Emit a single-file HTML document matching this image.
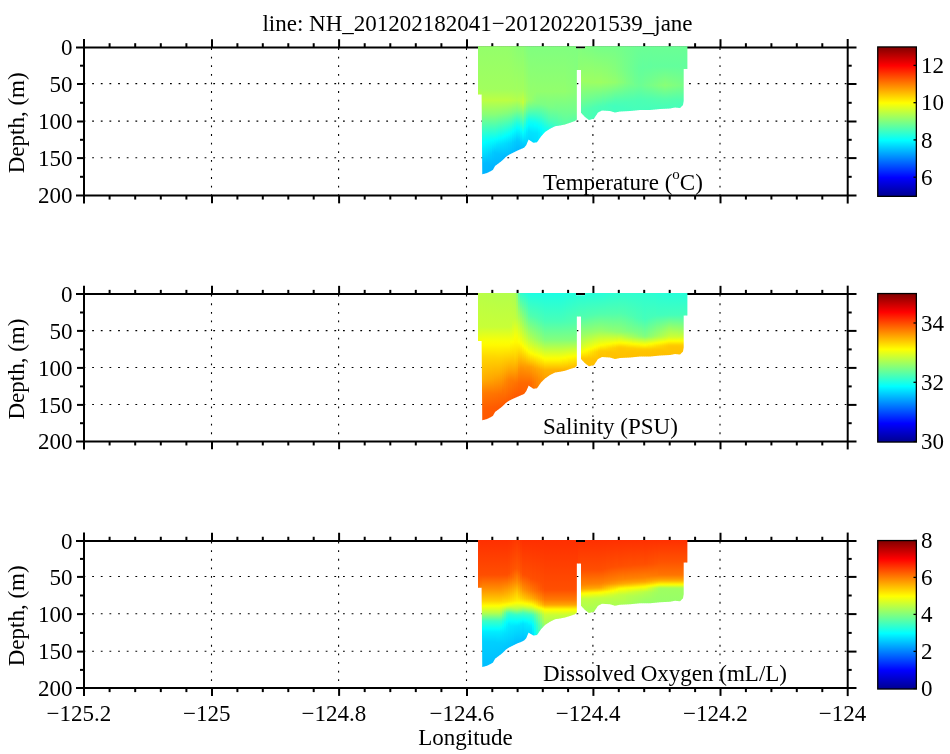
<!DOCTYPE html><html><head><meta charset="utf-8"><style>
html,body{margin:0;padding:0;background:#fff;width:950px;height:754px;overflow:hidden}
svg{display:block;will-change:transform}
text{font-family:"Liberation Serif", serif;fill:#000}
</style></head><body>
<svg width="950" height="754" viewBox="0 0 950 754">

<defs><linearGradient id="jet" x1="0" y1="1" x2="0" y2="0"><stop offset="0" stop-color="#000090"/><stop offset="0.125" stop-color="#0000ff"/><stop offset="0.375" stop-color="#00ffff"/><stop offset="0.625" stop-color="#ffff00"/><stop offset="0.875" stop-color="#ff0000"/><stop offset="1" stop-color="#800000"/></linearGradient></defs>
<text x="477.5" y="30.8" font-size="23" text-anchor="middle">line: NH_201202182041&#8722;201202201539_jane</text>
<g stroke="#000" stroke-width="1.1" fill="none"><line x1="211.5" y1="47.4" x2="211.5" y2="195.55" stroke-dasharray="1.8 6.8" stroke-dashoffset="7.9"/><line x1="338.6" y1="47.4" x2="338.6" y2="195.55" stroke-dasharray="1.8 6.8" stroke-dashoffset="7.9"/><line x1="466.5" y1="47.4" x2="466.5" y2="195.55" stroke-dasharray="1.8 6.8" stroke-dashoffset="7.9"/><line x1="592.9" y1="47.4" x2="592.9" y2="195.55" stroke-dasharray="1.8 6.8" stroke-dashoffset="7.9"/><line x1="720.0" y1="47.4" x2="720.0" y2="195.55" stroke-dasharray="1.8 6.8" stroke-dashoffset="7.9"/><line x1="84.0" y1="83.6" x2="847.7" y2="83.6" stroke-dasharray="1.8 6.85" stroke-dashoffset="0.5"/><line x1="84.0" y1="121.1" x2="847.7" y2="121.1" stroke-dasharray="1.8 6.85" stroke-dashoffset="0.5"/><line x1="84.0" y1="157.7" x2="847.7" y2="157.7" stroke-dasharray="1.8 6.85" stroke-dashoffset="0.5"/></g>
<g stroke="#000" stroke-width="2" fill="none"><line x1="76.0" y1="47.4" x2="856.5" y2="47.4"/><line x1="76.0" y1="195.55" x2="856.5" y2="195.55"/><line x1="84.0" y1="39.0" x2="84.0" y2="203.55"/><line x1="847.7" y1="39.0" x2="847.7" y2="203.55"/><line x1="212.0" y1="47.4" x2="212.0" y2="39.2"/><line x1="212.0" y1="195.55" x2="212.0" y2="203.35000000000002"/><line x1="339.1" y1="47.4" x2="339.1" y2="39.2"/><line x1="339.1" y1="195.55" x2="339.1" y2="203.35000000000002"/><line x1="467.0" y1="47.4" x2="467.0" y2="39.2"/><line x1="467.0" y1="195.55" x2="467.0" y2="203.35000000000002"/><line x1="593.4" y1="47.4" x2="593.4" y2="39.2"/><line x1="593.4" y1="195.55" x2="593.4" y2="203.35000000000002"/><line x1="720.5" y1="47.4" x2="720.5" y2="39.2"/><line x1="720.5" y1="195.55" x2="720.5" y2="203.35000000000002"/><line x1="109.6" y1="47.4" x2="109.6" y2="43.199999999999996"/><line x1="109.6" y1="195.55" x2="109.6" y2="199.55"/><line x1="135.2" y1="47.4" x2="135.2" y2="43.199999999999996"/><line x1="135.2" y1="195.55" x2="135.2" y2="199.55"/><line x1="160.8" y1="47.4" x2="160.8" y2="43.199999999999996"/><line x1="160.8" y1="195.55" x2="160.8" y2="199.55"/><line x1="186.4" y1="47.4" x2="186.4" y2="43.199999999999996"/><line x1="186.4" y1="195.55" x2="186.4" y2="199.55"/><line x1="237.4" y1="47.4" x2="237.4" y2="43.199999999999996"/><line x1="237.4" y1="195.55" x2="237.4" y2="199.55"/><line x1="262.8" y1="47.4" x2="262.8" y2="43.199999999999996"/><line x1="262.8" y1="195.55" x2="262.8" y2="199.55"/><line x1="288.3" y1="47.4" x2="288.3" y2="43.199999999999996"/><line x1="288.3" y1="195.55" x2="288.3" y2="199.55"/><line x1="313.7" y1="47.4" x2="313.7" y2="43.199999999999996"/><line x1="313.7" y1="195.55" x2="313.7" y2="199.55"/><line x1="364.7" y1="47.4" x2="364.7" y2="43.199999999999996"/><line x1="364.7" y1="195.55" x2="364.7" y2="199.55"/><line x1="390.3" y1="47.4" x2="390.3" y2="43.199999999999996"/><line x1="390.3" y1="195.55" x2="390.3" y2="199.55"/><line x1="415.8" y1="47.4" x2="415.8" y2="43.199999999999996"/><line x1="415.8" y1="195.55" x2="415.8" y2="199.55"/><line x1="441.4" y1="47.4" x2="441.4" y2="43.199999999999996"/><line x1="441.4" y1="195.55" x2="441.4" y2="199.55"/><line x1="492.3" y1="47.4" x2="492.3" y2="43.199999999999996"/><line x1="492.3" y1="195.55" x2="492.3" y2="199.55"/><line x1="517.6" y1="47.4" x2="517.6" y2="43.199999999999996"/><line x1="517.6" y1="195.55" x2="517.6" y2="199.55"/><line x1="542.8" y1="47.4" x2="542.8" y2="43.199999999999996"/><line x1="542.8" y1="195.55" x2="542.8" y2="199.55"/><line x1="568.1" y1="47.4" x2="568.1" y2="43.199999999999996"/><line x1="568.1" y1="195.55" x2="568.1" y2="199.55"/><line x1="618.8" y1="47.4" x2="618.8" y2="43.199999999999996"/><line x1="618.8" y1="195.55" x2="618.8" y2="199.55"/><line x1="644.2" y1="47.4" x2="644.2" y2="43.199999999999996"/><line x1="644.2" y1="195.55" x2="644.2" y2="199.55"/><line x1="669.7" y1="47.4" x2="669.7" y2="43.199999999999996"/><line x1="669.7" y1="195.55" x2="669.7" y2="199.55"/><line x1="695.1" y1="47.4" x2="695.1" y2="43.199999999999996"/><line x1="695.1" y1="195.55" x2="695.1" y2="199.55"/><line x1="745.9" y1="47.4" x2="745.9" y2="43.199999999999996"/><line x1="745.9" y1="195.55" x2="745.9" y2="199.55"/><line x1="771.4" y1="47.4" x2="771.4" y2="43.199999999999996"/><line x1="771.4" y1="195.55" x2="771.4" y2="199.55"/><line x1="796.8" y1="47.4" x2="796.8" y2="43.199999999999996"/><line x1="796.8" y1="195.55" x2="796.8" y2="199.55"/><line x1="822.3" y1="47.4" x2="822.3" y2="43.199999999999996"/><line x1="822.3" y1="195.55" x2="822.3" y2="199.55"/><line x1="84.0" y1="84.0" x2="77.0" y2="84.0"/><line x1="847.7" y1="84.0" x2="856.5" y2="84.0"/><line x1="84.0" y1="121.5" x2="77.0" y2="121.5"/><line x1="847.7" y1="121.5" x2="856.5" y2="121.5"/><line x1="84.0" y1="158.1" x2="77.0" y2="158.1"/><line x1="847.7" y1="158.1" x2="856.5" y2="158.1"/><line x1="84.0" y1="65.7" x2="80.0" y2="65.7"/><line x1="847.7" y1="65.7" x2="851.7" y2="65.7"/><line x1="84.0" y1="102.8" x2="80.0" y2="102.8"/><line x1="847.7" y1="102.8" x2="851.7" y2="102.8"/><line x1="84.0" y1="139.8" x2="80.0" y2="139.8"/><line x1="847.7" y1="139.8" x2="851.7" y2="139.8"/><line x1="84.0" y1="176.8" x2="80.0" y2="176.8"/><line x1="847.7" y1="176.8" x2="851.7" y2="176.8"/></g>
<defs><clipPath id="ac"><polygon points="478.0,46.3 576.0,46.3 576.0,48.6 585.0,48.6 585.0,46.3 687.4,46.3 687.4,69.0 683.7,69.0 683.7,101.1 683.0,105.1 680.0,108.1 675.0,107.6 670.0,108.6 660.0,109.1 650.0,110.1 640.0,110.1 630.0,111.1 620.0,111.6 615.0,112.6 610.0,111.1 602.0,110.6 598.0,112.6 595.0,117.1 594.0,118.6 589.0,119.9 585.0,116.9 581.0,112.7 581.0,70.0 576.8,70.0 576.8,119.5 575.0,121.1 570.0,122.8 565.0,124.5 560.0,125.4 555.0,126.2 550.0,128.7 545.0,132.1 541.0,136.4 537.0,142.2 533.4,142.7 530.0,140.5 528.5,139.5 528.0,141.1 526.0,145.5 524.0,147.8 521.0,149.1 517.0,150.8 513.0,152.7 509.0,154.7 506.0,156.7 503.0,159.7 501.0,161.4 498.0,163.7 495.0,166.0 493.0,169.7 491.0,171.0 487.0,173.0 482.3,174.3 481.6,94.6 478.0,94.6"/></clipPath><linearGradient id="a0" gradientUnits="userSpaceOnUse" x1="0" y1="45.3" x2="0" y2="175.3"><stop offset="0.000" stop-color="#94ff6b"/><stop offset="0.308" stop-color="#9fff60"/><stop offset="0.377" stop-color="#bdff42"/><stop offset="1.000" stop-color="#bdff42"/></linearGradient><linearGradient id="a1" gradientUnits="userSpaceOnUse" x1="0" y1="45.3" x2="0" y2="175.3"><stop offset="0.000" stop-color="#94ff6b"/><stop offset="0.315" stop-color="#a1ff5e"/><stop offset="0.385" stop-color="#baff45"/><stop offset="0.446" stop-color="#baff45"/><stop offset="0.831" stop-color="#86ff79"/><stop offset="0.946" stop-color="#7cff83"/><stop offset="1.000" stop-color="#7aff85"/></linearGradient><linearGradient id="a2" gradientUnits="userSpaceOnUse" x1="0" y1="45.3" x2="0" y2="175.3"><stop offset="0.000" stop-color="#94ff6b"/><stop offset="0.331" stop-color="#a1ff5e"/><stop offset="0.423" stop-color="#bcff43"/><stop offset="0.531" stop-color="#96ff69"/><stop offset="0.708" stop-color="#42ffbd"/><stop offset="0.900" stop-color="#00fcff"/><stop offset="1.000" stop-color="#00f5ff"/></linearGradient><linearGradient id="a3" gradientUnits="userSpaceOnUse" x1="0" y1="45.3" x2="0" y2="175.3"><stop offset="0.000" stop-color="#94ff6b"/><stop offset="0.338" stop-color="#a1ff5e"/><stop offset="0.423" stop-color="#bcff43"/><stop offset="0.531" stop-color="#89ff76"/><stop offset="0.700" stop-color="#1cffe3"/><stop offset="0.754" stop-color="#00ffff"/><stop offset="0.877" stop-color="#00c8ff"/><stop offset="0.908" stop-color="#00bbff"/><stop offset="1.000" stop-color="#00b3ff"/></linearGradient><linearGradient id="a4" gradientUnits="userSpaceOnUse" x1="0" y1="45.3" x2="0" y2="175.3"><stop offset="0.000" stop-color="#94ff6b"/><stop offset="0.338" stop-color="#a1ff5e"/><stop offset="0.423" stop-color="#bcff43"/><stop offset="0.531" stop-color="#89ff76"/><stop offset="0.723" stop-color="#0dfff2"/><stop offset="0.746" stop-color="#00ffff"/><stop offset="0.908" stop-color="#00bbff"/><stop offset="1.000" stop-color="#00b2ff"/></linearGradient><linearGradient id="a5" gradientUnits="userSpaceOnUse" x1="0" y1="45.3" x2="0" y2="175.3"><stop offset="0.000" stop-color="#94ff6b"/><stop offset="0.338" stop-color="#a1ff5e"/><stop offset="0.423" stop-color="#bcff43"/><stop offset="0.531" stop-color="#89ff76"/><stop offset="0.738" stop-color="#01fffe"/><stop offset="0.900" stop-color="#00bbff"/><stop offset="1.000" stop-color="#00b3ff"/></linearGradient><linearGradient id="a6" gradientUnits="userSpaceOnUse" x1="0" y1="45.3" x2="0" y2="175.3"><stop offset="0.000" stop-color="#94ff6b"/><stop offset="0.338" stop-color="#a1ff5e"/><stop offset="0.423" stop-color="#bcff43"/><stop offset="0.531" stop-color="#89ff76"/><stop offset="0.738" stop-color="#00feff"/><stop offset="0.846" stop-color="#00cdff"/><stop offset="0.915" stop-color="#00b8ff"/><stop offset="1.000" stop-color="#00b2ff"/></linearGradient><linearGradient id="a7" gradientUnits="userSpaceOnUse" x1="0" y1="45.3" x2="0" y2="175.3"><stop offset="0.000" stop-color="#94ff6b"/><stop offset="0.338" stop-color="#a1ff5e"/><stop offset="0.423" stop-color="#bcff43"/><stop offset="0.531" stop-color="#89ff76"/><stop offset="0.731" stop-color="#01fffe"/><stop offset="0.838" stop-color="#00ccff"/><stop offset="0.931" stop-color="#00b5ff"/><stop offset="1.000" stop-color="#00b2ff"/></linearGradient><linearGradient id="a8" gradientUnits="userSpaceOnUse" x1="0" y1="45.3" x2="0" y2="175.3"><stop offset="0.000" stop-color="#94ff6b"/><stop offset="0.338" stop-color="#a1ff5e"/><stop offset="0.423" stop-color="#bcff43"/><stop offset="0.531" stop-color="#89ff76"/><stop offset="0.708" stop-color="#10ffef"/><stop offset="0.731" stop-color="#00feff"/><stop offset="0.823" stop-color="#00cbff"/><stop offset="0.938" stop-color="#00b3ff"/><stop offset="1.000" stop-color="#00b2ff"/></linearGradient><linearGradient id="a9" gradientUnits="userSpaceOnUse" x1="0" y1="45.3" x2="0" y2="175.3"><stop offset="0.000" stop-color="#94ff6b"/><stop offset="0.338" stop-color="#a1ff5e"/><stop offset="0.423" stop-color="#bcff43"/><stop offset="0.531" stop-color="#89ff76"/><stop offset="0.692" stop-color="#1bffe4"/><stop offset="0.723" stop-color="#02fffd"/><stop offset="0.823" stop-color="#00c7ff"/><stop offset="0.946" stop-color="#00b2ff"/><stop offset="1.000" stop-color="#00b2ff"/></linearGradient><linearGradient id="a10" gradientUnits="userSpaceOnUse" x1="0" y1="45.3" x2="0" y2="175.3"><stop offset="0.000" stop-color="#94ff6b"/><stop offset="0.338" stop-color="#a1ff5e"/><stop offset="0.423" stop-color="#bcff43"/><stop offset="0.531" stop-color="#87ff78"/><stop offset="0.708" stop-color="#0bfff4"/><stop offset="0.723" stop-color="#00feff"/><stop offset="0.761" stop-color="#00e4ff"/><stop offset="0.831" stop-color="#00c4ff"/><stop offset="0.946" stop-color="#00b2ff"/><stop offset="1.000" stop-color="#00b2ff"/></linearGradient><linearGradient id="a11" gradientUnits="userSpaceOnUse" x1="0" y1="45.3" x2="0" y2="175.3"><stop offset="0.000" stop-color="#94ff6b"/><stop offset="0.338" stop-color="#a1ff5e"/><stop offset="0.423" stop-color="#bcff43"/><stop offset="0.523" stop-color="#8aff75"/><stop offset="0.715" stop-color="#01fffe"/><stop offset="0.761" stop-color="#00e2ff"/><stop offset="0.838" stop-color="#00c2ff"/><stop offset="0.946" stop-color="#00b2ff"/><stop offset="1.000" stop-color="#00b2ff"/></linearGradient><linearGradient id="a12" gradientUnits="userSpaceOnUse" x1="0" y1="45.3" x2="0" y2="175.3"><stop offset="0.000" stop-color="#94ff6b"/><stop offset="0.338" stop-color="#a1ff5e"/><stop offset="0.423" stop-color="#bcff43"/><stop offset="0.523" stop-color="#89ff76"/><stop offset="0.715" stop-color="#00fcff"/><stop offset="0.761" stop-color="#00dfff"/><stop offset="0.838" stop-color="#00c0ff"/><stop offset="0.923" stop-color="#00b3ff"/><stop offset="1.000" stop-color="#00b2ff"/></linearGradient><linearGradient id="a13" gradientUnits="userSpaceOnUse" x1="0" y1="45.3" x2="0" y2="175.3"><stop offset="0.000" stop-color="#94ff6b"/><stop offset="0.338" stop-color="#a1ff5e"/><stop offset="0.423" stop-color="#bcff43"/><stop offset="0.523" stop-color="#87ff78"/><stop offset="0.708" stop-color="#00feff"/><stop offset="0.754" stop-color="#00e0ff"/><stop offset="0.854" stop-color="#00bbff"/><stop offset="0.969" stop-color="#00b2ff"/><stop offset="1.000" stop-color="#00b2ff"/></linearGradient><linearGradient id="a14" gradientUnits="userSpaceOnUse" x1="0" y1="45.3" x2="0" y2="175.3"><stop offset="0.000" stop-color="#94ff6b"/><stop offset="0.338" stop-color="#a1ff5e"/><stop offset="0.423" stop-color="#bcff43"/><stop offset="0.523" stop-color="#85ff7a"/><stop offset="0.700" stop-color="#00ffff"/><stop offset="0.754" stop-color="#00ddff"/><stop offset="0.869" stop-color="#00b5ff"/><stop offset="1.000" stop-color="#00b2ff"/></linearGradient><linearGradient id="a15" gradientUnits="userSpaceOnUse" x1="0" y1="45.3" x2="0" y2="175.3"><stop offset="0.000" stop-color="#94ff6b"/><stop offset="0.338" stop-color="#a1ff5e"/><stop offset="0.423" stop-color="#bcff43"/><stop offset="0.523" stop-color="#83ff7c"/><stop offset="0.692" stop-color="#01fffe"/><stop offset="0.754" stop-color="#00daff"/><stop offset="0.877" stop-color="#00b3ff"/><stop offset="1.000" stop-color="#00b2ff"/></linearGradient><linearGradient id="a16" gradientUnits="userSpaceOnUse" x1="0" y1="45.3" x2="0" y2="175.3"><stop offset="0.000" stop-color="#93ff6c"/><stop offset="0.338" stop-color="#a1ff5e"/><stop offset="0.423" stop-color="#bbff44"/><stop offset="0.523" stop-color="#80ff7f"/><stop offset="0.685" stop-color="#01fffe"/><stop offset="0.754" stop-color="#00d6ff"/><stop offset="0.877" stop-color="#00b3ff"/><stop offset="1.000" stop-color="#00b3ff"/></linearGradient><linearGradient id="a17" gradientUnits="userSpaceOnUse" x1="0" y1="45.3" x2="0" y2="175.3"><stop offset="0.000" stop-color="#91ff6e"/><stop offset="0.338" stop-color="#a1ff5e"/><stop offset="0.423" stop-color="#b9ff46"/><stop offset="0.515" stop-color="#80ff7f"/><stop offset="0.654" stop-color="#0efff1"/><stop offset="0.677" stop-color="#00fdff"/><stop offset="0.754" stop-color="#00d2ff"/><stop offset="0.869" stop-color="#00b2ff"/><stop offset="1.000" stop-color="#00b2ff"/></linearGradient><linearGradient id="a18" gradientUnits="userSpaceOnUse" x1="0" y1="45.3" x2="0" y2="175.3"><stop offset="0.000" stop-color="#8fff70"/><stop offset="0.338" stop-color="#a1ff5e"/><stop offset="0.423" stop-color="#b7ff48"/><stop offset="0.515" stop-color="#7bff84"/><stop offset="0.608" stop-color="#2affd5"/><stop offset="0.661" stop-color="#00ffff"/><stop offset="0.746" stop-color="#00cfff"/><stop offset="0.861" stop-color="#00b4ff"/><stop offset="1.000" stop-color="#00b2ff"/></linearGradient><linearGradient id="a19" gradientUnits="userSpaceOnUse" x1="0" y1="45.3" x2="0" y2="175.3"><stop offset="0.000" stop-color="#8dff72"/><stop offset="0.338" stop-color="#a0ff5f"/><stop offset="0.423" stop-color="#b5ff4a"/><stop offset="0.508" stop-color="#7dff82"/><stop offset="0.592" stop-color="#2dffd2"/><stop offset="0.654" stop-color="#00fcff"/><stop offset="0.746" stop-color="#00caff"/><stop offset="0.846" stop-color="#00b5ff"/><stop offset="1.000" stop-color="#00b2ff"/></linearGradient><linearGradient id="a20" gradientUnits="userSpaceOnUse" x1="0" y1="45.3" x2="0" y2="175.3"><stop offset="0.000" stop-color="#8bff74"/><stop offset="0.346" stop-color="#a2ff5d"/><stop offset="0.423" stop-color="#b2ff4d"/><stop offset="0.508" stop-color="#78ff87"/><stop offset="0.592" stop-color="#25ffda"/><stop offset="0.638" stop-color="#00ffff"/><stop offset="0.731" stop-color="#00caff"/><stop offset="0.838" stop-color="#00b3ff"/><stop offset="1.000" stop-color="#00b2ff"/></linearGradient><linearGradient id="a21" gradientUnits="userSpaceOnUse" x1="0" y1="45.3" x2="0" y2="175.3"><stop offset="0.000" stop-color="#8aff75"/><stop offset="0.338" stop-color="#a0ff5f"/><stop offset="0.423" stop-color="#b5ff4a"/><stop offset="0.500" stop-color="#82ff7d"/><stop offset="0.592" stop-color="#28ffd7"/><stop offset="0.638" stop-color="#02fffd"/><stop offset="0.738" stop-color="#00c9ff"/><stop offset="0.823" stop-color="#00b5ff"/><stop offset="1.000" stop-color="#00b5ff"/></linearGradient><linearGradient id="a22" gradientUnits="userSpaceOnUse" x1="0" y1="45.3" x2="0" y2="175.3"><stop offset="0.000" stop-color="#8aff75"/><stop offset="0.338" stop-color="#a1ff5e"/><stop offset="0.431" stop-color="#bbff44"/><stop offset="0.454" stop-color="#aeff51"/><stop offset="0.538" stop-color="#68ff97"/><stop offset="0.654" stop-color="#02fffd"/><stop offset="0.746" stop-color="#00cdff"/><stop offset="0.800" stop-color="#00bbff"/><stop offset="1.000" stop-color="#00b9ff"/></linearGradient><linearGradient id="a23" gradientUnits="userSpaceOnUse" x1="0" y1="45.3" x2="0" y2="175.3"><stop offset="0.000" stop-color="#8aff75"/><stop offset="0.338" stop-color="#a2ff5d"/><stop offset="0.438" stop-color="#c6ff39"/><stop offset="0.608" stop-color="#39ffc6"/><stop offset="0.669" stop-color="#04fffb"/><stop offset="0.692" stop-color="#00f4ff"/><stop offset="0.761" stop-color="#00cbff"/><stop offset="0.800" stop-color="#00bdff"/><stop offset="1.000" stop-color="#00bdff"/></linearGradient><linearGradient id="a24" gradientUnits="userSpaceOnUse" x1="0" y1="45.3" x2="0" y2="175.3"><stop offset="0.000" stop-color="#86ff79"/><stop offset="0.338" stop-color="#9dff62"/><stop offset="0.431" stop-color="#b2ff4d"/><stop offset="0.454" stop-color="#a4ff5b"/><stop offset="0.615" stop-color="#1cffe3"/><stop offset="0.654" stop-color="#00fdff"/><stop offset="0.754" stop-color="#00d0ff"/><stop offset="0.800" stop-color="#00c5ff"/><stop offset="1.000" stop-color="#00c5ff"/></linearGradient><linearGradient id="a25" gradientUnits="userSpaceOnUse" x1="0" y1="45.3" x2="0" y2="175.3"><stop offset="0.000" stop-color="#82ff7d"/><stop offset="0.361" stop-color="#9bff64"/><stop offset="0.423" stop-color="#a4ff5b"/><stop offset="0.500" stop-color="#6aff95"/><stop offset="0.585" stop-color="#18ffe7"/><stop offset="0.623" stop-color="#01fffe"/><stop offset="0.669" stop-color="#00e9ff"/><stop offset="0.761" stop-color="#00d0ff"/><stop offset="1.000" stop-color="#00cdff"/></linearGradient><linearGradient id="a26" gradientUnits="userSpaceOnUse" x1="0" y1="45.3" x2="0" y2="175.3"><stop offset="0.000" stop-color="#80ff80"/><stop offset="0.423" stop-color="#9aff65"/><stop offset="0.508" stop-color="#57ffa8"/><stop offset="0.577" stop-color="#10ffef"/><stop offset="0.608" stop-color="#00feff"/><stop offset="0.661" stop-color="#00e4ff"/><stop offset="0.761" stop-color="#00d2ff"/><stop offset="1.000" stop-color="#00d2ff"/></linearGradient><linearGradient id="a27" gradientUnits="userSpaceOnUse" x1="0" y1="45.3" x2="0" y2="175.3"><stop offset="0.000" stop-color="#80ff80"/><stop offset="0.415" stop-color="#96ff69"/><stop offset="0.446" stop-color="#87ff78"/><stop offset="0.523" stop-color="#48ffb7"/><stop offset="0.585" stop-color="#0efff1"/><stop offset="0.615" stop-color="#00fcff"/><stop offset="0.669" stop-color="#00e3ff"/><stop offset="0.761" stop-color="#00d4ff"/><stop offset="1.000" stop-color="#00d4ff"/></linearGradient><linearGradient id="a28" gradientUnits="userSpaceOnUse" x1="0" y1="45.3" x2="0" y2="175.3"><stop offset="0.000" stop-color="#80ff80"/><stop offset="0.369" stop-color="#94ff6b"/><stop offset="0.423" stop-color="#90ff6f"/><stop offset="0.477" stop-color="#6eff91"/><stop offset="0.546" stop-color="#33ffcc"/><stop offset="0.592" stop-color="#0bfff4"/><stop offset="0.623" stop-color="#00f9ff"/><stop offset="0.677" stop-color="#00e2ff"/><stop offset="0.769" stop-color="#00d6ff"/><stop offset="1.000" stop-color="#00d6ff"/></linearGradient><linearGradient id="a29" gradientUnits="userSpaceOnUse" x1="0" y1="45.3" x2="0" y2="175.3"><stop offset="0.000" stop-color="#80ff80"/><stop offset="0.361" stop-color="#93ff6c"/><stop offset="0.431" stop-color="#88ff77"/><stop offset="0.477" stop-color="#6cff93"/><stop offset="0.546" stop-color="#34ffcb"/><stop offset="0.592" stop-color="#0cfff3"/><stop offset="0.615" stop-color="#00ffff"/><stop offset="0.677" stop-color="#00e3ff"/><stop offset="0.777" stop-color="#00d8ff"/><stop offset="1.000" stop-color="#00d8ff"/></linearGradient><linearGradient id="a30" gradientUnits="userSpaceOnUse" x1="0" y1="45.3" x2="0" y2="175.3"><stop offset="0.000" stop-color="#80ff80"/><stop offset="0.354" stop-color="#92ff6d"/><stop offset="0.446" stop-color="#80ff7f"/><stop offset="0.538" stop-color="#3dffc2"/><stop offset="0.600" stop-color="#0afff5"/><stop offset="0.623" stop-color="#00fcff"/><stop offset="0.677" stop-color="#00e4ff"/><stop offset="0.785" stop-color="#00daff"/><stop offset="1.000" stop-color="#00daff"/></linearGradient><linearGradient id="a31" gradientUnits="userSpaceOnUse" x1="0" y1="45.3" x2="0" y2="175.3"><stop offset="0.000" stop-color="#80ff80"/><stop offset="0.354" stop-color="#92ff6d"/><stop offset="0.446" stop-color="#7fff80"/><stop offset="0.538" stop-color="#40ffbf"/><stop offset="0.600" stop-color="#0ffff0"/><stop offset="0.631" stop-color="#00fdff"/><stop offset="0.677" stop-color="#00eaff"/><stop offset="0.792" stop-color="#00e1ff"/><stop offset="1.000" stop-color="#00e1ff"/></linearGradient><linearGradient id="a32" gradientUnits="userSpaceOnUse" x1="0" y1="45.3" x2="0" y2="175.3"><stop offset="0.000" stop-color="#80ff80"/><stop offset="0.354" stop-color="#92ff6d"/><stop offset="0.454" stop-color="#7bff84"/><stop offset="0.546" stop-color="#40ffbf"/><stop offset="0.608" stop-color="#13ffec"/><stop offset="0.646" stop-color="#00fdff"/><stop offset="0.685" stop-color="#00f3ff"/><stop offset="0.815" stop-color="#00edff"/><stop offset="1.000" stop-color="#00edff"/></linearGradient><linearGradient id="a33" gradientUnits="userSpaceOnUse" x1="0" y1="45.3" x2="0" y2="175.3"><stop offset="0.000" stop-color="#80ff80"/><stop offset="0.354" stop-color="#92ff6d"/><stop offset="0.454" stop-color="#7cff83"/><stop offset="0.554" stop-color="#41ffbe"/><stop offset="0.615" stop-color="#16ffe9"/><stop offset="0.654" stop-color="#04fffb"/><stop offset="0.700" stop-color="#00fdff"/><stop offset="0.977" stop-color="#00f9ff"/><stop offset="1.000" stop-color="#00f9ff"/></linearGradient><linearGradient id="a34" gradientUnits="userSpaceOnUse" x1="0" y1="45.3" x2="0" y2="175.3"><stop offset="0.000" stop-color="#80ff80"/><stop offset="0.354" stop-color="#92ff6d"/><stop offset="0.461" stop-color="#7aff85"/><stop offset="0.561" stop-color="#43ffbc"/><stop offset="0.638" stop-color="#11ffee"/><stop offset="0.708" stop-color="#08fff7"/><stop offset="1.000" stop-color="#06fff9"/></linearGradient><linearGradient id="a35" gradientUnits="userSpaceOnUse" x1="0" y1="45.3" x2="0" y2="175.3"><stop offset="0.000" stop-color="#80ff80"/><stop offset="0.354" stop-color="#92ff6d"/><stop offset="0.461" stop-color="#7cff83"/><stop offset="0.569" stop-color="#45ffba"/><stop offset="0.638" stop-color="#18ffe7"/><stop offset="0.846" stop-color="#12ffed"/><stop offset="1.000" stop-color="#12ffed"/></linearGradient><linearGradient id="a36" gradientUnits="userSpaceOnUse" x1="0" y1="45.3" x2="0" y2="175.3"><stop offset="0.000" stop-color="#80ff80"/><stop offset="0.354" stop-color="#92ff6d"/><stop offset="0.469" stop-color="#7bff84"/><stop offset="0.569" stop-color="#4dffb2"/><stop offset="0.638" stop-color="#20ffdf"/><stop offset="1.000" stop-color="#1effe1"/></linearGradient><linearGradient id="a37" gradientUnits="userSpaceOnUse" x1="0" y1="45.3" x2="0" y2="175.3"><stop offset="0.000" stop-color="#80ff80"/><stop offset="0.354" stop-color="#92ff6d"/><stop offset="0.477" stop-color="#79ff86"/><stop offset="0.569" stop-color="#52ffad"/><stop offset="0.638" stop-color="#27ffd8"/><stop offset="1.000" stop-color="#27ffd8"/></linearGradient><linearGradient id="a38" gradientUnits="userSpaceOnUse" x1="0" y1="45.3" x2="0" y2="175.3"><stop offset="0.000" stop-color="#80ff80"/><stop offset="0.354" stop-color="#92ff6d"/><stop offset="0.477" stop-color="#79ff86"/><stop offset="0.577" stop-color="#4fffb0"/><stop offset="0.638" stop-color="#2effd1"/><stop offset="1.000" stop-color="#2effd1"/></linearGradient><linearGradient id="a39" gradientUnits="userSpaceOnUse" x1="0" y1="45.3" x2="0" y2="175.3"><stop offset="0.000" stop-color="#80ff80"/><stop offset="0.354" stop-color="#92ff6d"/><stop offset="0.485" stop-color="#76ff89"/><stop offset="0.577" stop-color="#52ffad"/><stop offset="0.638" stop-color="#35ffca"/><stop offset="1.000" stop-color="#35ffca"/></linearGradient><linearGradient id="a40" gradientUnits="userSpaceOnUse" x1="0" y1="45.3" x2="0" y2="175.3"><stop offset="0.000" stop-color="#80ff80"/><stop offset="0.354" stop-color="#92ff6d"/><stop offset="0.492" stop-color="#74ff8b"/><stop offset="0.592" stop-color="#4dffb2"/><stop offset="0.646" stop-color="#3cffc3"/><stop offset="1.000" stop-color="#3cffc3"/></linearGradient><linearGradient id="a41" gradientUnits="userSpaceOnUse" x1="0" y1="45.3" x2="0" y2="175.3"><stop offset="0.000" stop-color="#80ff80"/><stop offset="0.354" stop-color="#92ff6d"/><stop offset="0.500" stop-color="#73ff8c"/><stop offset="0.638" stop-color="#42ffbd"/><stop offset="1.000" stop-color="#42ffbd"/></linearGradient><linearGradient id="a42" gradientUnits="userSpaceOnUse" x1="0" y1="45.3" x2="0" y2="175.3"><stop offset="0.000" stop-color="#80ff80"/><stop offset="0.354" stop-color="#92ff6d"/><stop offset="0.515" stop-color="#6eff91"/><stop offset="0.623" stop-color="#4cffb3"/><stop offset="1.000" stop-color="#49ffb6"/></linearGradient><linearGradient id="a43" gradientUnits="userSpaceOnUse" x1="0" y1="45.3" x2="0" y2="175.3"><stop offset="0.000" stop-color="#80ff80"/><stop offset="0.354" stop-color="#92ff6d"/><stop offset="0.531" stop-color="#6bff94"/><stop offset="0.623" stop-color="#51ffae"/><stop offset="1.000" stop-color="#50ffaf"/></linearGradient><linearGradient id="a44" gradientUnits="userSpaceOnUse" x1="0" y1="45.3" x2="0" y2="175.3"><stop offset="0.000" stop-color="#80ff80"/><stop offset="0.354" stop-color="#92ff6d"/><stop offset="0.546" stop-color="#68ff97"/><stop offset="0.615" stop-color="#57ffa8"/><stop offset="1.000" stop-color="#57ffa8"/></linearGradient><linearGradient id="a45" gradientUnits="userSpaceOnUse" x1="0" y1="45.3" x2="0" y2="175.3"><stop offset="0.000" stop-color="#80ff80"/><stop offset="0.354" stop-color="#90ff6f"/><stop offset="0.531" stop-color="#6cff93"/><stop offset="0.615" stop-color="#57ffa8"/><stop offset="1.000" stop-color="#57ffa8"/></linearGradient><linearGradient id="a46" gradientUnits="userSpaceOnUse" x1="0" y1="45.3" x2="0" y2="175.3"><stop offset="0.000" stop-color="#80ff80"/><stop offset="0.354" stop-color="#8fff70"/><stop offset="0.523" stop-color="#6dff92"/><stop offset="0.608" stop-color="#57ffa8"/><stop offset="1.000" stop-color="#57ffa8"/></linearGradient><linearGradient id="a47" gradientUnits="userSpaceOnUse" x1="0" y1="45.3" x2="0" y2="175.3"><stop offset="0.000" stop-color="#80ff80"/><stop offset="0.354" stop-color="#8dff72"/><stop offset="0.515" stop-color="#70ff8f"/><stop offset="0.592" stop-color="#59ffa6"/><stop offset="1.000" stop-color="#57ffa8"/></linearGradient><linearGradient id="a48" gradientUnits="userSpaceOnUse" x1="0" y1="45.3" x2="0" y2="175.3"><stop offset="0.000" stop-color="#80ff80"/><stop offset="0.354" stop-color="#8cff73"/><stop offset="0.515" stop-color="#6fff90"/><stop offset="0.585" stop-color="#59ffa6"/><stop offset="1.000" stop-color="#57ffa8"/></linearGradient><linearGradient id="a49" gradientUnits="userSpaceOnUse" x1="0" y1="45.3" x2="0" y2="175.3"><stop offset="0.000" stop-color="#80ff80"/><stop offset="0.361" stop-color="#89ff76"/><stop offset="0.508" stop-color="#72ff8d"/><stop offset="0.585" stop-color="#58ffa7"/><stop offset="1.000" stop-color="#57ffa8"/></linearGradient><linearGradient id="a50" gradientUnits="userSpaceOnUse" x1="0" y1="45.3" x2="0" y2="175.3"><stop offset="0.000" stop-color="#80ff80"/><stop offset="0.361" stop-color="#87ff78"/><stop offset="0.508" stop-color="#72ff8d"/><stop offset="0.585" stop-color="#57ffa8"/><stop offset="1.000" stop-color="#57ffa8"/></linearGradient><linearGradient id="a51" gradientUnits="userSpaceOnUse" x1="0" y1="45.3" x2="0" y2="175.3"><stop offset="0.000" stop-color="#80ff80"/><stop offset="0.238" stop-color="#90ff6f"/><stop offset="0.292" stop-color="#90ff6f"/><stop offset="0.400" stop-color="#7dff82"/><stop offset="0.585" stop-color="#52ffad"/><stop offset="1.000" stop-color="#52ffad"/></linearGradient><linearGradient id="a52" gradientUnits="userSpaceOnUse" x1="0" y1="45.3" x2="0" y2="175.3"><stop offset="0.000" stop-color="#80ff80"/><stop offset="0.185" stop-color="#8fff70"/><stop offset="0.269" stop-color="#9eff61"/><stop offset="0.408" stop-color="#75ff8a"/><stop offset="0.492" stop-color="#55ffaa"/><stop offset="0.592" stop-color="#4dffb2"/><stop offset="1.000" stop-color="#4dffb2"/></linearGradient><linearGradient id="a53" gradientUnits="userSpaceOnUse" x1="0" y1="45.3" x2="0" y2="175.3"><stop offset="0.000" stop-color="#7eff81"/><stop offset="0.185" stop-color="#8fff70"/><stop offset="0.269" stop-color="#9dff62"/><stop offset="0.408" stop-color="#74ff8b"/><stop offset="0.492" stop-color="#54ffab"/><stop offset="0.592" stop-color="#4bffb4"/><stop offset="1.000" stop-color="#4bffb4"/></linearGradient><linearGradient id="a54" gradientUnits="userSpaceOnUse" x1="0" y1="45.3" x2="0" y2="175.3"><stop offset="0.000" stop-color="#7dff82"/><stop offset="0.192" stop-color="#91ff6e"/><stop offset="0.277" stop-color="#9cff63"/><stop offset="0.408" stop-color="#73ff8c"/><stop offset="0.492" stop-color="#52ffad"/><stop offset="0.600" stop-color="#4affb5"/><stop offset="1.000" stop-color="#4affb5"/></linearGradient><linearGradient id="a55" gradientUnits="userSpaceOnUse" x1="0" y1="45.3" x2="0" y2="175.3"><stop offset="0.000" stop-color="#7cff83"/><stop offset="0.200" stop-color="#92ff6d"/><stop offset="0.277" stop-color="#9cff63"/><stop offset="0.408" stop-color="#71ff8e"/><stop offset="0.485" stop-color="#52ffad"/><stop offset="0.600" stop-color="#49ffb6"/><stop offset="1.000" stop-color="#49ffb6"/></linearGradient><linearGradient id="a56" gradientUnits="userSpaceOnUse" x1="0" y1="45.3" x2="0" y2="175.3"><stop offset="0.000" stop-color="#7bff84"/><stop offset="0.208" stop-color="#93ff6c"/><stop offset="0.277" stop-color="#9cff63"/><stop offset="0.408" stop-color="#70ff8f"/><stop offset="0.485" stop-color="#50ffaf"/><stop offset="0.600" stop-color="#48ffb7"/><stop offset="1.000" stop-color="#48ffb7"/></linearGradient><linearGradient id="a57" gradientUnits="userSpaceOnUse" x1="0" y1="45.3" x2="0" y2="175.3"><stop offset="0.000" stop-color="#7aff85"/><stop offset="0.223" stop-color="#96ff69"/><stop offset="0.285" stop-color="#9cff63"/><stop offset="0.408" stop-color="#6eff91"/><stop offset="0.485" stop-color="#4fffb0"/><stop offset="0.608" stop-color="#47ffb8"/><stop offset="1.000" stop-color="#47ffb8"/></linearGradient><linearGradient id="a58" gradientUnits="userSpaceOnUse" x1="0" y1="45.3" x2="0" y2="175.3"><stop offset="0.000" stop-color="#79ff86"/><stop offset="0.238" stop-color="#98ff67"/><stop offset="0.285" stop-color="#9cff63"/><stop offset="0.408" stop-color="#6dff92"/><stop offset="0.477" stop-color="#4fffb0"/><stop offset="0.561" stop-color="#46ffb9"/><stop offset="1.000" stop-color="#46ffb9"/></linearGradient><linearGradient id="a59" gradientUnits="userSpaceOnUse" x1="0" y1="45.3" x2="0" y2="175.3"><stop offset="0.000" stop-color="#78ff87"/><stop offset="0.285" stop-color="#9cff63"/><stop offset="0.415" stop-color="#68ff97"/><stop offset="0.477" stop-color="#4dffb2"/><stop offset="0.554" stop-color="#45ffba"/><stop offset="1.000" stop-color="#45ffba"/></linearGradient><linearGradient id="a60" gradientUnits="userSpaceOnUse" x1="0" y1="45.3" x2="0" y2="175.3"><stop offset="0.000" stop-color="#77ff88"/><stop offset="0.285" stop-color="#9dff62"/><stop offset="0.415" stop-color="#66ff99"/><stop offset="0.469" stop-color="#4effb1"/><stop offset="0.538" stop-color="#44ffbb"/><stop offset="1.000" stop-color="#44ffbb"/></linearGradient><linearGradient id="a61" gradientUnits="userSpaceOnUse" x1="0" y1="45.3" x2="0" y2="175.3"><stop offset="0.000" stop-color="#76ff89"/><stop offset="0.285" stop-color="#9dff62"/><stop offset="0.415" stop-color="#65ff9a"/><stop offset="0.469" stop-color="#4cffb3"/><stop offset="0.538" stop-color="#43ffbc"/><stop offset="1.000" stop-color="#43ffbc"/></linearGradient><linearGradient id="a62" gradientUnits="userSpaceOnUse" x1="0" y1="45.3" x2="0" y2="175.3"><stop offset="0.000" stop-color="#75ff8a"/><stop offset="0.285" stop-color="#9dff62"/><stop offset="0.423" stop-color="#5fffa0"/><stop offset="0.469" stop-color="#4affb5"/><stop offset="0.538" stop-color="#42ffbd"/><stop offset="1.000" stop-color="#42ffbd"/></linearGradient><linearGradient id="a63" gradientUnits="userSpaceOnUse" x1="0" y1="45.3" x2="0" y2="175.3"><stop offset="0.000" stop-color="#75ff8a"/><stop offset="0.285" stop-color="#9bff64"/><stop offset="0.446" stop-color="#51ffae"/><stop offset="0.485" stop-color="#47ffb8"/><stop offset="0.577" stop-color="#42ffbd"/><stop offset="1.000" stop-color="#42ffbd"/></linearGradient><linearGradient id="a64" gradientUnits="userSpaceOnUse" x1="0" y1="45.3" x2="0" y2="175.3"><stop offset="0.000" stop-color="#75ff8a"/><stop offset="0.285" stop-color="#9aff65"/><stop offset="0.469" stop-color="#48ffb7"/><stop offset="0.561" stop-color="#42ffbd"/><stop offset="1.000" stop-color="#42ffbd"/></linearGradient><linearGradient id="a65" gradientUnits="userSpaceOnUse" x1="0" y1="45.3" x2="0" y2="175.3"><stop offset="0.000" stop-color="#75ff8a"/><stop offset="0.246" stop-color="#94ff6b"/><stop offset="0.285" stop-color="#99ff66"/><stop offset="0.461" stop-color="#48ffb7"/><stop offset="0.585" stop-color="#42ffbd"/><stop offset="1.000" stop-color="#42ffbd"/></linearGradient><linearGradient id="a66" gradientUnits="userSpaceOnUse" x1="0" y1="45.3" x2="0" y2="175.3"><stop offset="0.000" stop-color="#75ff8a"/><stop offset="0.223" stop-color="#8fff70"/><stop offset="0.285" stop-color="#97ff68"/><stop offset="0.461" stop-color="#46ffb9"/><stop offset="0.677" stop-color="#42ffbd"/><stop offset="1.000" stop-color="#42ffbd"/></linearGradient><linearGradient id="a67" gradientUnits="userSpaceOnUse" x1="0" y1="45.3" x2="0" y2="175.3"><stop offset="0.000" stop-color="#75ff8a"/><stop offset="0.208" stop-color="#8bff74"/><stop offset="0.285" stop-color="#96ff69"/><stop offset="0.461" stop-color="#45ffba"/><stop offset="1.000" stop-color="#42ffbd"/></linearGradient><linearGradient id="a68" gradientUnits="userSpaceOnUse" x1="0" y1="45.3" x2="0" y2="175.3"><stop offset="0.000" stop-color="#75ff8a"/><stop offset="0.200" stop-color="#88ff77"/><stop offset="0.285" stop-color="#94ff6b"/><stop offset="0.438" stop-color="#4dffb2"/><stop offset="0.469" stop-color="#43ffbc"/><stop offset="1.000" stop-color="#42ffbd"/></linearGradient><linearGradient id="a69" gradientUnits="userSpaceOnUse" x1="0" y1="45.3" x2="0" y2="175.3"><stop offset="0.000" stop-color="#75ff8a"/><stop offset="0.192" stop-color="#86ff79"/><stop offset="0.285" stop-color="#93ff6c"/><stop offset="0.415" stop-color="#54ffab"/><stop offset="0.469" stop-color="#42ffbd"/><stop offset="1.000" stop-color="#42ffbd"/></linearGradient><linearGradient id="a70" gradientUnits="userSpaceOnUse" x1="0" y1="45.3" x2="0" y2="175.3"><stop offset="0.000" stop-color="#74ff8b"/><stop offset="0.192" stop-color="#83ff7c"/><stop offset="0.285" stop-color="#90ff6f"/><stop offset="0.423" stop-color="#50ffaf"/><stop offset="0.469" stop-color="#43ffbc"/><stop offset="1.000" stop-color="#42ffbd"/></linearGradient><linearGradient id="a71" gradientUnits="userSpaceOnUse" x1="0" y1="45.3" x2="0" y2="175.3"><stop offset="0.000" stop-color="#74ff8b"/><stop offset="0.192" stop-color="#80ff7f"/><stop offset="0.285" stop-color="#8cff73"/><stop offset="0.423" stop-color="#50ffaf"/><stop offset="0.469" stop-color="#43ffbc"/><stop offset="1.000" stop-color="#42ffbd"/></linearGradient><linearGradient id="a72" gradientUnits="userSpaceOnUse" x1="0" y1="45.3" x2="0" y2="175.3"><stop offset="0.000" stop-color="#73ff8c"/><stop offset="0.185" stop-color="#7dff82"/><stop offset="0.285" stop-color="#89ff76"/><stop offset="0.431" stop-color="#4dffb2"/><stop offset="0.477" stop-color="#43ffbc"/><stop offset="1.000" stop-color="#42ffbd"/></linearGradient><linearGradient id="a73" gradientUnits="userSpaceOnUse" x1="0" y1="45.3" x2="0" y2="175.3"><stop offset="0.000" stop-color="#72ff8d"/><stop offset="0.185" stop-color="#7aff85"/><stop offset="0.285" stop-color="#86ff79"/><stop offset="0.431" stop-color="#4dffb2"/><stop offset="0.477" stop-color="#43ffbc"/><stop offset="1.000" stop-color="#42ffbd"/></linearGradient><linearGradient id="a74" gradientUnits="userSpaceOnUse" x1="0" y1="45.3" x2="0" y2="175.3"><stop offset="0.000" stop-color="#71ff8e"/><stop offset="0.185" stop-color="#77ff88"/><stop offset="0.285" stop-color="#82ff7d"/><stop offset="0.438" stop-color="#4affb5"/><stop offset="0.492" stop-color="#43ffbc"/><stop offset="1.000" stop-color="#42ffbd"/></linearGradient><linearGradient id="a75" gradientUnits="userSpaceOnUse" x1="0" y1="45.3" x2="0" y2="175.3"><stop offset="0.000" stop-color="#70ff8f"/><stop offset="0.185" stop-color="#75ff8a"/><stop offset="0.292" stop-color="#7dff82"/><stop offset="0.438" stop-color="#4affb5"/><stop offset="0.500" stop-color="#42ffbd"/><stop offset="1.000" stop-color="#42ffbd"/></linearGradient><linearGradient id="a76" gradientUnits="userSpaceOnUse" x1="0" y1="45.3" x2="0" y2="175.3"><stop offset="0.000" stop-color="#70ff8f"/><stop offset="0.185" stop-color="#72ff8d"/><stop offset="0.292" stop-color="#7aff85"/><stop offset="0.431" stop-color="#4cffb3"/><stop offset="0.500" stop-color="#42ffbd"/><stop offset="1.000" stop-color="#42ffbd"/></linearGradient><linearGradient id="a77" gradientUnits="userSpaceOnUse" x1="0" y1="45.3" x2="0" y2="175.3"><stop offset="0.000" stop-color="#6fff90"/><stop offset="0.177" stop-color="#6eff91"/><stop offset="0.292" stop-color="#77ff88"/><stop offset="0.431" stop-color="#4bffb4"/><stop offset="0.508" stop-color="#42ffbd"/><stop offset="1.000" stop-color="#42ffbd"/></linearGradient><linearGradient id="a78" gradientUnits="userSpaceOnUse" x1="0" y1="45.3" x2="0" y2="175.3"><stop offset="0.000" stop-color="#6eff91"/><stop offset="0.177" stop-color="#6cff93"/><stop offset="0.300" stop-color="#74ff8b"/><stop offset="0.431" stop-color="#4bffb4"/><stop offset="0.523" stop-color="#42ffbd"/><stop offset="1.000" stop-color="#42ffbd"/></linearGradient><linearGradient id="a79" gradientUnits="userSpaceOnUse" x1="0" y1="45.3" x2="0" y2="175.3"><stop offset="0.000" stop-color="#6dff92"/><stop offset="0.177" stop-color="#69ff96"/><stop offset="0.308" stop-color="#70ff8f"/><stop offset="0.423" stop-color="#4cffb3"/><stop offset="0.531" stop-color="#42ffbd"/><stop offset="1.000" stop-color="#42ffbd"/></linearGradient><linearGradient id="a80" gradientUnits="userSpaceOnUse" x1="0" y1="45.3" x2="0" y2="175.3"><stop offset="0.000" stop-color="#6cff93"/><stop offset="0.177" stop-color="#67ff98"/><stop offset="0.308" stop-color="#6eff91"/><stop offset="0.423" stop-color="#4bffb4"/><stop offset="0.531" stop-color="#42ffbd"/><stop offset="1.000" stop-color="#42ffbd"/></linearGradient><linearGradient id="a81" gradientUnits="userSpaceOnUse" x1="0" y1="45.3" x2="0" y2="175.3"><stop offset="0.000" stop-color="#6cff93"/><stop offset="0.177" stop-color="#64ff9b"/><stop offset="0.308" stop-color="#6cff93"/><stop offset="0.423" stop-color="#4bffb4"/><stop offset="0.538" stop-color="#42ffbd"/><stop offset="1.000" stop-color="#42ffbd"/></linearGradient><linearGradient id="a82" gradientUnits="userSpaceOnUse" x1="0" y1="45.3" x2="0" y2="175.3"><stop offset="0.000" stop-color="#6bff94"/><stop offset="0.177" stop-color="#63ff9c"/><stop offset="0.308" stop-color="#6cff93"/><stop offset="0.423" stop-color="#4bffb4"/><stop offset="0.538" stop-color="#42ffbd"/><stop offset="1.000" stop-color="#42ffbd"/></linearGradient><linearGradient id="a83" gradientUnits="userSpaceOnUse" x1="0" y1="45.3" x2="0" y2="175.3"><stop offset="0.000" stop-color="#6bff94"/><stop offset="0.169" stop-color="#62ff9d"/><stop offset="0.308" stop-color="#6eff91"/><stop offset="0.423" stop-color="#4cffb3"/><stop offset="0.531" stop-color="#42ffbd"/><stop offset="1.000" stop-color="#42ffbd"/></linearGradient><linearGradient id="a84" gradientUnits="userSpaceOnUse" x1="0" y1="45.3" x2="0" y2="175.3"><stop offset="0.000" stop-color="#6bff94"/><stop offset="0.169" stop-color="#63ff9c"/><stop offset="0.308" stop-color="#71ff8e"/><stop offset="0.423" stop-color="#4cffb3"/><stop offset="0.531" stop-color="#42ffbd"/><stop offset="1.000" stop-color="#42ffbd"/></linearGradient><linearGradient id="a85" gradientUnits="userSpaceOnUse" x1="0" y1="45.3" x2="0" y2="175.3"><stop offset="0.000" stop-color="#6bff94"/><stop offset="0.169" stop-color="#63ff9c"/><stop offset="0.308" stop-color="#73ff8c"/><stop offset="0.423" stop-color="#4dffb2"/><stop offset="0.523" stop-color="#42ffbd"/><stop offset="1.000" stop-color="#42ffbd"/></linearGradient><linearGradient id="a86" gradientUnits="userSpaceOnUse" x1="0" y1="45.3" x2="0" y2="175.3"><stop offset="0.000" stop-color="#6bff94"/><stop offset="0.162" stop-color="#62ff9d"/><stop offset="0.308" stop-color="#75ff8a"/><stop offset="0.415" stop-color="#4fffb0"/><stop offset="0.515" stop-color="#42ffbd"/><stop offset="1.000" stop-color="#42ffbd"/></linearGradient><linearGradient id="a87" gradientUnits="userSpaceOnUse" x1="0" y1="45.3" x2="0" y2="175.3"><stop offset="0.000" stop-color="#6bff94"/><stop offset="0.162" stop-color="#62ff9d"/><stop offset="0.308" stop-color="#78ff87"/><stop offset="0.415" stop-color="#4fffb0"/><stop offset="0.515" stop-color="#42ffbd"/><stop offset="1.000" stop-color="#42ffbd"/></linearGradient><linearGradient id="a88" gradientUnits="userSpaceOnUse" x1="0" y1="45.3" x2="0" y2="175.3"><stop offset="0.000" stop-color="#6bff94"/><stop offset="0.162" stop-color="#63ff9c"/><stop offset="0.308" stop-color="#7aff85"/><stop offset="0.415" stop-color="#50ffaf"/><stop offset="0.515" stop-color="#42ffbd"/><stop offset="1.000" stop-color="#42ffbd"/></linearGradient><linearGradient id="a89" gradientUnits="userSpaceOnUse" x1="0" y1="45.3" x2="0" y2="175.3"><stop offset="0.000" stop-color="#6bff94"/><stop offset="0.162" stop-color="#63ff9c"/><stop offset="0.308" stop-color="#7dff82"/><stop offset="0.415" stop-color="#51ffae"/><stop offset="0.508" stop-color="#42ffbd"/><stop offset="1.000" stop-color="#42ffbd"/></linearGradient><linearGradient id="a90" gradientUnits="userSpaceOnUse" x1="0" y1="45.3" x2="0" y2="175.3"><stop offset="0.000" stop-color="#6bff94"/><stop offset="0.162" stop-color="#63ff9c"/><stop offset="0.308" stop-color="#7fff80"/><stop offset="0.415" stop-color="#52ffad"/><stop offset="0.508" stop-color="#42ffbd"/><stop offset="1.000" stop-color="#42ffbd"/></linearGradient><linearGradient id="a91" gradientUnits="userSpaceOnUse" x1="0" y1="45.3" x2="0" y2="175.3"><stop offset="0.000" stop-color="#6bff94"/><stop offset="0.162" stop-color="#63ff9c"/><stop offset="0.308" stop-color="#82ff7d"/><stop offset="0.415" stop-color="#52ffad"/><stop offset="0.508" stop-color="#42ffbd"/><stop offset="1.000" stop-color="#42ffbd"/></linearGradient><linearGradient id="a92" gradientUnits="userSpaceOnUse" x1="0" y1="45.3" x2="0" y2="175.3"><stop offset="0.000" stop-color="#6bff94"/><stop offset="0.162" stop-color="#63ff9c"/><stop offset="0.308" stop-color="#84ff7b"/><stop offset="0.415" stop-color="#53ffac"/><stop offset="0.508" stop-color="#42ffbd"/><stop offset="1.000" stop-color="#42ffbd"/></linearGradient><linearGradient id="a93" gradientUnits="userSpaceOnUse" x1="0" y1="45.3" x2="0" y2="175.3"><stop offset="0.000" stop-color="#6bff94"/><stop offset="0.162" stop-color="#63ff9c"/><stop offset="0.308" stop-color="#86ff79"/><stop offset="0.415" stop-color="#54ffab"/><stop offset="0.508" stop-color="#42ffbd"/><stop offset="1.000" stop-color="#42ffbd"/></linearGradient><linearGradient id="a94" gradientUnits="userSpaceOnUse" x1="0" y1="45.3" x2="0" y2="175.3"><stop offset="0.000" stop-color="#6bff94"/><stop offset="0.162" stop-color="#63ff9c"/><stop offset="0.308" stop-color="#89ff76"/><stop offset="0.415" stop-color="#54ffab"/><stop offset="0.500" stop-color="#42ffbd"/><stop offset="1.000" stop-color="#42ffbd"/></linearGradient><linearGradient id="a95" gradientUnits="userSpaceOnUse" x1="0" y1="45.3" x2="0" y2="175.3"><stop offset="0.000" stop-color="#6bff94"/><stop offset="0.162" stop-color="#63ff9c"/><stop offset="0.308" stop-color="#87ff78"/><stop offset="0.415" stop-color="#54ffab"/><stop offset="0.500" stop-color="#42ffbd"/><stop offset="1.000" stop-color="#42ffbd"/></linearGradient><linearGradient id="a96" gradientUnits="userSpaceOnUse" x1="0" y1="45.3" x2="0" y2="175.3"><stop offset="0.000" stop-color="#6bff94"/><stop offset="0.162" stop-color="#63ff9c"/><stop offset="0.308" stop-color="#85ff7a"/><stop offset="0.415" stop-color="#53ffac"/><stop offset="0.500" stop-color="#42ffbd"/><stop offset="1.000" stop-color="#42ffbd"/></linearGradient><linearGradient id="a97" gradientUnits="userSpaceOnUse" x1="0" y1="45.3" x2="0" y2="175.3"><stop offset="0.000" stop-color="#6bff94"/><stop offset="0.162" stop-color="#63ff9c"/><stop offset="0.308" stop-color="#83ff7c"/><stop offset="0.423" stop-color="#51ffae"/><stop offset="0.508" stop-color="#42ffbd"/><stop offset="1.000" stop-color="#42ffbd"/></linearGradient><linearGradient id="a98" gradientUnits="userSpaceOnUse" x1="0" y1="45.3" x2="0" y2="175.3"><stop offset="0.000" stop-color="#6bff94"/><stop offset="0.162" stop-color="#63ff9c"/><stop offset="0.308" stop-color="#81ff7e"/><stop offset="0.423" stop-color="#50ffaf"/><stop offset="0.508" stop-color="#42ffbd"/><stop offset="1.000" stop-color="#42ffbd"/></linearGradient><linearGradient id="a99" gradientUnits="userSpaceOnUse" x1="0" y1="45.3" x2="0" y2="175.3"><stop offset="0.000" stop-color="#6bff94"/><stop offset="0.162" stop-color="#63ff9c"/><stop offset="0.308" stop-color="#80ff7f"/><stop offset="0.423" stop-color="#50ffaf"/><stop offset="0.508" stop-color="#42ffbd"/><stop offset="1.000" stop-color="#42ffbd"/></linearGradient><linearGradient id="a100" gradientUnits="userSpaceOnUse" x1="0" y1="45.3" x2="0" y2="175.3"><stop offset="0.000" stop-color="#6bff94"/><stop offset="0.162" stop-color="#63ff9c"/><stop offset="0.308" stop-color="#7eff81"/><stop offset="0.423" stop-color="#4fffb0"/><stop offset="0.508" stop-color="#42ffbd"/><stop offset="1.000" stop-color="#42ffbd"/></linearGradient><linearGradient id="a101" gradientUnits="userSpaceOnUse" x1="0" y1="45.3" x2="0" y2="175.3"><stop offset="0.000" stop-color="#6bff94"/><stop offset="0.162" stop-color="#63ff9c"/><stop offset="0.308" stop-color="#7cff83"/><stop offset="0.431" stop-color="#4dffb2"/><stop offset="0.508" stop-color="#42ffbd"/><stop offset="1.000" stop-color="#42ffbd"/></linearGradient><linearGradient id="a102" gradientUnits="userSpaceOnUse" x1="0" y1="45.3" x2="0" y2="175.3"><stop offset="0.000" stop-color="#6bff94"/><stop offset="0.162" stop-color="#63ff9c"/><stop offset="0.308" stop-color="#7aff85"/><stop offset="0.431" stop-color="#4dffb2"/><stop offset="0.508" stop-color="#42ffbd"/><stop offset="1.000" stop-color="#42ffbd"/></linearGradient><linearGradient id="a103" gradientUnits="userSpaceOnUse" x1="0" y1="45.3" x2="0" y2="175.3"><stop offset="0.000" stop-color="#6bff94"/><stop offset="0.162" stop-color="#62ff9d"/><stop offset="0.308" stop-color="#78ff87"/><stop offset="0.431" stop-color="#4cffb3"/><stop offset="0.508" stop-color="#42ffbd"/><stop offset="1.000" stop-color="#42ffbd"/></linearGradient><linearGradient id="a104" gradientUnits="userSpaceOnUse" x1="0" y1="45.3" x2="0" y2="175.3"><stop offset="0.000" stop-color="#6bff94"/><stop offset="0.162" stop-color="#62ff9d"/><stop offset="0.308" stop-color="#76ff89"/><stop offset="0.438" stop-color="#4affb5"/><stop offset="0.508" stop-color="#42ffbd"/><stop offset="1.000" stop-color="#42ffbd"/></linearGradient><linearGradient id="a105" gradientUnits="userSpaceOnUse" x1="0" y1="45.3" x2="0" y2="175.3"><stop offset="0.000" stop-color="#6bff94"/><stop offset="0.169" stop-color="#63ff9c"/><stop offset="0.308" stop-color="#75ff8a"/><stop offset="0.438" stop-color="#4affb5"/><stop offset="0.515" stop-color="#42ffbd"/><stop offset="1.000" stop-color="#42ffbd"/></linearGradient><linearGradient id="a106" gradientUnits="userSpaceOnUse" x1="0" y1="45.3" x2="0" y2="175.3"><stop offset="0.000" stop-color="#6bff94"/><stop offset="0.169" stop-color="#63ff9c"/><stop offset="0.308" stop-color="#75ff8a"/><stop offset="0.438" stop-color="#4affb5"/><stop offset="0.515" stop-color="#42ffbd"/><stop offset="1.000" stop-color="#42ffbd"/></linearGradient></defs><g clip-path="url(#ac)"><rect x="476" y="45.3" width="2.3" height="130.0" fill="url(#a0)"/><rect x="478" y="45.3" width="2.3" height="130.0" fill="url(#a1)"/><rect x="480" y="45.3" width="2.3" height="130.0" fill="url(#a2)"/><rect x="482" y="45.3" width="2.3" height="130.0" fill="url(#a3)"/><rect x="484" y="45.3" width="2.3" height="130.0" fill="url(#a4)"/><rect x="486" y="45.3" width="2.3" height="130.0" fill="url(#a5)"/><rect x="488" y="45.3" width="2.3" height="130.0" fill="url(#a6)"/><rect x="490" y="45.3" width="2.3" height="130.0" fill="url(#a7)"/><rect x="492" y="45.3" width="2.3" height="130.0" fill="url(#a8)"/><rect x="494" y="45.3" width="2.3" height="130.0" fill="url(#a9)"/><rect x="496" y="45.3" width="2.3" height="130.0" fill="url(#a10)"/><rect x="498" y="45.3" width="2.3" height="130.0" fill="url(#a11)"/><rect x="500" y="45.3" width="2.3" height="130.0" fill="url(#a12)"/><rect x="502" y="45.3" width="2.3" height="130.0" fill="url(#a13)"/><rect x="504" y="45.3" width="2.3" height="130.0" fill="url(#a14)"/><rect x="506" y="45.3" width="2.3" height="130.0" fill="url(#a15)"/><rect x="508" y="45.3" width="2.3" height="130.0" fill="url(#a16)"/><rect x="510" y="45.3" width="2.3" height="130.0" fill="url(#a17)"/><rect x="512" y="45.3" width="2.3" height="130.0" fill="url(#a18)"/><rect x="514" y="45.3" width="2.3" height="130.0" fill="url(#a19)"/><rect x="516" y="45.3" width="2.3" height="130.0" fill="url(#a20)"/><rect x="518" y="45.3" width="2.3" height="130.0" fill="url(#a21)"/><rect x="520" y="45.3" width="2.3" height="130.0" fill="url(#a22)"/><rect x="522" y="45.3" width="2.3" height="130.0" fill="url(#a23)"/><rect x="524" y="45.3" width="2.3" height="130.0" fill="url(#a24)"/><rect x="526" y="45.3" width="2.3" height="130.0" fill="url(#a25)"/><rect x="528" y="45.3" width="2.3" height="130.0" fill="url(#a26)"/><rect x="530" y="45.3" width="2.3" height="130.0" fill="url(#a27)"/><rect x="532" y="45.3" width="2.3" height="130.0" fill="url(#a28)"/><rect x="534" y="45.3" width="2.3" height="130.0" fill="url(#a29)"/><rect x="536" y="45.3" width="2.3" height="130.0" fill="url(#a30)"/><rect x="538" y="45.3" width="2.3" height="130.0" fill="url(#a31)"/><rect x="540" y="45.3" width="2.3" height="130.0" fill="url(#a32)"/><rect x="542" y="45.3" width="2.3" height="130.0" fill="url(#a33)"/><rect x="544" y="45.3" width="2.3" height="130.0" fill="url(#a34)"/><rect x="546" y="45.3" width="2.3" height="130.0" fill="url(#a35)"/><rect x="548" y="45.3" width="2.3" height="130.0" fill="url(#a36)"/><rect x="550" y="45.3" width="2.3" height="130.0" fill="url(#a37)"/><rect x="552" y="45.3" width="2.3" height="130.0" fill="url(#a38)"/><rect x="554" y="45.3" width="2.3" height="130.0" fill="url(#a39)"/><rect x="556" y="45.3" width="2.3" height="130.0" fill="url(#a40)"/><rect x="558" y="45.3" width="2.3" height="130.0" fill="url(#a41)"/><rect x="560" y="45.3" width="2.3" height="130.0" fill="url(#a42)"/><rect x="562" y="45.3" width="2.3" height="130.0" fill="url(#a43)"/><rect x="564" y="45.3" width="2.3" height="130.0" fill="url(#a44)"/><rect x="566" y="45.3" width="2.3" height="130.0" fill="url(#a45)"/><rect x="568" y="45.3" width="2.3" height="130.0" fill="url(#a46)"/><rect x="570" y="45.3" width="2.3" height="130.0" fill="url(#a47)"/><rect x="572" y="45.3" width="2.3" height="130.0" fill="url(#a48)"/><rect x="574" y="45.3" width="2.3" height="130.0" fill="url(#a49)"/><rect x="576" y="45.3" width="2.3" height="130.0" fill="url(#a50)"/><rect x="578" y="45.3" width="2.3" height="130.0" fill="url(#a51)"/><rect x="580" y="45.3" width="2.3" height="130.0" fill="url(#a52)"/><rect x="582" y="45.3" width="2.3" height="130.0" fill="url(#a53)"/><rect x="584" y="45.3" width="2.3" height="130.0" fill="url(#a54)"/><rect x="586" y="45.3" width="2.3" height="130.0" fill="url(#a55)"/><rect x="588" y="45.3" width="2.3" height="130.0" fill="url(#a56)"/><rect x="590" y="45.3" width="2.3" height="130.0" fill="url(#a57)"/><rect x="592" y="45.3" width="2.3" height="130.0" fill="url(#a58)"/><rect x="594" y="45.3" width="2.3" height="130.0" fill="url(#a59)"/><rect x="596" y="45.3" width="2.3" height="130.0" fill="url(#a60)"/><rect x="598" y="45.3" width="2.3" height="130.0" fill="url(#a61)"/><rect x="600" y="45.3" width="2.3" height="130.0" fill="url(#a62)"/><rect x="602" y="45.3" width="2.3" height="130.0" fill="url(#a63)"/><rect x="604" y="45.3" width="2.3" height="130.0" fill="url(#a64)"/><rect x="606" y="45.3" width="2.3" height="130.0" fill="url(#a65)"/><rect x="608" y="45.3" width="2.3" height="130.0" fill="url(#a66)"/><rect x="610" y="45.3" width="2.3" height="130.0" fill="url(#a67)"/><rect x="612" y="45.3" width="2.3" height="130.0" fill="url(#a68)"/><rect x="614" y="45.3" width="2.3" height="130.0" fill="url(#a69)"/><rect x="616" y="45.3" width="2.3" height="130.0" fill="url(#a70)"/><rect x="618" y="45.3" width="2.3" height="130.0" fill="url(#a71)"/><rect x="620" y="45.3" width="2.3" height="130.0" fill="url(#a72)"/><rect x="622" y="45.3" width="2.3" height="130.0" fill="url(#a73)"/><rect x="624" y="45.3" width="2.3" height="130.0" fill="url(#a74)"/><rect x="626" y="45.3" width="2.3" height="130.0" fill="url(#a75)"/><rect x="628" y="45.3" width="2.3" height="130.0" fill="url(#a76)"/><rect x="630" y="45.3" width="2.3" height="130.0" fill="url(#a77)"/><rect x="632" y="45.3" width="2.3" height="130.0" fill="url(#a78)"/><rect x="634" y="45.3" width="2.3" height="130.0" fill="url(#a79)"/><rect x="636" y="45.3" width="2.3" height="130.0" fill="url(#a80)"/><rect x="638" y="45.3" width="2.3" height="130.0" fill="url(#a81)"/><rect x="640" y="45.3" width="2.3" height="130.0" fill="url(#a82)"/><rect x="642" y="45.3" width="2.3" height="130.0" fill="url(#a83)"/><rect x="644" y="45.3" width="2.3" height="130.0" fill="url(#a84)"/><rect x="646" y="45.3" width="2.3" height="130.0" fill="url(#a85)"/><rect x="648" y="45.3" width="2.3" height="130.0" fill="url(#a86)"/><rect x="650" y="45.3" width="2.3" height="130.0" fill="url(#a87)"/><rect x="652" y="45.3" width="2.3" height="130.0" fill="url(#a88)"/><rect x="654" y="45.3" width="2.3" height="130.0" fill="url(#a89)"/><rect x="656" y="45.3" width="2.3" height="130.0" fill="url(#a90)"/><rect x="658" y="45.3" width="2.3" height="130.0" fill="url(#a91)"/><rect x="660" y="45.3" width="2.3" height="130.0" fill="url(#a92)"/><rect x="662" y="45.3" width="2.3" height="130.0" fill="url(#a93)"/><rect x="664" y="45.3" width="2.3" height="130.0" fill="url(#a94)"/><rect x="666" y="45.3" width="2.3" height="130.0" fill="url(#a95)"/><rect x="668" y="45.3" width="2.3" height="130.0" fill="url(#a96)"/><rect x="670" y="45.3" width="2.3" height="130.0" fill="url(#a97)"/><rect x="672" y="45.3" width="2.3" height="130.0" fill="url(#a98)"/><rect x="674" y="45.3" width="2.3" height="130.0" fill="url(#a99)"/><rect x="676" y="45.3" width="2.3" height="130.0" fill="url(#a100)"/><rect x="678" y="45.3" width="2.3" height="130.0" fill="url(#a101)"/><rect x="680" y="45.3" width="2.3" height="130.0" fill="url(#a102)"/><rect x="682" y="45.3" width="2.3" height="130.0" fill="url(#a103)"/><rect x="684" y="45.3" width="2.3" height="130.0" fill="url(#a104)"/><rect x="686" y="45.3" width="2.3" height="130.0" fill="url(#a105)"/><rect x="688" y="45.3" width="2.3" height="130.0" fill="url(#a106)"/></g>
<text x="72.5" y="55.0" font-size="23" text-anchor="end">0</text>
<text x="72.5" y="91.6" font-size="23" text-anchor="end">50</text>
<text x="72.5" y="129.1" font-size="23" text-anchor="end">100</text>
<text x="72.5" y="165.7" font-size="23" text-anchor="end">150</text>
<text x="72.5" y="203.2" font-size="23" text-anchor="end">200</text>
<text transform="translate(24.0,122.8) rotate(-90)" font-size="23" text-anchor="middle">Depth, (m)</text>
<g stroke="#000" stroke-width="1.1" fill="none"><line x1="211.5" y1="294.05" x2="211.5" y2="441.45" stroke-dasharray="1.8 6.8" stroke-dashoffset="7.9"/><line x1="338.6" y1="294.05" x2="338.6" y2="441.45" stroke-dasharray="1.8 6.8" stroke-dashoffset="7.9"/><line x1="466.5" y1="294.05" x2="466.5" y2="441.45" stroke-dasharray="1.8 6.8" stroke-dashoffset="7.9"/><line x1="592.9" y1="294.05" x2="592.9" y2="441.45" stroke-dasharray="1.8 6.8" stroke-dashoffset="7.9"/><line x1="720.0" y1="294.05" x2="720.0" y2="441.45" stroke-dasharray="1.8 6.8" stroke-dashoffset="7.9"/><line x1="84.0" y1="330.6" x2="847.7" y2="330.6" stroke-dasharray="1.8 6.85" stroke-dashoffset="0.5"/><line x1="84.0" y1="367.5" x2="847.7" y2="367.5" stroke-dasharray="1.8 6.85" stroke-dashoffset="0.5"/><line x1="84.0" y1="404.5" x2="847.7" y2="404.5" stroke-dasharray="1.8 6.85" stroke-dashoffset="0.5"/></g>
<g stroke="#000" stroke-width="2" fill="none"><line x1="76.0" y1="294.05" x2="856.5" y2="294.05"/><line x1="76.0" y1="441.45" x2="856.5" y2="441.45"/><line x1="84.0" y1="285.65000000000003" x2="84.0" y2="449.45"/><line x1="847.7" y1="285.65000000000003" x2="847.7" y2="449.45"/><line x1="212.0" y1="294.05" x2="212.0" y2="285.85"/><line x1="212.0" y1="441.45" x2="212.0" y2="449.25"/><line x1="339.1" y1="294.05" x2="339.1" y2="285.85"/><line x1="339.1" y1="441.45" x2="339.1" y2="449.25"/><line x1="467.0" y1="294.05" x2="467.0" y2="285.85"/><line x1="467.0" y1="441.45" x2="467.0" y2="449.25"/><line x1="593.4" y1="294.05" x2="593.4" y2="285.85"/><line x1="593.4" y1="441.45" x2="593.4" y2="449.25"/><line x1="720.5" y1="294.05" x2="720.5" y2="285.85"/><line x1="720.5" y1="441.45" x2="720.5" y2="449.25"/><line x1="109.6" y1="294.05" x2="109.6" y2="289.85"/><line x1="109.6" y1="441.45" x2="109.6" y2="445.45"/><line x1="135.2" y1="294.05" x2="135.2" y2="289.85"/><line x1="135.2" y1="441.45" x2="135.2" y2="445.45"/><line x1="160.8" y1="294.05" x2="160.8" y2="289.85"/><line x1="160.8" y1="441.45" x2="160.8" y2="445.45"/><line x1="186.4" y1="294.05" x2="186.4" y2="289.85"/><line x1="186.4" y1="441.45" x2="186.4" y2="445.45"/><line x1="237.4" y1="294.05" x2="237.4" y2="289.85"/><line x1="237.4" y1="441.45" x2="237.4" y2="445.45"/><line x1="262.8" y1="294.05" x2="262.8" y2="289.85"/><line x1="262.8" y1="441.45" x2="262.8" y2="445.45"/><line x1="288.3" y1="294.05" x2="288.3" y2="289.85"/><line x1="288.3" y1="441.45" x2="288.3" y2="445.45"/><line x1="313.7" y1="294.05" x2="313.7" y2="289.85"/><line x1="313.7" y1="441.45" x2="313.7" y2="445.45"/><line x1="364.7" y1="294.05" x2="364.7" y2="289.85"/><line x1="364.7" y1="441.45" x2="364.7" y2="445.45"/><line x1="390.3" y1="294.05" x2="390.3" y2="289.85"/><line x1="390.3" y1="441.45" x2="390.3" y2="445.45"/><line x1="415.8" y1="294.05" x2="415.8" y2="289.85"/><line x1="415.8" y1="441.45" x2="415.8" y2="445.45"/><line x1="441.4" y1="294.05" x2="441.4" y2="289.85"/><line x1="441.4" y1="441.45" x2="441.4" y2="445.45"/><line x1="492.3" y1="294.05" x2="492.3" y2="289.85"/><line x1="492.3" y1="441.45" x2="492.3" y2="445.45"/><line x1="517.6" y1="294.05" x2="517.6" y2="289.85"/><line x1="517.6" y1="441.45" x2="517.6" y2="445.45"/><line x1="542.8" y1="294.05" x2="542.8" y2="289.85"/><line x1="542.8" y1="441.45" x2="542.8" y2="445.45"/><line x1="568.1" y1="294.05" x2="568.1" y2="289.85"/><line x1="568.1" y1="441.45" x2="568.1" y2="445.45"/><line x1="618.8" y1="294.05" x2="618.8" y2="289.85"/><line x1="618.8" y1="441.45" x2="618.8" y2="445.45"/><line x1="644.2" y1="294.05" x2="644.2" y2="289.85"/><line x1="644.2" y1="441.45" x2="644.2" y2="445.45"/><line x1="669.7" y1="294.05" x2="669.7" y2="289.85"/><line x1="669.7" y1="441.45" x2="669.7" y2="445.45"/><line x1="695.1" y1="294.05" x2="695.1" y2="289.85"/><line x1="695.1" y1="441.45" x2="695.1" y2="445.45"/><line x1="745.9" y1="294.05" x2="745.9" y2="289.85"/><line x1="745.9" y1="441.45" x2="745.9" y2="445.45"/><line x1="771.4" y1="294.05" x2="771.4" y2="289.85"/><line x1="771.4" y1="441.45" x2="771.4" y2="445.45"/><line x1="796.8" y1="294.05" x2="796.8" y2="289.85"/><line x1="796.8" y1="441.45" x2="796.8" y2="445.45"/><line x1="822.3" y1="294.05" x2="822.3" y2="289.85"/><line x1="822.3" y1="441.45" x2="822.3" y2="445.45"/><line x1="84.0" y1="330.9" x2="77.0" y2="330.9"/><line x1="847.7" y1="330.9" x2="856.5" y2="330.9"/><line x1="84.0" y1="367.9" x2="77.0" y2="367.9"/><line x1="847.7" y1="367.9" x2="856.5" y2="367.9"/><line x1="84.0" y1="404.9" x2="77.0" y2="404.9"/><line x1="847.7" y1="404.9" x2="856.5" y2="404.9"/><line x1="84.0" y1="312.5" x2="80.0" y2="312.5"/><line x1="847.7" y1="312.5" x2="851.7" y2="312.5"/><line x1="84.0" y1="349.4" x2="80.0" y2="349.4"/><line x1="847.7" y1="349.4" x2="851.7" y2="349.4"/><line x1="84.0" y1="386.4" x2="80.0" y2="386.4"/><line x1="847.7" y1="386.4" x2="851.7" y2="386.4"/><line x1="84.0" y1="423.2" x2="80.0" y2="423.2"/><line x1="847.7" y1="423.2" x2="851.7" y2="423.2"/></g>
<defs><clipPath id="bc"><polygon points="478.0,293.0 576.0,293.0 576.0,295.2 585.0,295.2 585.0,293.0 687.4,293.0 687.4,315.6 683.7,315.6 683.7,347.5 683.0,351.5 680.0,354.4 675.0,353.9 670.0,354.9 660.0,355.4 650.0,356.4 640.0,356.4 630.0,357.4 620.0,357.9 615.0,358.9 610.0,357.4 602.0,356.9 598.0,358.9 595.0,363.4 594.0,364.9 589.0,366.2 585.0,363.2 581.0,359.0 581.0,316.6 576.8,316.6 576.8,365.8 575.0,367.4 570.0,369.1 565.0,370.8 560.0,371.7 555.0,372.5 550.0,375.0 545.0,378.4 541.0,382.5 537.0,388.3 533.4,388.8 530.0,386.6 528.5,385.6 528.0,387.2 526.0,391.6 524.0,393.9 521.0,395.2 517.0,396.9 513.0,398.8 509.0,400.8 506.0,402.8 503.0,405.8 501.0,407.5 498.0,409.8 495.0,412.0 493.0,415.7 491.0,417.0 487.0,419.0 482.3,420.3 481.6,341.0 478.0,341.0"/></clipPath><linearGradient id="b0" gradientUnits="userSpaceOnUse" x1="0" y1="292.0" x2="0" y2="421.3"><stop offset="0.000" stop-color="#b8ff47"/><stop offset="0.271" stop-color="#c8ff37"/><stop offset="0.379" stop-color="#f0ff0f"/><stop offset="0.997" stop-color="#f0ff0f"/></linearGradient><linearGradient id="b1" gradientUnits="userSpaceOnUse" x1="0" y1="292.0" x2="0" y2="421.3"><stop offset="0.000" stop-color="#b8ff47"/><stop offset="0.271" stop-color="#c8ff37"/><stop offset="0.379" stop-color="#f2ff0d"/><stop offset="0.557" stop-color="#fffd00"/><stop offset="0.734" stop-color="#ffef00"/><stop offset="0.959" stop-color="#ffe100"/><stop offset="0.997" stop-color="#ffe000"/></linearGradient><linearGradient id="b2" gradientUnits="userSpaceOnUse" x1="0" y1="292.0" x2="0" y2="421.3"><stop offset="0.000" stop-color="#b8ff47"/><stop offset="0.271" stop-color="#c8ff37"/><stop offset="0.379" stop-color="#f6ff09"/><stop offset="0.417" stop-color="#fffd00"/><stop offset="0.510" stop-color="#ffe400"/><stop offset="0.680" stop-color="#ffc500"/><stop offset="0.788" stop-color="#ff9f00"/><stop offset="0.912" stop-color="#ff8a00"/><stop offset="0.997" stop-color="#ff8500"/></linearGradient><linearGradient id="b3" gradientUnits="userSpaceOnUse" x1="0" y1="292.0" x2="0" y2="421.3"><stop offset="0.000" stop-color="#b7ff48"/><stop offset="0.271" stop-color="#c8ff37"/><stop offset="0.379" stop-color="#f9ff06"/><stop offset="0.410" stop-color="#fffa00"/><stop offset="0.502" stop-color="#ffd700"/><stop offset="0.673" stop-color="#ffaf00"/><stop offset="0.781" stop-color="#ff7c00"/><stop offset="0.897" stop-color="#ff5f00"/><stop offset="0.997" stop-color="#ff5700"/></linearGradient><linearGradient id="b4" gradientUnits="userSpaceOnUse" x1="0" y1="292.0" x2="0" y2="421.3"><stop offset="0.000" stop-color="#b7ff48"/><stop offset="0.271" stop-color="#c8ff37"/><stop offset="0.379" stop-color="#f9ff06"/><stop offset="0.410" stop-color="#fffa00"/><stop offset="0.502" stop-color="#ffd700"/><stop offset="0.680" stop-color="#ffa900"/><stop offset="0.781" stop-color="#ff7a00"/><stop offset="0.897" stop-color="#ff5e00"/><stop offset="0.997" stop-color="#ff5700"/></linearGradient><linearGradient id="b5" gradientUnits="userSpaceOnUse" x1="0" y1="292.0" x2="0" y2="421.3"><stop offset="0.000" stop-color="#b6ff49"/><stop offset="0.271" stop-color="#c8ff37"/><stop offset="0.379" stop-color="#f9ff06"/><stop offset="0.410" stop-color="#fffa00"/><stop offset="0.502" stop-color="#ffd700"/><stop offset="0.680" stop-color="#ffa700"/><stop offset="0.781" stop-color="#ff7900"/><stop offset="0.897" stop-color="#ff5d00"/><stop offset="0.997" stop-color="#ff5700"/></linearGradient><linearGradient id="b6" gradientUnits="userSpaceOnUse" x1="0" y1="292.0" x2="0" y2="421.3"><stop offset="0.000" stop-color="#b6ff49"/><stop offset="0.271" stop-color="#c8ff37"/><stop offset="0.379" stop-color="#f9ff06"/><stop offset="0.410" stop-color="#fffa00"/><stop offset="0.502" stop-color="#ffd700"/><stop offset="0.680" stop-color="#ffa500"/><stop offset="0.781" stop-color="#ff7800"/><stop offset="0.897" stop-color="#ff5c00"/><stop offset="0.997" stop-color="#ff5700"/></linearGradient><linearGradient id="b7" gradientUnits="userSpaceOnUse" x1="0" y1="292.0" x2="0" y2="421.3"><stop offset="0.000" stop-color="#b5ff4a"/><stop offset="0.271" stop-color="#c8ff37"/><stop offset="0.379" stop-color="#f9ff06"/><stop offset="0.410" stop-color="#fffa00"/><stop offset="0.502" stop-color="#ffd600"/><stop offset="0.673" stop-color="#ffa600"/><stop offset="0.781" stop-color="#ff7700"/><stop offset="0.897" stop-color="#ff5b00"/><stop offset="0.997" stop-color="#ff5700"/></linearGradient><linearGradient id="b8" gradientUnits="userSpaceOnUse" x1="0" y1="292.0" x2="0" y2="421.3"><stop offset="0.000" stop-color="#b4ff4b"/><stop offset="0.271" stop-color="#c8ff37"/><stop offset="0.379" stop-color="#f9ff06"/><stop offset="0.410" stop-color="#fffa00"/><stop offset="0.502" stop-color="#ffd600"/><stop offset="0.673" stop-color="#ffa400"/><stop offset="0.788" stop-color="#ff7400"/><stop offset="0.897" stop-color="#ff5a00"/><stop offset="0.997" stop-color="#ff5700"/></linearGradient><linearGradient id="b9" gradientUnits="userSpaceOnUse" x1="0" y1="292.0" x2="0" y2="421.3"><stop offset="0.000" stop-color="#b4ff4b"/><stop offset="0.271" stop-color="#c8ff37"/><stop offset="0.379" stop-color="#f9ff06"/><stop offset="0.410" stop-color="#fffa00"/><stop offset="0.502" stop-color="#ffd600"/><stop offset="0.657" stop-color="#ffa700"/><stop offset="0.788" stop-color="#ff7300"/><stop offset="0.897" stop-color="#ff5900"/><stop offset="0.997" stop-color="#ff5700"/></linearGradient><linearGradient id="b10" gradientUnits="userSpaceOnUse" x1="0" y1="292.0" x2="0" y2="421.3"><stop offset="0.000" stop-color="#b3ff4c"/><stop offset="0.271" stop-color="#c8ff37"/><stop offset="0.379" stop-color="#f9ff06"/><stop offset="0.410" stop-color="#fffa00"/><stop offset="0.510" stop-color="#ffd400"/><stop offset="0.642" stop-color="#ffab00"/><stop offset="0.788" stop-color="#ff7200"/><stop offset="0.897" stop-color="#ff5800"/><stop offset="0.997" stop-color="#ff5700"/></linearGradient><linearGradient id="b11" gradientUnits="userSpaceOnUse" x1="0" y1="292.0" x2="0" y2="421.3"><stop offset="0.000" stop-color="#b3ff4c"/><stop offset="0.271" stop-color="#c8ff37"/><stop offset="0.379" stop-color="#f9ff06"/><stop offset="0.410" stop-color="#fffa00"/><stop offset="0.510" stop-color="#ffd400"/><stop offset="0.626" stop-color="#ffaf00"/><stop offset="0.788" stop-color="#ff7000"/><stop offset="0.897" stop-color="#ff5700"/><stop offset="0.997" stop-color="#ff5700"/></linearGradient><linearGradient id="b12" gradientUnits="userSpaceOnUse" x1="0" y1="292.0" x2="0" y2="421.3"><stop offset="0.000" stop-color="#b3ff4c"/><stop offset="0.271" stop-color="#c8ff37"/><stop offset="0.379" stop-color="#f9ff06"/><stop offset="0.410" stop-color="#fffa00"/><stop offset="0.510" stop-color="#ffd300"/><stop offset="0.618" stop-color="#ffaf00"/><stop offset="0.796" stop-color="#ff6d00"/><stop offset="0.897" stop-color="#ff5700"/><stop offset="0.997" stop-color="#ff5700"/></linearGradient><linearGradient id="b13" gradientUnits="userSpaceOnUse" x1="0" y1="292.0" x2="0" y2="421.3"><stop offset="0.000" stop-color="#b3ff4c"/><stop offset="0.271" stop-color="#c8ff37"/><stop offset="0.379" stop-color="#f9ff06"/><stop offset="0.410" stop-color="#fffa00"/><stop offset="0.518" stop-color="#ffcf00"/><stop offset="0.618" stop-color="#ffab00"/><stop offset="0.765" stop-color="#ff7300"/><stop offset="0.889" stop-color="#ff5700"/><stop offset="0.997" stop-color="#ff5700"/></linearGradient><linearGradient id="b14" gradientUnits="userSpaceOnUse" x1="0" y1="292.0" x2="0" y2="421.3"><stop offset="0.000" stop-color="#b3ff4c"/><stop offset="0.271" stop-color="#c8ff37"/><stop offset="0.379" stop-color="#f9ff06"/><stop offset="0.410" stop-color="#fffa00"/><stop offset="0.518" stop-color="#ffcd00"/><stop offset="0.611" stop-color="#ffaa00"/><stop offset="0.696" stop-color="#ff8600"/><stop offset="0.866" stop-color="#ff5900"/><stop offset="0.997" stop-color="#ff5700"/></linearGradient><linearGradient id="b15" gradientUnits="userSpaceOnUse" x1="0" y1="292.0" x2="0" y2="421.3"><stop offset="0.000" stop-color="#b3ff4c"/><stop offset="0.271" stop-color="#c8ff37"/><stop offset="0.379" stop-color="#f9ff06"/><stop offset="0.410" stop-color="#fffa00"/><stop offset="0.526" stop-color="#ffc900"/><stop offset="0.611" stop-color="#ffa500"/><stop offset="0.680" stop-color="#ff8500"/><stop offset="0.858" stop-color="#ff5900"/><stop offset="0.997" stop-color="#ff5700"/></linearGradient><linearGradient id="b16" gradientUnits="userSpaceOnUse" x1="0" y1="292.0" x2="0" y2="421.3"><stop offset="0.000" stop-color="#b3ff4c"/><stop offset="0.271" stop-color="#c8ff37"/><stop offset="0.379" stop-color="#f9ff06"/><stop offset="0.410" stop-color="#fffa00"/><stop offset="0.533" stop-color="#ffc400"/><stop offset="0.611" stop-color="#ffa100"/><stop offset="0.680" stop-color="#ff8000"/><stop offset="0.858" stop-color="#ff5700"/><stop offset="0.997" stop-color="#ff5700"/></linearGradient><linearGradient id="b17" gradientUnits="userSpaceOnUse" x1="0" y1="292.0" x2="0" y2="421.3"><stop offset="0.000" stop-color="#b1ff4e"/><stop offset="0.263" stop-color="#caff35"/><stop offset="0.386" stop-color="#fdff02"/><stop offset="0.464" stop-color="#ffe000"/><stop offset="0.603" stop-color="#ffa300"/><stop offset="0.680" stop-color="#ff7d00"/><stop offset="0.858" stop-color="#ff5700"/><stop offset="0.997" stop-color="#ff5700"/></linearGradient><linearGradient id="b18" gradientUnits="userSpaceOnUse" x1="0" y1="292.0" x2="0" y2="421.3"><stop offset="0.000" stop-color="#adff52"/><stop offset="0.209" stop-color="#c4ff3b"/><stop offset="0.286" stop-color="#dbff24"/><stop offset="0.386" stop-color="#fffe00"/><stop offset="0.587" stop-color="#ffab00"/><stop offset="0.688" stop-color="#ff7900"/><stop offset="0.835" stop-color="#ff5800"/><stop offset="0.997" stop-color="#ff5700"/></linearGradient><linearGradient id="b19" gradientUnits="userSpaceOnUse" x1="0" y1="292.0" x2="0" y2="421.3"><stop offset="0.000" stop-color="#aaff55"/><stop offset="0.201" stop-color="#c1ff3e"/><stop offset="0.348" stop-color="#f9ff06"/><stop offset="0.386" stop-color="#fffa00"/><stop offset="0.510" stop-color="#ffce00"/><stop offset="0.703" stop-color="#ff7300"/><stop offset="0.819" stop-color="#ff5800"/><stop offset="0.997" stop-color="#ff5700"/></linearGradient><linearGradient id="b20" gradientUnits="userSpaceOnUse" x1="0" y1="292.0" x2="0" y2="421.3"><stop offset="0.000" stop-color="#8aff75"/><stop offset="0.201" stop-color="#b9ff46"/><stop offset="0.332" stop-color="#f1ff0e"/><stop offset="0.386" stop-color="#fffb00"/><stop offset="0.518" stop-color="#ffc500"/><stop offset="0.703" stop-color="#ff7000"/><stop offset="0.819" stop-color="#ff5700"/><stop offset="0.997" stop-color="#ff5700"/></linearGradient><linearGradient id="b21" gradientUnits="userSpaceOnUse" x1="0" y1="292.0" x2="0" y2="421.3"><stop offset="0.000" stop-color="#4dffb2"/><stop offset="0.155" stop-color="#97ff68"/><stop offset="0.386" stop-color="#feff01"/><stop offset="0.595" stop-color="#ff9300"/><stop offset="0.703" stop-color="#ff6b00"/><stop offset="0.819" stop-color="#ff5700"/><stop offset="0.997" stop-color="#ff5700"/></linearGradient><linearGradient id="b22" gradientUnits="userSpaceOnUse" x1="0" y1="292.0" x2="0" y2="421.3"><stop offset="0.000" stop-color="#2cffd3"/><stop offset="0.062" stop-color="#4fffb0"/><stop offset="0.147" stop-color="#81ff7e"/><stop offset="0.379" stop-color="#f2ff0d"/><stop offset="0.402" stop-color="#fffe00"/><stop offset="0.587" stop-color="#ff9100"/><stop offset="0.703" stop-color="#ff6900"/><stop offset="0.827" stop-color="#ff5800"/><stop offset="0.997" stop-color="#ff5800"/></linearGradient><linearGradient id="b23" gradientUnits="userSpaceOnUse" x1="0" y1="292.0" x2="0" y2="421.3"><stop offset="0.000" stop-color="#28ffd7"/><stop offset="0.162" stop-color="#7aff85"/><stop offset="0.371" stop-color="#e2ff1d"/><stop offset="0.417" stop-color="#ffff00"/><stop offset="0.587" stop-color="#ff9200"/><stop offset="0.703" stop-color="#ff6900"/><stop offset="0.827" stop-color="#ff5a00"/><stop offset="0.997" stop-color="#ff5a00"/></linearGradient><linearGradient id="b24" gradientUnits="userSpaceOnUse" x1="0" y1="292.0" x2="0" y2="421.3"><stop offset="0.000" stop-color="#24ffdb"/><stop offset="0.255" stop-color="#99ff66"/><stop offset="0.394" stop-color="#e5ff1a"/><stop offset="0.433" stop-color="#feff01"/><stop offset="0.564" stop-color="#ffa200"/><stop offset="0.611" stop-color="#ff8b00"/><stop offset="0.703" stop-color="#ff6900"/><stop offset="0.819" stop-color="#ff5c00"/><stop offset="0.997" stop-color="#ff5c00"/></linearGradient><linearGradient id="b25" gradientUnits="userSpaceOnUse" x1="0" y1="292.0" x2="0" y2="421.3"><stop offset="0.000" stop-color="#20ffdf"/><stop offset="0.201" stop-color="#70ff8f"/><stop offset="0.363" stop-color="#c7ff38"/><stop offset="0.448" stop-color="#ffff00"/><stop offset="0.541" stop-color="#ffb900"/><stop offset="0.580" stop-color="#ff9900"/><stop offset="0.703" stop-color="#ff6900"/><stop offset="0.796" stop-color="#ff5e00"/><stop offset="0.997" stop-color="#ff5e00"/></linearGradient><linearGradient id="b26" gradientUnits="userSpaceOnUse" x1="0" y1="292.0" x2="0" y2="421.3"><stop offset="0.000" stop-color="#1cffe3"/><stop offset="0.186" stop-color="#59ffa6"/><stop offset="0.356" stop-color="#b6ff49"/><stop offset="0.464" stop-color="#fffd00"/><stop offset="0.533" stop-color="#ffc500"/><stop offset="0.580" stop-color="#ff9b00"/><stop offset="0.703" stop-color="#ff6900"/><stop offset="0.773" stop-color="#ff6000"/><stop offset="0.997" stop-color="#ff6000"/></linearGradient><linearGradient id="b27" gradientUnits="userSpaceOnUse" x1="0" y1="292.0" x2="0" y2="421.3"><stop offset="0.000" stop-color="#1affe5"/><stop offset="0.186" stop-color="#51ffae"/><stop offset="0.356" stop-color="#acff53"/><stop offset="0.472" stop-color="#ffff00"/><stop offset="0.533" stop-color="#ffcb00"/><stop offset="0.580" stop-color="#ff9f00"/><stop offset="0.703" stop-color="#ff6c00"/><stop offset="0.773" stop-color="#ff6500"/><stop offset="0.997" stop-color="#ff6500"/></linearGradient><linearGradient id="b28" gradientUnits="userSpaceOnUse" x1="0" y1="292.0" x2="0" y2="421.3"><stop offset="0.000" stop-color="#1affe5"/><stop offset="0.186" stop-color="#4effb1"/><stop offset="0.356" stop-color="#a5ff5a"/><stop offset="0.479" stop-color="#fffe00"/><stop offset="0.549" stop-color="#ffc100"/><stop offset="0.580" stop-color="#ffa400"/><stop offset="0.696" stop-color="#ff7500"/><stop offset="0.781" stop-color="#ff6d00"/><stop offset="0.997" stop-color="#ff6d00"/></linearGradient><linearGradient id="b29" gradientUnits="userSpaceOnUse" x1="0" y1="292.0" x2="0" y2="421.3"><stop offset="0.000" stop-color="#1affe5"/><stop offset="0.193" stop-color="#4effb1"/><stop offset="0.363" stop-color="#a2ff5d"/><stop offset="0.487" stop-color="#fffd00"/><stop offset="0.557" stop-color="#ffbf00"/><stop offset="0.595" stop-color="#ffa000"/><stop offset="0.696" stop-color="#ff7c00"/><stop offset="0.796" stop-color="#ff7500"/><stop offset="0.997" stop-color="#ff7500"/></linearGradient><linearGradient id="b30" gradientUnits="userSpaceOnUse" x1="0" y1="292.0" x2="0" y2="421.3"><stop offset="0.000" stop-color="#1affe5"/><stop offset="0.201" stop-color="#4effb1"/><stop offset="0.363" stop-color="#9bff64"/><stop offset="0.487" stop-color="#fcff03"/><stop offset="0.533" stop-color="#ffdc00"/><stop offset="0.587" stop-color="#ffaa00"/><stop offset="0.665" stop-color="#ff8a00"/><stop offset="0.750" stop-color="#ff7d00"/><stop offset="0.997" stop-color="#ff7d00"/></linearGradient><linearGradient id="b31" gradientUnits="userSpaceOnUse" x1="0" y1="292.0" x2="0" y2="421.3"><stop offset="0.000" stop-color="#1affe5"/><stop offset="0.209" stop-color="#4dffb2"/><stop offset="0.371" stop-color="#99ff66"/><stop offset="0.495" stop-color="#fdff02"/><stop offset="0.549" stop-color="#ffd300"/><stop offset="0.595" stop-color="#ffa900"/><stop offset="0.680" stop-color="#ff8c00"/><stop offset="0.812" stop-color="#ff8600"/><stop offset="0.997" stop-color="#ff8600"/></linearGradient><linearGradient id="b32" gradientUnits="userSpaceOnUse" x1="0" y1="292.0" x2="0" y2="421.3"><stop offset="0.000" stop-color="#1affe5"/><stop offset="0.216" stop-color="#4cffb3"/><stop offset="0.371" stop-color="#91ff6e"/><stop offset="0.502" stop-color="#feff01"/><stop offset="0.557" stop-color="#ffd100"/><stop offset="0.603" stop-color="#ffa900"/><stop offset="0.680" stop-color="#ff9200"/><stop offset="0.959" stop-color="#ff8e00"/><stop offset="0.997" stop-color="#ff8e00"/></linearGradient><linearGradient id="b33" gradientUnits="userSpaceOnUse" x1="0" y1="292.0" x2="0" y2="421.3"><stop offset="0.000" stop-color="#1affe5"/><stop offset="0.224" stop-color="#4bffb4"/><stop offset="0.371" stop-color="#8aff75"/><stop offset="0.510" stop-color="#ffff00"/><stop offset="0.580" stop-color="#ffc000"/><stop offset="0.603" stop-color="#ffad00"/><stop offset="0.680" stop-color="#ff9800"/><stop offset="0.997" stop-color="#ff9600"/></linearGradient><linearGradient id="b34" gradientUnits="userSpaceOnUse" x1="0" y1="292.0" x2="0" y2="421.3"><stop offset="0.000" stop-color="#1affe5"/><stop offset="0.224" stop-color="#47ffb8"/><stop offset="0.371" stop-color="#83ff7c"/><stop offset="0.510" stop-color="#faff05"/><stop offset="0.526" stop-color="#fff800"/><stop offset="0.603" stop-color="#ffb100"/><stop offset="0.680" stop-color="#ff9e00"/><stop offset="0.997" stop-color="#ff9e00"/></linearGradient><linearGradient id="b35" gradientUnits="userSpaceOnUse" x1="0" y1="292.0" x2="0" y2="421.3"><stop offset="0.000" stop-color="#1affe5"/><stop offset="0.224" stop-color="#47ffb8"/><stop offset="0.371" stop-color="#83ff7c"/><stop offset="0.510" stop-color="#faff05"/><stop offset="0.526" stop-color="#fff800"/><stop offset="0.603" stop-color="#ffb100"/><stop offset="0.680" stop-color="#ff9f00"/><stop offset="0.997" stop-color="#ff9f00"/></linearGradient><linearGradient id="b36" gradientUnits="userSpaceOnUse" x1="0" y1="292.0" x2="0" y2="421.3"><stop offset="0.000" stop-color="#1affe5"/><stop offset="0.224" stop-color="#47ffb8"/><stop offset="0.371" stop-color="#83ff7c"/><stop offset="0.510" stop-color="#faff05"/><stop offset="0.526" stop-color="#fff800"/><stop offset="0.603" stop-color="#ffb100"/><stop offset="0.680" stop-color="#ffa100"/><stop offset="0.997" stop-color="#ffa100"/></linearGradient><linearGradient id="b37" gradientUnits="userSpaceOnUse" x1="0" y1="292.0" x2="0" y2="421.3"><stop offset="0.000" stop-color="#1affe5"/><stop offset="0.224" stop-color="#47ffb8"/><stop offset="0.371" stop-color="#83ff7c"/><stop offset="0.510" stop-color="#faff05"/><stop offset="0.526" stop-color="#fff800"/><stop offset="0.603" stop-color="#ffb100"/><stop offset="0.680" stop-color="#ffa200"/><stop offset="0.997" stop-color="#ffa200"/></linearGradient><linearGradient id="b38" gradientUnits="userSpaceOnUse" x1="0" y1="292.0" x2="0" y2="421.3"><stop offset="0.000" stop-color="#1affe5"/><stop offset="0.224" stop-color="#47ffb8"/><stop offset="0.371" stop-color="#83ff7c"/><stop offset="0.510" stop-color="#faff05"/><stop offset="0.526" stop-color="#fff800"/><stop offset="0.603" stop-color="#ffb100"/><stop offset="0.665" stop-color="#ffa400"/><stop offset="0.997" stop-color="#ffa400"/></linearGradient><linearGradient id="b39" gradientUnits="userSpaceOnUse" x1="0" y1="292.0" x2="0" y2="421.3"><stop offset="0.000" stop-color="#1affe5"/><stop offset="0.224" stop-color="#47ffb8"/><stop offset="0.371" stop-color="#83ff7c"/><stop offset="0.510" stop-color="#faff05"/><stop offset="0.526" stop-color="#fff800"/><stop offset="0.603" stop-color="#ffb100"/><stop offset="0.649" stop-color="#ffa700"/><stop offset="0.997" stop-color="#ffa500"/></linearGradient><linearGradient id="b40" gradientUnits="userSpaceOnUse" x1="0" y1="292.0" x2="0" y2="421.3"><stop offset="0.000" stop-color="#1affe5"/><stop offset="0.224" stop-color="#47ffb8"/><stop offset="0.371" stop-color="#83ff7c"/><stop offset="0.510" stop-color="#faff05"/><stop offset="0.526" stop-color="#fff800"/><stop offset="0.603" stop-color="#ffb100"/><stop offset="0.642" stop-color="#ffa800"/><stop offset="0.997" stop-color="#ffa600"/></linearGradient><linearGradient id="b41" gradientUnits="userSpaceOnUse" x1="0" y1="292.0" x2="0" y2="421.3"><stop offset="0.000" stop-color="#1affe5"/><stop offset="0.224" stop-color="#47ffb8"/><stop offset="0.371" stop-color="#83ff7c"/><stop offset="0.510" stop-color="#faff05"/><stop offset="0.526" stop-color="#fff800"/><stop offset="0.603" stop-color="#ffb100"/><stop offset="0.634" stop-color="#ffa800"/><stop offset="0.997" stop-color="#ffa800"/></linearGradient><linearGradient id="b42" gradientUnits="userSpaceOnUse" x1="0" y1="292.0" x2="0" y2="421.3"><stop offset="0.000" stop-color="#1affe5"/><stop offset="0.224" stop-color="#47ffb8"/><stop offset="0.371" stop-color="#83ff7c"/><stop offset="0.510" stop-color="#fbff04"/><stop offset="0.533" stop-color="#fff100"/><stop offset="0.603" stop-color="#ffb100"/><stop offset="0.634" stop-color="#ffaa00"/><stop offset="0.997" stop-color="#ffaa00"/></linearGradient><linearGradient id="b43" gradientUnits="userSpaceOnUse" x1="0" y1="292.0" x2="0" y2="421.3"><stop offset="0.000" stop-color="#1bffe4"/><stop offset="0.224" stop-color="#48ffb7"/><stop offset="0.371" stop-color="#83ff7c"/><stop offset="0.510" stop-color="#fdff02"/><stop offset="0.557" stop-color="#ffd900"/><stop offset="0.603" stop-color="#ffb300"/><stop offset="0.642" stop-color="#ffac00"/><stop offset="0.997" stop-color="#ffac00"/></linearGradient><linearGradient id="b44" gradientUnits="userSpaceOnUse" x1="0" y1="292.0" x2="0" y2="421.3"><stop offset="0.000" stop-color="#1dffe2"/><stop offset="0.224" stop-color="#49ffb6"/><stop offset="0.371" stop-color="#83ff7c"/><stop offset="0.510" stop-color="#ffff00"/><stop offset="0.595" stop-color="#ffb800"/><stop offset="0.634" stop-color="#ffae00"/><stop offset="0.997" stop-color="#ffae00"/></linearGradient><linearGradient id="b45" gradientUnits="userSpaceOnUse" x1="0" y1="292.0" x2="0" y2="421.3"><stop offset="0.000" stop-color="#1effe1"/><stop offset="0.232" stop-color="#4dffb2"/><stop offset="0.371" stop-color="#83ff7c"/><stop offset="0.502" stop-color="#fbff04"/><stop offset="0.526" stop-color="#fff100"/><stop offset="0.587" stop-color="#ffbd00"/><stop offset="0.626" stop-color="#ffb100"/><stop offset="0.997" stop-color="#ffb100"/></linearGradient><linearGradient id="b46" gradientUnits="userSpaceOnUse" x1="0" y1="292.0" x2="0" y2="421.3"><stop offset="0.000" stop-color="#1fffe0"/><stop offset="0.232" stop-color="#4effb1"/><stop offset="0.371" stop-color="#83ff7c"/><stop offset="0.502" stop-color="#fdff02"/><stop offset="0.580" stop-color="#ffc100"/><stop offset="0.626" stop-color="#ffb300"/><stop offset="0.997" stop-color="#ffb300"/></linearGradient><linearGradient id="b47" gradientUnits="userSpaceOnUse" x1="0" y1="292.0" x2="0" y2="421.3"><stop offset="0.000" stop-color="#20ffdf"/><stop offset="0.232" stop-color="#4fffb0"/><stop offset="0.371" stop-color="#83ff7c"/><stop offset="0.502" stop-color="#ffff00"/><stop offset="0.580" stop-color="#ffc000"/><stop offset="0.634" stop-color="#ffb600"/><stop offset="0.997" stop-color="#ffb600"/></linearGradient><linearGradient id="b48" gradientUnits="userSpaceOnUse" x1="0" y1="292.0" x2="0" y2="421.3"><stop offset="0.000" stop-color="#21ffde"/><stop offset="0.232" stop-color="#51ffae"/><stop offset="0.371" stop-color="#83ff7c"/><stop offset="0.495" stop-color="#faff05"/><stop offset="0.510" stop-color="#fff700"/><stop offset="0.580" stop-color="#ffbf00"/><stop offset="0.649" stop-color="#ffb800"/><stop offset="0.997" stop-color="#ffb800"/></linearGradient><linearGradient id="b49" gradientUnits="userSpaceOnUse" x1="0" y1="292.0" x2="0" y2="421.3"><stop offset="0.000" stop-color="#22ffdc"/><stop offset="0.232" stop-color="#52ffad"/><stop offset="0.371" stop-color="#83ff7c"/><stop offset="0.495" stop-color="#fcff03"/><stop offset="0.557" stop-color="#ffce00"/><stop offset="0.580" stop-color="#ffbe00"/><stop offset="0.966" stop-color="#ffba00"/><stop offset="0.997" stop-color="#ffba00"/></linearGradient><linearGradient id="b50" gradientUnits="userSpaceOnUse" x1="0" y1="292.0" x2="0" y2="421.3"><stop offset="0.000" stop-color="#24ffdb"/><stop offset="0.232" stop-color="#53ffac"/><stop offset="0.371" stop-color="#83ff7c"/><stop offset="0.495" stop-color="#fdff02"/><stop offset="0.572" stop-color="#ffc000"/><stop offset="0.997" stop-color="#ffbd00"/></linearGradient><linearGradient id="b51" gradientUnits="userSpaceOnUse" x1="0" y1="292.0" x2="0" y2="421.3"><stop offset="0.000" stop-color="#24ffdb"/><stop offset="0.209" stop-color="#51ffae"/><stop offset="0.363" stop-color="#94ff6b"/><stop offset="0.441" stop-color="#d7ff28"/><stop offset="0.479" stop-color="#feff01"/><stop offset="0.518" stop-color="#ffd900"/><stop offset="0.580" stop-color="#ffbd00"/><stop offset="0.997" stop-color="#ffbd00"/></linearGradient><linearGradient id="b52" gradientUnits="userSpaceOnUse" x1="0" y1="292.0" x2="0" y2="421.3"><stop offset="0.000" stop-color="#24ffdb"/><stop offset="0.201" stop-color="#52ffad"/><stop offset="0.348" stop-color="#a0ff5f"/><stop offset="0.425" stop-color="#d5ff2a"/><stop offset="0.464" stop-color="#fbff04"/><stop offset="0.479" stop-color="#fff100"/><stop offset="0.510" stop-color="#ffcb00"/><stop offset="0.541" stop-color="#ffc200"/><stop offset="0.618" stop-color="#ffbd00"/><stop offset="0.997" stop-color="#ffbd00"/></linearGradient><linearGradient id="b53" gradientUnits="userSpaceOnUse" x1="0" y1="292.0" x2="0" y2="421.3"><stop offset="0.000" stop-color="#24ffdb"/><stop offset="0.193" stop-color="#50ffaf"/><stop offset="0.348" stop-color="#a4ff5b"/><stop offset="0.425" stop-color="#dbff24"/><stop offset="0.464" stop-color="#fffc00"/><stop offset="0.510" stop-color="#ffca00"/><stop offset="0.557" stop-color="#ffc000"/><stop offset="0.997" stop-color="#ffbd00"/></linearGradient><linearGradient id="b54" gradientUnits="userSpaceOnUse" x1="0" y1="292.0" x2="0" y2="421.3"><stop offset="0.000" stop-color="#24ffdb"/><stop offset="0.193" stop-color="#51ffae"/><stop offset="0.332" stop-color="#9cff63"/><stop offset="0.425" stop-color="#e1ff1e"/><stop offset="0.456" stop-color="#fffd00"/><stop offset="0.518" stop-color="#ffc500"/><stop offset="0.611" stop-color="#ffbd00"/><stop offset="0.997" stop-color="#ffbd00"/></linearGradient><linearGradient id="b55" gradientUnits="userSpaceOnUse" x1="0" y1="292.0" x2="0" y2="421.3"><stop offset="0.000" stop-color="#24ffdb"/><stop offset="0.193" stop-color="#53ffac"/><stop offset="0.325" stop-color="#9aff65"/><stop offset="0.425" stop-color="#e7ff18"/><stop offset="0.448" stop-color="#ffff00"/><stop offset="0.518" stop-color="#ffc400"/><stop offset="0.618" stop-color="#ffbd00"/><stop offset="0.997" stop-color="#ffbd00"/></linearGradient><linearGradient id="b56" gradientUnits="userSpaceOnUse" x1="0" y1="292.0" x2="0" y2="421.3"><stop offset="0.000" stop-color="#24ffdb"/><stop offset="0.186" stop-color="#52ffad"/><stop offset="0.317" stop-color="#97ff68"/><stop offset="0.425" stop-color="#ecff13"/><stop offset="0.441" stop-color="#fdff02"/><stop offset="0.510" stop-color="#ffc700"/><stop offset="0.587" stop-color="#ffbd00"/><stop offset="0.997" stop-color="#ffbd00"/></linearGradient><linearGradient id="b57" gradientUnits="userSpaceOnUse" x1="0" y1="292.0" x2="0" y2="421.3"><stop offset="0.000" stop-color="#24ffdb"/><stop offset="0.178" stop-color="#50ffaf"/><stop offset="0.309" stop-color="#94ff6b"/><stop offset="0.417" stop-color="#eaff15"/><stop offset="0.441" stop-color="#fffb00"/><stop offset="0.464" stop-color="#ffe300"/><stop offset="0.518" stop-color="#ffc300"/><stop offset="0.634" stop-color="#ffbd00"/><stop offset="0.997" stop-color="#ffbd00"/></linearGradient><linearGradient id="b58" gradientUnits="userSpaceOnUse" x1="0" y1="292.0" x2="0" y2="421.3"><stop offset="0.000" stop-color="#24ffdb"/><stop offset="0.178" stop-color="#51ffae"/><stop offset="0.309" stop-color="#96ff69"/><stop offset="0.417" stop-color="#f0ff0f"/><stop offset="0.433" stop-color="#fffd00"/><stop offset="0.464" stop-color="#ffdd00"/><stop offset="0.518" stop-color="#ffc200"/><stop offset="0.657" stop-color="#ffbd00"/><stop offset="0.997" stop-color="#ffbd00"/></linearGradient><linearGradient id="b59" gradientUnits="userSpaceOnUse" x1="0" y1="292.0" x2="0" y2="421.3"><stop offset="0.000" stop-color="#24ffdb"/><stop offset="0.170" stop-color="#4fffb0"/><stop offset="0.309" stop-color="#98ff67"/><stop offset="0.417" stop-color="#f6ff09"/><stop offset="0.425" stop-color="#feff01"/><stop offset="0.464" stop-color="#ffd600"/><stop offset="0.526" stop-color="#ffc000"/><stop offset="0.997" stop-color="#ffbd00"/></linearGradient><linearGradient id="b60" gradientUnits="userSpaceOnUse" x1="0" y1="292.0" x2="0" y2="421.3"><stop offset="0.000" stop-color="#24ffdb"/><stop offset="0.170" stop-color="#50ffaf"/><stop offset="0.301" stop-color="#94ff6b"/><stop offset="0.410" stop-color="#f3ff0c"/><stop offset="0.425" stop-color="#fffa00"/><stop offset="0.464" stop-color="#ffd000"/><stop offset="0.541" stop-color="#ffbe00"/><stop offset="0.997" stop-color="#ffbd00"/></linearGradient><linearGradient id="b61" gradientUnits="userSpaceOnUse" x1="0" y1="292.0" x2="0" y2="421.3"><stop offset="0.000" stop-color="#24ffdb"/><stop offset="0.170" stop-color="#51ffae"/><stop offset="0.301" stop-color="#96ff69"/><stop offset="0.417" stop-color="#fffd00"/><stop offset="0.456" stop-color="#ffcf00"/><stop offset="0.487" stop-color="#ffc500"/><stop offset="0.564" stop-color="#ffbd00"/><stop offset="0.997" stop-color="#ffbd00"/></linearGradient><linearGradient id="b62" gradientUnits="userSpaceOnUse" x1="0" y1="292.0" x2="0" y2="421.3"><stop offset="0.000" stop-color="#24ffdb"/><stop offset="0.170" stop-color="#52ffad"/><stop offset="0.301" stop-color="#96ff69"/><stop offset="0.410" stop-color="#fdff02"/><stop offset="0.456" stop-color="#ffcb00"/><stop offset="0.487" stop-color="#ffc300"/><stop offset="0.580" stop-color="#ffbd00"/><stop offset="0.997" stop-color="#ffbd00"/></linearGradient><linearGradient id="b63" gradientUnits="userSpaceOnUse" x1="0" y1="292.0" x2="0" y2="421.3"><stop offset="0.000" stop-color="#25ffda"/><stop offset="0.170" stop-color="#52ffad"/><stop offset="0.301" stop-color="#95ff6a"/><stop offset="0.410" stop-color="#fffe00"/><stop offset="0.456" stop-color="#ffca00"/><stop offset="0.502" stop-color="#ffc100"/><stop offset="0.642" stop-color="#ffbd00"/><stop offset="0.997" stop-color="#ffbd00"/></linearGradient><linearGradient id="b64" gradientUnits="userSpaceOnUse" x1="0" y1="292.0" x2="0" y2="421.3"><stop offset="0.000" stop-color="#26ffd9"/><stop offset="0.170" stop-color="#52ffad"/><stop offset="0.301" stop-color="#93ff6c"/><stop offset="0.394" stop-color="#f2ff0d"/><stop offset="0.410" stop-color="#fffb00"/><stop offset="0.456" stop-color="#ffca00"/><stop offset="0.541" stop-color="#ffbd00"/><stop offset="0.997" stop-color="#ffbd00"/></linearGradient><linearGradient id="b65" gradientUnits="userSpaceOnUse" x1="0" y1="292.0" x2="0" y2="421.3"><stop offset="0.000" stop-color="#27ffd8"/><stop offset="0.170" stop-color="#53ffac"/><stop offset="0.301" stop-color="#92ff6d"/><stop offset="0.394" stop-color="#f4ff0b"/><stop offset="0.402" stop-color="#fdff02"/><stop offset="0.441" stop-color="#ffd600"/><stop offset="0.464" stop-color="#ffc500"/><stop offset="0.572" stop-color="#ffbd00"/><stop offset="0.997" stop-color="#ffbd00"/></linearGradient><linearGradient id="b66" gradientUnits="userSpaceOnUse" x1="0" y1="292.0" x2="0" y2="421.3"><stop offset="0.000" stop-color="#28ffd7"/><stop offset="0.170" stop-color="#53ffac"/><stop offset="0.301" stop-color="#90ff6f"/><stop offset="0.386" stop-color="#edff12"/><stop offset="0.402" stop-color="#fffe00"/><stop offset="0.433" stop-color="#ffd900"/><stop offset="0.464" stop-color="#ffc500"/><stop offset="0.580" stop-color="#ffbd00"/><stop offset="0.997" stop-color="#ffbd00"/></linearGradient><linearGradient id="b67" gradientUnits="userSpaceOnUse" x1="0" y1="292.0" x2="0" y2="421.3"><stop offset="0.000" stop-color="#29ffd6"/><stop offset="0.170" stop-color="#53ffac"/><stop offset="0.301" stop-color="#8fff70"/><stop offset="0.386" stop-color="#efff10"/><stop offset="0.402" stop-color="#fffb00"/><stop offset="0.433" stop-color="#ffd500"/><stop offset="0.464" stop-color="#ffc400"/><stop offset="0.580" stop-color="#ffbd00"/><stop offset="0.997" stop-color="#ffbd00"/></linearGradient><linearGradient id="b68" gradientUnits="userSpaceOnUse" x1="0" y1="292.0" x2="0" y2="421.3"><stop offset="0.000" stop-color="#2affd5"/><stop offset="0.170" stop-color="#53ffac"/><stop offset="0.301" stop-color="#8dff72"/><stop offset="0.379" stop-color="#e7ff18"/><stop offset="0.394" stop-color="#fcff03"/><stop offset="0.433" stop-color="#ffd200"/><stop offset="0.472" stop-color="#ffc300"/><stop offset="0.587" stop-color="#ffbd00"/><stop offset="0.997" stop-color="#ffbd00"/></linearGradient><linearGradient id="b69" gradientUnits="userSpaceOnUse" x1="0" y1="292.0" x2="0" y2="421.3"><stop offset="0.000" stop-color="#2bffd4"/><stop offset="0.170" stop-color="#53ffac"/><stop offset="0.309" stop-color="#92ff6d"/><stop offset="0.394" stop-color="#feff01"/><stop offset="0.433" stop-color="#ffcf00"/><stop offset="0.479" stop-color="#ffc200"/><stop offset="0.611" stop-color="#ffbd00"/><stop offset="0.997" stop-color="#ffbd00"/></linearGradient><linearGradient id="b70" gradientUnits="userSpaceOnUse" x1="0" y1="292.0" x2="0" y2="421.3"><stop offset="0.000" stop-color="#2cffd3"/><stop offset="0.162" stop-color="#50ffaf"/><stop offset="0.309" stop-color="#90ff6f"/><stop offset="0.394" stop-color="#fffd00"/><stop offset="0.425" stop-color="#ffd200"/><stop offset="0.441" stop-color="#ffc900"/><stop offset="0.533" stop-color="#ffbd00"/><stop offset="0.997" stop-color="#ffbd00"/></linearGradient><linearGradient id="b71" gradientUnits="userSpaceOnUse" x1="0" y1="292.0" x2="0" y2="421.3"><stop offset="0.000" stop-color="#2dffd2"/><stop offset="0.162" stop-color="#51ffae"/><stop offset="0.309" stop-color="#8fff70"/><stop offset="0.386" stop-color="#f8ff07"/><stop offset="0.394" stop-color="#fffb00"/><stop offset="0.425" stop-color="#ffcf00"/><stop offset="0.441" stop-color="#ffc700"/><stop offset="0.549" stop-color="#ffbd00"/><stop offset="0.997" stop-color="#ffbd00"/></linearGradient><linearGradient id="b72" gradientUnits="userSpaceOnUse" x1="0" y1="292.0" x2="0" y2="421.3"><stop offset="0.000" stop-color="#2effd1"/><stop offset="0.162" stop-color="#50ffaf"/><stop offset="0.309" stop-color="#8dff72"/><stop offset="0.379" stop-color="#ecff13"/><stop offset="0.394" stop-color="#fffb00"/><stop offset="0.425" stop-color="#ffce00"/><stop offset="0.441" stop-color="#ffc600"/><stop offset="0.549" stop-color="#ffbd00"/><stop offset="0.997" stop-color="#ffbd00"/></linearGradient><linearGradient id="b73" gradientUnits="userSpaceOnUse" x1="0" y1="292.0" x2="0" y2="421.3"><stop offset="0.000" stop-color="#2effd1"/><stop offset="0.170" stop-color="#51ffae"/><stop offset="0.309" stop-color="#8aff75"/><stop offset="0.363" stop-color="#d1ff2e"/><stop offset="0.394" stop-color="#fffd00"/><stop offset="0.425" stop-color="#ffd000"/><stop offset="0.441" stop-color="#ffc600"/><stop offset="0.541" stop-color="#ffbd00"/><stop offset="0.997" stop-color="#ffbd00"/></linearGradient><linearGradient id="b74" gradientUnits="userSpaceOnUse" x1="0" y1="292.0" x2="0" y2="421.3"><stop offset="0.000" stop-color="#2effd1"/><stop offset="0.170" stop-color="#50ffaf"/><stop offset="0.309" stop-color="#88ff77"/><stop offset="0.356" stop-color="#c1ff3e"/><stop offset="0.394" stop-color="#feff01"/><stop offset="0.425" stop-color="#ffd200"/><stop offset="0.441" stop-color="#ffc700"/><stop offset="0.541" stop-color="#ffbd00"/><stop offset="0.997" stop-color="#ffbd00"/></linearGradient><linearGradient id="b75" gradientUnits="userSpaceOnUse" x1="0" y1="292.0" x2="0" y2="421.3"><stop offset="0.000" stop-color="#2effd1"/><stop offset="0.170" stop-color="#4effb1"/><stop offset="0.301" stop-color="#80ff7f"/><stop offset="0.348" stop-color="#b1ff4e"/><stop offset="0.394" stop-color="#fcff03"/><stop offset="0.433" stop-color="#ffcc00"/><stop offset="0.472" stop-color="#ffc200"/><stop offset="0.580" stop-color="#ffbd00"/><stop offset="0.997" stop-color="#ffbd00"/></linearGradient><linearGradient id="b76" gradientUnits="userSpaceOnUse" x1="0" y1="292.0" x2="0" y2="421.3"><stop offset="0.000" stop-color="#2effd1"/><stop offset="0.178" stop-color="#4effb1"/><stop offset="0.301" stop-color="#7eff81"/><stop offset="0.348" stop-color="#acff53"/><stop offset="0.394" stop-color="#f9ff06"/><stop offset="0.410" stop-color="#ffed00"/><stop offset="0.433" stop-color="#ffcd00"/><stop offset="0.464" stop-color="#ffc300"/><stop offset="0.557" stop-color="#ffbd00"/><stop offset="0.997" stop-color="#ffbd00"/></linearGradient><linearGradient id="b77" gradientUnits="userSpaceOnUse" x1="0" y1="292.0" x2="0" y2="421.3"><stop offset="0.000" stop-color="#2effd1"/><stop offset="0.186" stop-color="#4fffb0"/><stop offset="0.309" stop-color="#81ff7e"/><stop offset="0.348" stop-color="#a8ff57"/><stop offset="0.394" stop-color="#f7ff08"/><stop offset="0.402" stop-color="#fffb00"/><stop offset="0.433" stop-color="#ffcf00"/><stop offset="0.456" stop-color="#ffc400"/><stop offset="0.549" stop-color="#ffbd00"/><stop offset="0.997" stop-color="#ffbd00"/></linearGradient><linearGradient id="b78" gradientUnits="userSpaceOnUse" x1="0" y1="292.0" x2="0" y2="421.3"><stop offset="0.000" stop-color="#2effd1"/><stop offset="0.186" stop-color="#4dffb2"/><stop offset="0.301" stop-color="#7aff85"/><stop offset="0.348" stop-color="#a3ff5c"/><stop offset="0.402" stop-color="#fffd00"/><stop offset="0.433" stop-color="#ffd000"/><stop offset="0.456" stop-color="#ffc400"/><stop offset="0.541" stop-color="#ffbd00"/><stop offset="0.997" stop-color="#ffbd00"/></linearGradient><linearGradient id="b79" gradientUnits="userSpaceOnUse" x1="0" y1="292.0" x2="0" y2="421.3"><stop offset="0.000" stop-color="#2effd1"/><stop offset="0.201" stop-color="#4effb1"/><stop offset="0.309" stop-color="#7cff83"/><stop offset="0.348" stop-color="#9eff61"/><stop offset="0.402" stop-color="#feff01"/><stop offset="0.433" stop-color="#ffd200"/><stop offset="0.448" stop-color="#ffc600"/><stop offset="0.533" stop-color="#ffbd00"/><stop offset="0.997" stop-color="#ffbd00"/></linearGradient><linearGradient id="b80" gradientUnits="userSpaceOnUse" x1="0" y1="292.0" x2="0" y2="421.3"><stop offset="0.000" stop-color="#2effd1"/><stop offset="0.201" stop-color="#4bffb4"/><stop offset="0.317" stop-color="#7fff80"/><stop offset="0.348" stop-color="#9aff65"/><stop offset="0.402" stop-color="#fcff03"/><stop offset="0.441" stop-color="#ffcb00"/><stop offset="0.479" stop-color="#ffc100"/><stop offset="0.657" stop-color="#ffbd00"/><stop offset="0.997" stop-color="#ffbd00"/></linearGradient><linearGradient id="b81" gradientUnits="userSpaceOnUse" x1="0" y1="292.0" x2="0" y2="421.3"><stop offset="0.000" stop-color="#2effd1"/><stop offset="0.209" stop-color="#4bffb4"/><stop offset="0.317" stop-color="#7cff83"/><stop offset="0.340" stop-color="#8bff74"/><stop offset="0.356" stop-color="#a4ff5b"/><stop offset="0.402" stop-color="#faff05"/><stop offset="0.417" stop-color="#ffec00"/><stop offset="0.441" stop-color="#ffcb00"/><stop offset="0.464" stop-color="#ffc300"/><stop offset="0.541" stop-color="#ffbd00"/><stop offset="0.997" stop-color="#ffbd00"/></linearGradient><linearGradient id="b82" gradientUnits="userSpaceOnUse" x1="0" y1="292.0" x2="0" y2="421.3"><stop offset="0.000" stop-color="#2effd1"/><stop offset="0.209" stop-color="#49ffb6"/><stop offset="0.332" stop-color="#82ff7d"/><stop offset="0.348" stop-color="#90ff6f"/><stop offset="0.394" stop-color="#eaff15"/><stop offset="0.410" stop-color="#fffa00"/><stop offset="0.441" stop-color="#ffcc00"/><stop offset="0.456" stop-color="#ffc500"/><stop offset="0.533" stop-color="#ffbd00"/><stop offset="0.997" stop-color="#ffbd00"/></linearGradient><linearGradient id="b83" gradientUnits="userSpaceOnUse" x1="0" y1="292.0" x2="0" y2="421.3"><stop offset="0.000" stop-color="#2effd1"/><stop offset="0.209" stop-color="#46ffb9"/><stop offset="0.340" stop-color="#82ff7d"/><stop offset="0.348" stop-color="#8cff73"/><stop offset="0.394" stop-color="#e8ff17"/><stop offset="0.410" stop-color="#fffc00"/><stop offset="0.441" stop-color="#ffcd00"/><stop offset="0.456" stop-color="#ffc500"/><stop offset="0.526" stop-color="#ffbd00"/><stop offset="0.997" stop-color="#ffbd00"/></linearGradient><linearGradient id="b84" gradientUnits="userSpaceOnUse" x1="0" y1="292.0" x2="0" y2="421.3"><stop offset="0.000" stop-color="#2effd1"/><stop offset="0.209" stop-color="#44ffbb"/><stop offset="0.340" stop-color="#7eff81"/><stop offset="0.348" stop-color="#87ff78"/><stop offset="0.394" stop-color="#e5ff1a"/><stop offset="0.410" stop-color="#fffe00"/><stop offset="0.441" stop-color="#ffcd00"/><stop offset="0.456" stop-color="#ffc500"/><stop offset="0.526" stop-color="#ffbd00"/><stop offset="0.997" stop-color="#ffbd00"/></linearGradient><linearGradient id="b85" gradientUnits="userSpaceOnUse" x1="0" y1="292.0" x2="0" y2="421.3"><stop offset="0.000" stop-color="#2dffd2"/><stop offset="0.209" stop-color="#46ffb9"/><stop offset="0.340" stop-color="#83ff7c"/><stop offset="0.348" stop-color="#8cff73"/><stop offset="0.394" stop-color="#e9ff16"/><stop offset="0.410" stop-color="#fffa00"/><stop offset="0.441" stop-color="#ffcc00"/><stop offset="0.456" stop-color="#ffc400"/><stop offset="0.526" stop-color="#ffbd00"/><stop offset="0.997" stop-color="#ffbd00"/></linearGradient><linearGradient id="b86" gradientUnits="userSpaceOnUse" x1="0" y1="292.0" x2="0" y2="421.3"><stop offset="0.000" stop-color="#2cffd3"/><stop offset="0.201" stop-color="#46ffb9"/><stop offset="0.340" stop-color="#89ff76"/><stop offset="0.348" stop-color="#92ff6d"/><stop offset="0.394" stop-color="#edff12"/><stop offset="0.402" stop-color="#fbff04"/><stop offset="0.425" stop-color="#ffe100"/><stop offset="0.448" stop-color="#ffc600"/><stop offset="0.526" stop-color="#ffbd00"/><stop offset="0.997" stop-color="#ffbd00"/></linearGradient><linearGradient id="b87" gradientUnits="userSpaceOnUse" x1="0" y1="292.0" x2="0" y2="421.3"><stop offset="0.000" stop-color="#2bffd4"/><stop offset="0.193" stop-color="#45ffba"/><stop offset="0.340" stop-color="#8fff70"/><stop offset="0.348" stop-color="#98ff67"/><stop offset="0.394" stop-color="#f1ff0e"/><stop offset="0.402" stop-color="#ffff00"/><stop offset="0.441" stop-color="#ffcb00"/><stop offset="0.464" stop-color="#ffc300"/><stop offset="0.541" stop-color="#ffbd00"/><stop offset="0.997" stop-color="#ffbd00"/></linearGradient><linearGradient id="b88" gradientUnits="userSpaceOnUse" x1="0" y1="292.0" x2="0" y2="421.3"><stop offset="0.000" stop-color="#2bffd4"/><stop offset="0.186" stop-color="#44ffbb"/><stop offset="0.247" stop-color="#63ff9c"/><stop offset="0.340" stop-color="#94ff6b"/><stop offset="0.348" stop-color="#9dff62"/><stop offset="0.394" stop-color="#f5ff0a"/><stop offset="0.402" stop-color="#fffb00"/><stop offset="0.433" stop-color="#ffd300"/><stop offset="0.448" stop-color="#ffc500"/><stop offset="0.526" stop-color="#ffbd00"/><stop offset="0.997" stop-color="#ffbd00"/></linearGradient><linearGradient id="b89" gradientUnits="userSpaceOnUse" x1="0" y1="292.0" x2="0" y2="421.3"><stop offset="0.000" stop-color="#2affd5"/><stop offset="0.186" stop-color="#45ffba"/><stop offset="0.340" stop-color="#9aff65"/><stop offset="0.356" stop-color="#b2ff4d"/><stop offset="0.394" stop-color="#faff05"/><stop offset="0.410" stop-color="#ffeb00"/><stop offset="0.441" stop-color="#ffc900"/><stop offset="0.495" stop-color="#ffbd00"/><stop offset="0.997" stop-color="#ffbd00"/></linearGradient><linearGradient id="b90" gradientUnits="userSpaceOnUse" x1="0" y1="292.0" x2="0" y2="421.3"><stop offset="0.000" stop-color="#29ffd6"/><stop offset="0.178" stop-color="#42ffbd"/><stop offset="0.255" stop-color="#70ff8f"/><stop offset="0.340" stop-color="#9fff60"/><stop offset="0.356" stop-color="#b7ff48"/><stop offset="0.394" stop-color="#feff01"/><stop offset="0.417" stop-color="#ffdd00"/><stop offset="0.448" stop-color="#ffc400"/><stop offset="0.526" stop-color="#ffbd00"/><stop offset="0.997" stop-color="#ffbd00"/></linearGradient><linearGradient id="b91" gradientUnits="userSpaceOnUse" x1="0" y1="292.0" x2="0" y2="421.3"><stop offset="0.000" stop-color="#28ffd7"/><stop offset="0.178" stop-color="#42ffbd"/><stop offset="0.340" stop-color="#a5ff5a"/><stop offset="0.356" stop-color="#bcff43"/><stop offset="0.386" stop-color="#f5ff0a"/><stop offset="0.394" stop-color="#fffc00"/><stop offset="0.417" stop-color="#ffda00"/><stop offset="0.448" stop-color="#ffc400"/><stop offset="0.526" stop-color="#ffbd00"/><stop offset="0.997" stop-color="#ffbd00"/></linearGradient><linearGradient id="b92" gradientUnits="userSpaceOnUse" x1="0" y1="292.0" x2="0" y2="421.3"><stop offset="0.000" stop-color="#27ffd8"/><stop offset="0.178" stop-color="#43ffbc"/><stop offset="0.309" stop-color="#99ff66"/><stop offset="0.340" stop-color="#abff54"/><stop offset="0.356" stop-color="#c2ff3d"/><stop offset="0.386" stop-color="#f9ff06"/><stop offset="0.394" stop-color="#fff800"/><stop offset="0.417" stop-color="#ffd600"/><stop offset="0.448" stop-color="#ffc400"/><stop offset="0.533" stop-color="#ffbd00"/><stop offset="0.997" stop-color="#ffbd00"/></linearGradient><linearGradient id="b93" gradientUnits="userSpaceOnUse" x1="0" y1="292.0" x2="0" y2="421.3"><stop offset="0.000" stop-color="#27ffd8"/><stop offset="0.178" stop-color="#43ffbc"/><stop offset="0.301" stop-color="#99ff66"/><stop offset="0.340" stop-color="#b0ff4f"/><stop offset="0.356" stop-color="#c7ff38"/><stop offset="0.386" stop-color="#fdff02"/><stop offset="0.417" stop-color="#ffd300"/><stop offset="0.456" stop-color="#ffc200"/><stop offset="0.541" stop-color="#ffbd00"/><stop offset="0.997" stop-color="#ffbd00"/></linearGradient><linearGradient id="b94" gradientUnits="userSpaceOnUse" x1="0" y1="292.0" x2="0" y2="421.3"><stop offset="0.000" stop-color="#26ffd9"/><stop offset="0.178" stop-color="#44ffbb"/><stop offset="0.294" stop-color="#99ff66"/><stop offset="0.340" stop-color="#b6ff49"/><stop offset="0.356" stop-color="#ccff33"/><stop offset="0.386" stop-color="#fffd00"/><stop offset="0.410" stop-color="#ffd700"/><stop offset="0.425" stop-color="#ffcc00"/><stop offset="0.472" stop-color="#ffc000"/><stop offset="0.997" stop-color="#ffbd00"/></linearGradient><linearGradient id="b95" gradientUnits="userSpaceOnUse" x1="0" y1="292.0" x2="0" y2="421.3"><stop offset="0.000" stop-color="#25ffda"/><stop offset="0.178" stop-color="#44ffbb"/><stop offset="0.286" stop-color="#99ff66"/><stop offset="0.340" stop-color="#bcff43"/><stop offset="0.356" stop-color="#d1ff2e"/><stop offset="0.379" stop-color="#f9ff06"/><stop offset="0.386" stop-color="#fff800"/><stop offset="0.410" stop-color="#ffd300"/><stop offset="0.425" stop-color="#ffc900"/><stop offset="0.502" stop-color="#ffbd00"/><stop offset="0.997" stop-color="#ffbd00"/></linearGradient><linearGradient id="b96" gradientUnits="userSpaceOnUse" x1="0" y1="292.0" x2="0" y2="421.3"><stop offset="0.000" stop-color="#24ffdb"/><stop offset="0.178" stop-color="#45ffba"/><stop offset="0.278" stop-color="#99ff66"/><stop offset="0.340" stop-color="#c1ff3e"/><stop offset="0.363" stop-color="#e4ff1b"/><stop offset="0.379" stop-color="#fdff02"/><stop offset="0.410" stop-color="#ffcf00"/><stop offset="0.425" stop-color="#ffc700"/><stop offset="0.518" stop-color="#ffbd00"/><stop offset="0.997" stop-color="#ffbd00"/></linearGradient><linearGradient id="b97" gradientUnits="userSpaceOnUse" x1="0" y1="292.0" x2="0" y2="421.3"><stop offset="0.000" stop-color="#24ffdb"/><stop offset="0.178" stop-color="#45ffba"/><stop offset="0.286" stop-color="#9fff60"/><stop offset="0.348" stop-color="#cdff32"/><stop offset="0.379" stop-color="#fffe00"/><stop offset="0.410" stop-color="#ffcd00"/><stop offset="0.425" stop-color="#ffc500"/><stop offset="0.526" stop-color="#ffbd00"/><stop offset="0.997" stop-color="#ffbd00"/></linearGradient><linearGradient id="b98" gradientUnits="userSpaceOnUse" x1="0" y1="292.0" x2="0" y2="421.3"><stop offset="0.000" stop-color="#24ffdb"/><stop offset="0.178" stop-color="#45ffba"/><stop offset="0.294" stop-color="#a3ff5c"/><stop offset="0.348" stop-color="#cdff32"/><stop offset="0.379" stop-color="#fffe00"/><stop offset="0.410" stop-color="#ffcd00"/><stop offset="0.425" stop-color="#ffc500"/><stop offset="0.526" stop-color="#ffbd00"/><stop offset="0.997" stop-color="#ffbd00"/></linearGradient><linearGradient id="b99" gradientUnits="userSpaceOnUse" x1="0" y1="292.0" x2="0" y2="421.3"><stop offset="0.000" stop-color="#24ffdb"/><stop offset="0.178" stop-color="#45ffba"/><stop offset="0.348" stop-color="#cdff32"/><stop offset="0.379" stop-color="#fffe00"/><stop offset="0.410" stop-color="#ffcd00"/><stop offset="0.425" stop-color="#ffc500"/><stop offset="0.526" stop-color="#ffbd00"/><stop offset="0.997" stop-color="#ffbd00"/></linearGradient><linearGradient id="b100" gradientUnits="userSpaceOnUse" x1="0" y1="292.0" x2="0" y2="421.3"><stop offset="0.000" stop-color="#24ffdb"/><stop offset="0.178" stop-color="#45ffba"/><stop offset="0.348" stop-color="#cdff32"/><stop offset="0.379" stop-color="#fffe00"/><stop offset="0.410" stop-color="#ffcd00"/><stop offset="0.425" stop-color="#ffc500"/><stop offset="0.518" stop-color="#ffbd00"/><stop offset="0.997" stop-color="#ffbd00"/></linearGradient><linearGradient id="b101" gradientUnits="userSpaceOnUse" x1="0" y1="292.0" x2="0" y2="421.3"><stop offset="0.000" stop-color="#24ffdb"/><stop offset="0.178" stop-color="#45ffba"/><stop offset="0.340" stop-color="#c3ff3c"/><stop offset="0.379" stop-color="#fffe00"/><stop offset="0.410" stop-color="#ffcd00"/><stop offset="0.425" stop-color="#ffc500"/><stop offset="0.518" stop-color="#ffbd00"/><stop offset="0.997" stop-color="#ffbd00"/></linearGradient><linearGradient id="b102" gradientUnits="userSpaceOnUse" x1="0" y1="292.0" x2="0" y2="421.3"><stop offset="0.000" stop-color="#24ffdb"/><stop offset="0.178" stop-color="#44ffbb"/><stop offset="0.317" stop-color="#b0ff4f"/><stop offset="0.348" stop-color="#cdff32"/><stop offset="0.379" stop-color="#fffe00"/><stop offset="0.410" stop-color="#ffcd00"/><stop offset="0.425" stop-color="#ffc500"/><stop offset="0.518" stop-color="#ffbd00"/><stop offset="0.997" stop-color="#ffbd00"/></linearGradient><linearGradient id="b103" gradientUnits="userSpaceOnUse" x1="0" y1="292.0" x2="0" y2="421.3"><stop offset="0.000" stop-color="#24ffdb"/><stop offset="0.178" stop-color="#44ffbb"/><stop offset="0.294" stop-color="#9bff64"/><stop offset="0.348" stop-color="#cdff32"/><stop offset="0.379" stop-color="#fffe00"/><stop offset="0.410" stop-color="#ffcd00"/><stop offset="0.425" stop-color="#ffc500"/><stop offset="0.510" stop-color="#ffbd00"/><stop offset="0.997" stop-color="#ffbd00"/></linearGradient><linearGradient id="b104" gradientUnits="userSpaceOnUse" x1="0" y1="292.0" x2="0" y2="421.3"><stop offset="0.000" stop-color="#24ffdb"/><stop offset="0.178" stop-color="#44ffbb"/><stop offset="0.278" stop-color="#8cff73"/><stop offset="0.348" stop-color="#cdff32"/><stop offset="0.379" stop-color="#fffe00"/><stop offset="0.410" stop-color="#ffcd00"/><stop offset="0.425" stop-color="#ffc500"/><stop offset="0.510" stop-color="#ffbd00"/><stop offset="0.997" stop-color="#ffbd00"/></linearGradient><linearGradient id="b105" gradientUnits="userSpaceOnUse" x1="0" y1="292.0" x2="0" y2="421.3"><stop offset="0.000" stop-color="#24ffdb"/><stop offset="0.178" stop-color="#44ffbb"/><stop offset="0.278" stop-color="#8aff75"/><stop offset="0.348" stop-color="#cdff32"/><stop offset="0.379" stop-color="#fffe00"/><stop offset="0.410" stop-color="#ffcd00"/><stop offset="0.425" stop-color="#ffc500"/><stop offset="0.502" stop-color="#ffbd00"/><stop offset="0.997" stop-color="#ffbd00"/></linearGradient><linearGradient id="b106" gradientUnits="userSpaceOnUse" x1="0" y1="292.0" x2="0" y2="421.3"><stop offset="0.000" stop-color="#24ffdb"/><stop offset="0.178" stop-color="#44ffbb"/><stop offset="0.278" stop-color="#8aff75"/><stop offset="0.348" stop-color="#cdff32"/><stop offset="0.379" stop-color="#fffe00"/><stop offset="0.410" stop-color="#ffcd00"/><stop offset="0.425" stop-color="#ffc500"/><stop offset="0.502" stop-color="#ffbd00"/><stop offset="0.997" stop-color="#ffbd00"/></linearGradient></defs><g clip-path="url(#bc)"><rect x="476" y="292.0" width="2.3" height="129.4" fill="url(#b0)"/><rect x="478" y="292.0" width="2.3" height="129.4" fill="url(#b1)"/><rect x="480" y="292.0" width="2.3" height="129.4" fill="url(#b2)"/><rect x="482" y="292.0" width="2.3" height="129.4" fill="url(#b3)"/><rect x="484" y="292.0" width="2.3" height="129.4" fill="url(#b4)"/><rect x="486" y="292.0" width="2.3" height="129.4" fill="url(#b5)"/><rect x="488" y="292.0" width="2.3" height="129.4" fill="url(#b6)"/><rect x="490" y="292.0" width="2.3" height="129.4" fill="url(#b7)"/><rect x="492" y="292.0" width="2.3" height="129.4" fill="url(#b8)"/><rect x="494" y="292.0" width="2.3" height="129.4" fill="url(#b9)"/><rect x="496" y="292.0" width="2.3" height="129.4" fill="url(#b10)"/><rect x="498" y="292.0" width="2.3" height="129.4" fill="url(#b11)"/><rect x="500" y="292.0" width="2.3" height="129.4" fill="url(#b12)"/><rect x="502" y="292.0" width="2.3" height="129.4" fill="url(#b13)"/><rect x="504" y="292.0" width="2.3" height="129.4" fill="url(#b14)"/><rect x="506" y="292.0" width="2.3" height="129.4" fill="url(#b15)"/><rect x="508" y="292.0" width="2.3" height="129.4" fill="url(#b16)"/><rect x="510" y="292.0" width="2.3" height="129.4" fill="url(#b17)"/><rect x="512" y="292.0" width="2.3" height="129.4" fill="url(#b18)"/><rect x="514" y="292.0" width="2.3" height="129.4" fill="url(#b19)"/><rect x="516" y="292.0" width="2.3" height="129.4" fill="url(#b20)"/><rect x="518" y="292.0" width="2.3" height="129.4" fill="url(#b21)"/><rect x="520" y="292.0" width="2.3" height="129.4" fill="url(#b22)"/><rect x="522" y="292.0" width="2.3" height="129.4" fill="url(#b23)"/><rect x="524" y="292.0" width="2.3" height="129.4" fill="url(#b24)"/><rect x="526" y="292.0" width="2.3" height="129.4" fill="url(#b25)"/><rect x="528" y="292.0" width="2.3" height="129.4" fill="url(#b26)"/><rect x="530" y="292.0" width="2.3" height="129.4" fill="url(#b27)"/><rect x="532" y="292.0" width="2.3" height="129.4" fill="url(#b28)"/><rect x="534" y="292.0" width="2.3" height="129.4" fill="url(#b29)"/><rect x="536" y="292.0" width="2.3" height="129.4" fill="url(#b30)"/><rect x="538" y="292.0" width="2.3" height="129.4" fill="url(#b31)"/><rect x="540" y="292.0" width="2.3" height="129.4" fill="url(#b32)"/><rect x="542" y="292.0" width="2.3" height="129.4" fill="url(#b33)"/><rect x="544" y="292.0" width="2.3" height="129.4" fill="url(#b34)"/><rect x="546" y="292.0" width="2.3" height="129.4" fill="url(#b35)"/><rect x="548" y="292.0" width="2.3" height="129.4" fill="url(#b36)"/><rect x="550" y="292.0" width="2.3" height="129.4" fill="url(#b37)"/><rect x="552" y="292.0" width="2.3" height="129.4" fill="url(#b38)"/><rect x="554" y="292.0" width="2.3" height="129.4" fill="url(#b39)"/><rect x="556" y="292.0" width="2.3" height="129.4" fill="url(#b40)"/><rect x="558" y="292.0" width="2.3" height="129.4" fill="url(#b41)"/><rect x="560" y="292.0" width="2.3" height="129.4" fill="url(#b42)"/><rect x="562" y="292.0" width="2.3" height="129.4" fill="url(#b43)"/><rect x="564" y="292.0" width="2.3" height="129.4" fill="url(#b44)"/><rect x="566" y="292.0" width="2.3" height="129.4" fill="url(#b45)"/><rect x="568" y="292.0" width="2.3" height="129.4" fill="url(#b46)"/><rect x="570" y="292.0" width="2.3" height="129.4" fill="url(#b47)"/><rect x="572" y="292.0" width="2.3" height="129.4" fill="url(#b48)"/><rect x="574" y="292.0" width="2.3" height="129.4" fill="url(#b49)"/><rect x="576" y="292.0" width="2.3" height="129.4" fill="url(#b50)"/><rect x="578" y="292.0" width="2.3" height="129.4" fill="url(#b51)"/><rect x="580" y="292.0" width="2.3" height="129.4" fill="url(#b52)"/><rect x="582" y="292.0" width="2.3" height="129.4" fill="url(#b53)"/><rect x="584" y="292.0" width="2.3" height="129.4" fill="url(#b54)"/><rect x="586" y="292.0" width="2.3" height="129.4" fill="url(#b55)"/><rect x="588" y="292.0" width="2.3" height="129.4" fill="url(#b56)"/><rect x="590" y="292.0" width="2.3" height="129.4" fill="url(#b57)"/><rect x="592" y="292.0" width="2.3" height="129.4" fill="url(#b58)"/><rect x="594" y="292.0" width="2.3" height="129.4" fill="url(#b59)"/><rect x="596" y="292.0" width="2.3" height="129.4" fill="url(#b60)"/><rect x="598" y="292.0" width="2.3" height="129.4" fill="url(#b61)"/><rect x="600" y="292.0" width="2.3" height="129.4" fill="url(#b62)"/><rect x="602" y="292.0" width="2.3" height="129.4" fill="url(#b63)"/><rect x="604" y="292.0" width="2.3" height="129.4" fill="url(#b64)"/><rect x="606" y="292.0" width="2.3" height="129.4" fill="url(#b65)"/><rect x="608" y="292.0" width="2.3" height="129.4" fill="url(#b66)"/><rect x="610" y="292.0" width="2.3" height="129.4" fill="url(#b67)"/><rect x="612" y="292.0" width="2.3" height="129.4" fill="url(#b68)"/><rect x="614" y="292.0" width="2.3" height="129.4" fill="url(#b69)"/><rect x="616" y="292.0" width="2.3" height="129.4" fill="url(#b70)"/><rect x="618" y="292.0" width="2.3" height="129.4" fill="url(#b71)"/><rect x="620" y="292.0" width="2.3" height="129.4" fill="url(#b72)"/><rect x="622" y="292.0" width="2.3" height="129.4" fill="url(#b73)"/><rect x="624" y="292.0" width="2.3" height="129.4" fill="url(#b74)"/><rect x="626" y="292.0" width="2.3" height="129.4" fill="url(#b75)"/><rect x="628" y="292.0" width="2.3" height="129.4" fill="url(#b76)"/><rect x="630" y="292.0" width="2.3" height="129.4" fill="url(#b77)"/><rect x="632" y="292.0" width="2.3" height="129.4" fill="url(#b78)"/><rect x="634" y="292.0" width="2.3" height="129.4" fill="url(#b79)"/><rect x="636" y="292.0" width="2.3" height="129.4" fill="url(#b80)"/><rect x="638" y="292.0" width="2.3" height="129.4" fill="url(#b81)"/><rect x="640" y="292.0" width="2.3" height="129.4" fill="url(#b82)"/><rect x="642" y="292.0" width="2.3" height="129.4" fill="url(#b83)"/><rect x="644" y="292.0" width="2.3" height="129.4" fill="url(#b84)"/><rect x="646" y="292.0" width="2.3" height="129.4" fill="url(#b85)"/><rect x="648" y="292.0" width="2.3" height="129.4" fill="url(#b86)"/><rect x="650" y="292.0" width="2.3" height="129.4" fill="url(#b87)"/><rect x="652" y="292.0" width="2.3" height="129.4" fill="url(#b88)"/><rect x="654" y="292.0" width="2.3" height="129.4" fill="url(#b89)"/><rect x="656" y="292.0" width="2.3" height="129.4" fill="url(#b90)"/><rect x="658" y="292.0" width="2.3" height="129.4" fill="url(#b91)"/><rect x="660" y="292.0" width="2.3" height="129.4" fill="url(#b92)"/><rect x="662" y="292.0" width="2.3" height="129.4" fill="url(#b93)"/><rect x="664" y="292.0" width="2.3" height="129.4" fill="url(#b94)"/><rect x="666" y="292.0" width="2.3" height="129.4" fill="url(#b95)"/><rect x="668" y="292.0" width="2.3" height="129.4" fill="url(#b96)"/><rect x="670" y="292.0" width="2.3" height="129.4" fill="url(#b97)"/><rect x="672" y="292.0" width="2.3" height="129.4" fill="url(#b98)"/><rect x="674" y="292.0" width="2.3" height="129.4" fill="url(#b99)"/><rect x="676" y="292.0" width="2.3" height="129.4" fill="url(#b100)"/><rect x="678" y="292.0" width="2.3" height="129.4" fill="url(#b101)"/><rect x="680" y="292.0" width="2.3" height="129.4" fill="url(#b102)"/><rect x="682" y="292.0" width="2.3" height="129.4" fill="url(#b103)"/><rect x="684" y="292.0" width="2.3" height="129.4" fill="url(#b104)"/><rect x="686" y="292.0" width="2.3" height="129.4" fill="url(#b105)"/><rect x="688" y="292.0" width="2.3" height="129.4" fill="url(#b106)"/></g>
<text x="72.5" y="301.7" font-size="23" text-anchor="end">0</text>
<text x="72.5" y="338.6" font-size="23" text-anchor="end">50</text>
<text x="72.5" y="375.5" font-size="23" text-anchor="end">100</text>
<text x="72.5" y="412.5" font-size="23" text-anchor="end">150</text>
<text x="72.5" y="449.1" font-size="23" text-anchor="end">200</text>
<text transform="translate(24.0,369.1) rotate(-90)" font-size="23" text-anchor="middle">Depth, (m)</text>
<g stroke="#000" stroke-width="1.1" fill="none"><line x1="211.5" y1="540.95" x2="211.5" y2="688.1" stroke-dasharray="1.8 6.8" stroke-dashoffset="7.9"/><line x1="338.6" y1="540.95" x2="338.6" y2="688.1" stroke-dasharray="1.8 6.8" stroke-dashoffset="7.9"/><line x1="466.5" y1="540.95" x2="466.5" y2="688.1" stroke-dasharray="1.8 6.8" stroke-dashoffset="7.9"/><line x1="592.9" y1="540.95" x2="592.9" y2="688.1" stroke-dasharray="1.8 6.8" stroke-dashoffset="7.9"/><line x1="720.0" y1="540.95" x2="720.0" y2="688.1" stroke-dasharray="1.8 6.8" stroke-dashoffset="7.9"/><line x1="84.0" y1="576.5" x2="847.7" y2="576.5" stroke-dasharray="1.8 6.85" stroke-dashoffset="0.5"/><line x1="84.0" y1="613.8" x2="847.7" y2="613.8" stroke-dasharray="1.8 6.85" stroke-dashoffset="0.5"/><line x1="84.0" y1="651.2" x2="847.7" y2="651.2" stroke-dasharray="1.8 6.85" stroke-dashoffset="0.5"/></g>
<g stroke="#000" stroke-width="2" fill="none"><line x1="76.0" y1="540.95" x2="856.5" y2="540.95"/><line x1="76.0" y1="688.1" x2="856.5" y2="688.1"/><line x1="84.0" y1="532.5500000000001" x2="84.0" y2="696.1"/><line x1="847.7" y1="532.5500000000001" x2="847.7" y2="696.1"/><line x1="212.0" y1="540.95" x2="212.0" y2="532.75"/><line x1="212.0" y1="688.1" x2="212.0" y2="695.9"/><line x1="339.1" y1="540.95" x2="339.1" y2="532.75"/><line x1="339.1" y1="688.1" x2="339.1" y2="695.9"/><line x1="467.0" y1="540.95" x2="467.0" y2="532.75"/><line x1="467.0" y1="688.1" x2="467.0" y2="695.9"/><line x1="593.4" y1="540.95" x2="593.4" y2="532.75"/><line x1="593.4" y1="688.1" x2="593.4" y2="695.9"/><line x1="720.5" y1="540.95" x2="720.5" y2="532.75"/><line x1="720.5" y1="688.1" x2="720.5" y2="695.9"/><line x1="109.6" y1="540.95" x2="109.6" y2="536.75"/><line x1="109.6" y1="688.1" x2="109.6" y2="692.1"/><line x1="135.2" y1="540.95" x2="135.2" y2="536.75"/><line x1="135.2" y1="688.1" x2="135.2" y2="692.1"/><line x1="160.8" y1="540.95" x2="160.8" y2="536.75"/><line x1="160.8" y1="688.1" x2="160.8" y2="692.1"/><line x1="186.4" y1="540.95" x2="186.4" y2="536.75"/><line x1="186.4" y1="688.1" x2="186.4" y2="692.1"/><line x1="237.4" y1="540.95" x2="237.4" y2="536.75"/><line x1="237.4" y1="688.1" x2="237.4" y2="692.1"/><line x1="262.8" y1="540.95" x2="262.8" y2="536.75"/><line x1="262.8" y1="688.1" x2="262.8" y2="692.1"/><line x1="288.3" y1="540.95" x2="288.3" y2="536.75"/><line x1="288.3" y1="688.1" x2="288.3" y2="692.1"/><line x1="313.7" y1="540.95" x2="313.7" y2="536.75"/><line x1="313.7" y1="688.1" x2="313.7" y2="692.1"/><line x1="364.7" y1="540.95" x2="364.7" y2="536.75"/><line x1="364.7" y1="688.1" x2="364.7" y2="692.1"/><line x1="390.3" y1="540.95" x2="390.3" y2="536.75"/><line x1="390.3" y1="688.1" x2="390.3" y2="692.1"/><line x1="415.8" y1="540.95" x2="415.8" y2="536.75"/><line x1="415.8" y1="688.1" x2="415.8" y2="692.1"/><line x1="441.4" y1="540.95" x2="441.4" y2="536.75"/><line x1="441.4" y1="688.1" x2="441.4" y2="692.1"/><line x1="492.3" y1="540.95" x2="492.3" y2="536.75"/><line x1="492.3" y1="688.1" x2="492.3" y2="692.1"/><line x1="517.6" y1="540.95" x2="517.6" y2="536.75"/><line x1="517.6" y1="688.1" x2="517.6" y2="692.1"/><line x1="542.8" y1="540.95" x2="542.8" y2="536.75"/><line x1="542.8" y1="688.1" x2="542.8" y2="692.1"/><line x1="568.1" y1="540.95" x2="568.1" y2="536.75"/><line x1="568.1" y1="688.1" x2="568.1" y2="692.1"/><line x1="618.8" y1="540.95" x2="618.8" y2="536.75"/><line x1="618.8" y1="688.1" x2="618.8" y2="692.1"/><line x1="644.2" y1="540.95" x2="644.2" y2="536.75"/><line x1="644.2" y1="688.1" x2="644.2" y2="692.1"/><line x1="669.7" y1="540.95" x2="669.7" y2="536.75"/><line x1="669.7" y1="688.1" x2="669.7" y2="692.1"/><line x1="695.1" y1="540.95" x2="695.1" y2="536.75"/><line x1="695.1" y1="688.1" x2="695.1" y2="692.1"/><line x1="745.9" y1="540.95" x2="745.9" y2="536.75"/><line x1="745.9" y1="688.1" x2="745.9" y2="692.1"/><line x1="771.4" y1="540.95" x2="771.4" y2="536.75"/><line x1="771.4" y1="688.1" x2="771.4" y2="692.1"/><line x1="796.8" y1="540.95" x2="796.8" y2="536.75"/><line x1="796.8" y1="688.1" x2="796.8" y2="692.1"/><line x1="822.3" y1="540.95" x2="822.3" y2="536.75"/><line x1="822.3" y1="688.1" x2="822.3" y2="692.1"/><line x1="84.0" y1="576.9" x2="77.0" y2="576.9"/><line x1="847.7" y1="576.9" x2="856.5" y2="576.9"/><line x1="84.0" y1="614.1" x2="77.0" y2="614.1"/><line x1="847.7" y1="614.1" x2="856.5" y2="614.1"/><line x1="84.0" y1="651.6" x2="77.0" y2="651.6"/><line x1="847.7" y1="651.6" x2="856.5" y2="651.6"/><line x1="84.0" y1="558.9" x2="80.0" y2="558.9"/><line x1="847.7" y1="558.9" x2="851.7" y2="558.9"/><line x1="84.0" y1="595.5" x2="80.0" y2="595.5"/><line x1="847.7" y1="595.5" x2="851.7" y2="595.5"/><line x1="84.0" y1="632.9" x2="80.0" y2="632.9"/><line x1="847.7" y1="632.9" x2="851.7" y2="632.9"/><line x1="84.0" y1="669.9" x2="80.0" y2="669.9"/><line x1="847.7" y1="669.9" x2="851.7" y2="669.9"/></g>
<defs><clipPath id="cc"><polygon points="478.0,539.9 576.0,539.9 576.0,542.1 585.0,542.1 585.0,539.9 687.4,539.9 687.4,562.4 683.7,562.4 683.7,594.3 683.0,598.3 680.0,601.2 675.0,600.7 670.0,601.7 660.0,602.2 650.0,603.2 640.0,603.2 630.0,604.2 620.0,604.7 615.0,605.7 610.0,604.2 602.0,603.7 598.0,605.7 595.0,610.2 594.0,611.7 589.0,613.0 585.0,610.0 581.0,605.8 581.0,563.4 576.8,563.4 576.8,612.6 575.0,614.2 570.0,615.9 565.0,617.6 560.0,618.5 555.0,619.3 550.0,621.7 545.0,625.1 541.0,629.3 537.0,635.1 533.4,635.6 530.0,633.4 528.5,632.4 528.0,634.0 526.0,638.4 524.0,640.6 521.0,641.9 517.0,643.6 513.0,645.5 509.0,647.5 506.0,649.5 503.0,652.5 501.0,654.2 498.0,656.5 495.0,658.7 493.0,662.4 491.0,663.7 487.0,665.7 482.3,667.0 481.6,587.8 478.0,587.8"/></clipPath><linearGradient id="c0" gradientUnits="userSpaceOnUse" x1="0" y1="538.9" x2="0" y2="668.0"><stop offset="0.000" stop-color="#ff2e00"/><stop offset="0.286" stop-color="#ff5000"/><stop offset="0.379" stop-color="#ff6b00"/><stop offset="0.999" stop-color="#ff6b00"/></linearGradient><linearGradient id="c1" gradientUnits="userSpaceOnUse" x1="0" y1="538.9" x2="0" y2="668.0"><stop offset="0.000" stop-color="#ff2e00"/><stop offset="0.286" stop-color="#ff5100"/><stop offset="0.387" stop-color="#ff7300"/><stop offset="0.503" stop-color="#ff8b00"/><stop offset="0.596" stop-color="#ffad00"/><stop offset="0.650" stop-color="#ffc500"/><stop offset="0.743" stop-color="#ffd700"/><stop offset="0.999" stop-color="#ffe000"/></linearGradient><linearGradient id="c2" gradientUnits="userSpaceOnUse" x1="0" y1="538.9" x2="0" y2="668.0"><stop offset="0.000" stop-color="#ff2e00"/><stop offset="0.279" stop-color="#ff4e00"/><stop offset="0.480" stop-color="#ffb600"/><stop offset="0.557" stop-color="#fcff03"/><stop offset="0.581" stop-color="#e3ff1c"/><stop offset="0.635" stop-color="#92ff6d"/><stop offset="0.720" stop-color="#57ffa8"/><stop offset="0.805" stop-color="#41ffbe"/><stop offset="0.999" stop-color="#33ffcc"/></linearGradient><linearGradient id="c3" gradientUnits="userSpaceOnUse" x1="0" y1="538.9" x2="0" y2="668.0"><stop offset="0.000" stop-color="#ff2e00"/><stop offset="0.279" stop-color="#ff4e00"/><stop offset="0.387" stop-color="#ff8d00"/><stop offset="0.480" stop-color="#ffcf00"/><stop offset="0.519" stop-color="#feff01"/><stop offset="0.573" stop-color="#b6ff49"/><stop offset="0.635" stop-color="#3cffc3"/><stop offset="0.697" stop-color="#01fffe"/><stop offset="0.720" stop-color="#00edff"/><stop offset="0.798" stop-color="#00d0ff"/><stop offset="0.999" stop-color="#00bdff"/></linearGradient><linearGradient id="c4" gradientUnits="userSpaceOnUse" x1="0" y1="538.9" x2="0" y2="668.0"><stop offset="0.000" stop-color="#ff2e00"/><stop offset="0.279" stop-color="#ff4e00"/><stop offset="0.387" stop-color="#ff8d00"/><stop offset="0.480" stop-color="#ffcf00"/><stop offset="0.519" stop-color="#feff01"/><stop offset="0.573" stop-color="#b6ff49"/><stop offset="0.635" stop-color="#3cffc3"/><stop offset="0.697" stop-color="#01fffe"/><stop offset="0.720" stop-color="#00edff"/><stop offset="0.798" stop-color="#00d0ff"/><stop offset="0.999" stop-color="#00bdff"/></linearGradient><linearGradient id="c5" gradientUnits="userSpaceOnUse" x1="0" y1="538.9" x2="0" y2="668.0"><stop offset="0.000" stop-color="#ff2e00"/><stop offset="0.279" stop-color="#ff4e00"/><stop offset="0.387" stop-color="#ff8d00"/><stop offset="0.480" stop-color="#ffcf00"/><stop offset="0.519" stop-color="#feff01"/><stop offset="0.573" stop-color="#b6ff49"/><stop offset="0.635" stop-color="#3cffc3"/><stop offset="0.697" stop-color="#01fffe"/><stop offset="0.720" stop-color="#00edff"/><stop offset="0.798" stop-color="#00d0ff"/><stop offset="0.999" stop-color="#00bdff"/></linearGradient><linearGradient id="c6" gradientUnits="userSpaceOnUse" x1="0" y1="538.9" x2="0" y2="668.0"><stop offset="0.000" stop-color="#ff2e00"/><stop offset="0.279" stop-color="#ff4e00"/><stop offset="0.387" stop-color="#ff8d00"/><stop offset="0.480" stop-color="#ffcf00"/><stop offset="0.519" stop-color="#feff01"/><stop offset="0.573" stop-color="#b6ff49"/><stop offset="0.635" stop-color="#3cffc3"/><stop offset="0.697" stop-color="#01fffe"/><stop offset="0.720" stop-color="#00edff"/><stop offset="0.798" stop-color="#00d0ff"/><stop offset="0.999" stop-color="#00bdff"/></linearGradient><linearGradient id="c7" gradientUnits="userSpaceOnUse" x1="0" y1="538.9" x2="0" y2="668.0"><stop offset="0.000" stop-color="#ff2e00"/><stop offset="0.279" stop-color="#ff4e00"/><stop offset="0.387" stop-color="#ff8d00"/><stop offset="0.480" stop-color="#ffcf00"/><stop offset="0.519" stop-color="#feff01"/><stop offset="0.573" stop-color="#b6ff49"/><stop offset="0.635" stop-color="#3cffc3"/><stop offset="0.697" stop-color="#01fffe"/><stop offset="0.720" stop-color="#00edff"/><stop offset="0.798" stop-color="#00d0ff"/><stop offset="0.983" stop-color="#00bdff"/><stop offset="0.999" stop-color="#00bdff"/></linearGradient><linearGradient id="c8" gradientUnits="userSpaceOnUse" x1="0" y1="538.9" x2="0" y2="668.0"><stop offset="0.000" stop-color="#ff2e00"/><stop offset="0.279" stop-color="#ff4e00"/><stop offset="0.387" stop-color="#ff8d00"/><stop offset="0.480" stop-color="#ffcf00"/><stop offset="0.519" stop-color="#feff01"/><stop offset="0.573" stop-color="#b6ff49"/><stop offset="0.635" stop-color="#3cffc3"/><stop offset="0.697" stop-color="#01fffe"/><stop offset="0.720" stop-color="#00edff"/><stop offset="0.798" stop-color="#00d0ff"/><stop offset="0.968" stop-color="#00beff"/><stop offset="0.999" stop-color="#00bdff"/></linearGradient><linearGradient id="c9" gradientUnits="userSpaceOnUse" x1="0" y1="538.9" x2="0" y2="668.0"><stop offset="0.000" stop-color="#ff2e00"/><stop offset="0.279" stop-color="#ff4e00"/><stop offset="0.387" stop-color="#ff8d00"/><stop offset="0.480" stop-color="#ffcf00"/><stop offset="0.519" stop-color="#feff01"/><stop offset="0.573" stop-color="#b6ff49"/><stop offset="0.635" stop-color="#3cffc3"/><stop offset="0.697" stop-color="#01fffe"/><stop offset="0.720" stop-color="#00edff"/><stop offset="0.798" stop-color="#00d0ff"/><stop offset="0.960" stop-color="#00beff"/><stop offset="0.999" stop-color="#00bdff"/></linearGradient><linearGradient id="c10" gradientUnits="userSpaceOnUse" x1="0" y1="538.9" x2="0" y2="668.0"><stop offset="0.000" stop-color="#ff2e00"/><stop offset="0.279" stop-color="#ff4e00"/><stop offset="0.387" stop-color="#ff8d00"/><stop offset="0.480" stop-color="#ffcf00"/><stop offset="0.519" stop-color="#feff01"/><stop offset="0.573" stop-color="#b6ff49"/><stop offset="0.635" stop-color="#3cffc3"/><stop offset="0.697" stop-color="#01fffe"/><stop offset="0.720" stop-color="#00edff"/><stop offset="0.805" stop-color="#00cfff"/><stop offset="0.960" stop-color="#00bdff"/><stop offset="0.999" stop-color="#00bdff"/></linearGradient><linearGradient id="c11" gradientUnits="userSpaceOnUse" x1="0" y1="538.9" x2="0" y2="668.0"><stop offset="0.000" stop-color="#ff2e00"/><stop offset="0.279" stop-color="#ff4e00"/><stop offset="0.387" stop-color="#ff8d00"/><stop offset="0.480" stop-color="#ffcf00"/><stop offset="0.519" stop-color="#feff01"/><stop offset="0.573" stop-color="#b6ff49"/><stop offset="0.635" stop-color="#3cffc3"/><stop offset="0.697" stop-color="#01fffe"/><stop offset="0.720" stop-color="#00edff"/><stop offset="0.805" stop-color="#00cfff"/><stop offset="0.952" stop-color="#00bdff"/><stop offset="0.999" stop-color="#00bdff"/></linearGradient><linearGradient id="c12" gradientUnits="userSpaceOnUse" x1="0" y1="538.9" x2="0" y2="668.0"><stop offset="0.000" stop-color="#ff2e00"/><stop offset="0.279" stop-color="#ff4f00"/><stop offset="0.395" stop-color="#ff9300"/><stop offset="0.480" stop-color="#ffd000"/><stop offset="0.511" stop-color="#fff800"/><stop offset="0.519" stop-color="#fbff04"/><stop offset="0.581" stop-color="#9aff65"/><stop offset="0.635" stop-color="#35ffca"/><stop offset="0.689" stop-color="#04fffb"/><stop offset="0.720" stop-color="#00ebff"/><stop offset="0.805" stop-color="#00ceff"/><stop offset="0.952" stop-color="#00bdff"/><stop offset="0.999" stop-color="#00bdff"/></linearGradient><linearGradient id="c13" gradientUnits="userSpaceOnUse" x1="0" y1="538.9" x2="0" y2="668.0"><stop offset="0.000" stop-color="#ff2e00"/><stop offset="0.279" stop-color="#ff4f00"/><stop offset="0.426" stop-color="#ffaa00"/><stop offset="0.488" stop-color="#ffdc00"/><stop offset="0.511" stop-color="#fffd00"/><stop offset="0.527" stop-color="#e8ff17"/><stop offset="0.581" stop-color="#7cff83"/><stop offset="0.635" stop-color="#26ffd9"/><stop offset="0.674" stop-color="#06fff9"/><stop offset="0.689" stop-color="#00fbff"/><stop offset="0.728" stop-color="#00e5ff"/><stop offset="0.813" stop-color="#00ccff"/><stop offset="0.945" stop-color="#00bdff"/><stop offset="0.999" stop-color="#00bdff"/></linearGradient><linearGradient id="c14" gradientUnits="userSpaceOnUse" x1="0" y1="538.9" x2="0" y2="668.0"><stop offset="0.000" stop-color="#ff2e00"/><stop offset="0.279" stop-color="#ff4f00"/><stop offset="0.449" stop-color="#ffbe00"/><stop offset="0.488" stop-color="#ffdf00"/><stop offset="0.511" stop-color="#fdff02"/><stop offset="0.527" stop-color="#e1ff1e"/><stop offset="0.573" stop-color="#6cff93"/><stop offset="0.643" stop-color="#0ffff0"/><stop offset="0.666" stop-color="#00feff"/><stop offset="0.736" stop-color="#00dfff"/><stop offset="0.828" stop-color="#00c8ff"/><stop offset="0.929" stop-color="#00bdff"/><stop offset="0.999" stop-color="#00bdff"/></linearGradient><linearGradient id="c15" gradientUnits="userSpaceOnUse" x1="0" y1="538.9" x2="0" y2="668.0"><stop offset="0.000" stop-color="#ff2e00"/><stop offset="0.279" stop-color="#ff4f00"/><stop offset="0.465" stop-color="#ffcc00"/><stop offset="0.488" stop-color="#ffe100"/><stop offset="0.503" stop-color="#fff900"/><stop offset="0.519" stop-color="#ecff13"/><stop offset="0.550" stop-color="#94ff6b"/><stop offset="0.573" stop-color="#4fffb0"/><stop offset="0.588" stop-color="#3affc5"/><stop offset="0.643" stop-color="#01fffe"/><stop offset="0.681" stop-color="#00edff"/><stop offset="0.805" stop-color="#00cbff"/><stop offset="0.906" stop-color="#00bdff"/><stop offset="0.999" stop-color="#00bdff"/></linearGradient><linearGradient id="c16" gradientUnits="userSpaceOnUse" x1="0" y1="538.9" x2="0" y2="668.0"><stop offset="0.000" stop-color="#ff2f00"/><stop offset="0.271" stop-color="#ff5000"/><stop offset="0.465" stop-color="#ffd000"/><stop offset="0.488" stop-color="#ffe500"/><stop offset="0.503" stop-color="#fffd00"/><stop offset="0.519" stop-color="#e8ff17"/><stop offset="0.542" stop-color="#a6ff59"/><stop offset="0.573" stop-color="#44ffbb"/><stop offset="0.588" stop-color="#2dffd2"/><stop offset="0.635" stop-color="#01fffe"/><stop offset="0.658" stop-color="#00eeff"/><stop offset="0.813" stop-color="#00c8ff"/><stop offset="0.906" stop-color="#00bdff"/><stop offset="0.999" stop-color="#00bdff"/></linearGradient><linearGradient id="c17" gradientUnits="userSpaceOnUse" x1="0" y1="538.9" x2="0" y2="668.0"><stop offset="0.000" stop-color="#ff3100"/><stop offset="0.256" stop-color="#ff5300"/><stop offset="0.294" stop-color="#ff6300"/><stop offset="0.480" stop-color="#ffe000"/><stop offset="0.503" stop-color="#fcff03"/><stop offset="0.519" stop-color="#e4ff1b"/><stop offset="0.550" stop-color="#93ff6c"/><stop offset="0.573" stop-color="#4bffb4"/><stop offset="0.588" stop-color="#2fffd0"/><stop offset="0.635" stop-color="#02fffd"/><stop offset="0.674" stop-color="#00e8ff"/><stop offset="0.821" stop-color="#00c4ff"/><stop offset="0.921" stop-color="#00bdff"/><stop offset="0.999" stop-color="#00bdff"/></linearGradient><linearGradient id="c18" gradientUnits="userSpaceOnUse" x1="0" y1="538.9" x2="0" y2="668.0"><stop offset="0.000" stop-color="#ff3400"/><stop offset="0.240" stop-color="#ff5400"/><stop offset="0.294" stop-color="#ff6a00"/><stop offset="0.372" stop-color="#ff9e00"/><stop offset="0.480" stop-color="#ffe500"/><stop offset="0.496" stop-color="#fffa00"/><stop offset="0.511" stop-color="#ecff13"/><stop offset="0.527" stop-color="#d1ff2e"/><stop offset="0.550" stop-color="#99ff66"/><stop offset="0.573" stop-color="#53ffac"/><stop offset="0.588" stop-color="#31ffce"/><stop offset="0.635" stop-color="#03fffc"/><stop offset="0.674" stop-color="#00e7ff"/><stop offset="0.821" stop-color="#00c2ff"/><stop offset="0.983" stop-color="#00bdff"/><stop offset="0.999" stop-color="#00bdff"/></linearGradient><linearGradient id="c19" gradientUnits="userSpaceOnUse" x1="0" y1="538.9" x2="0" y2="668.0"><stop offset="0.000" stop-color="#ff3600"/><stop offset="0.232" stop-color="#ff5500"/><stop offset="0.325" stop-color="#ff8200"/><stop offset="0.426" stop-color="#ffca00"/><stop offset="0.480" stop-color="#ffe900"/><stop offset="0.496" stop-color="#fffe00"/><stop offset="0.527" stop-color="#cfff30"/><stop offset="0.542" stop-color="#b2ff4d"/><stop offset="0.581" stop-color="#46ffb9"/><stop offset="0.588" stop-color="#33ffcc"/><stop offset="0.627" stop-color="#0bfff4"/><stop offset="0.643" stop-color="#00fcff"/><stop offset="0.674" stop-color="#00e5ff"/><stop offset="0.813" stop-color="#00bfff"/><stop offset="0.999" stop-color="#00bdff"/></linearGradient><linearGradient id="c20" gradientUnits="userSpaceOnUse" x1="0" y1="538.9" x2="0" y2="668.0"><stop offset="0.000" stop-color="#ff3800"/><stop offset="0.232" stop-color="#ff5800"/><stop offset="0.341" stop-color="#ff9300"/><stop offset="0.418" stop-color="#ffcd00"/><stop offset="0.480" stop-color="#ffee00"/><stop offset="0.496" stop-color="#fcff03"/><stop offset="0.542" stop-color="#b6ff49"/><stop offset="0.581" stop-color="#4bffb4"/><stop offset="0.588" stop-color="#35ffca"/><stop offset="0.604" stop-color="#22ffdd"/><stop offset="0.643" stop-color="#00fdff"/><stop offset="0.674" stop-color="#00e4ff"/><stop offset="0.813" stop-color="#00bdff"/><stop offset="0.999" stop-color="#00bdff"/></linearGradient><linearGradient id="c21" gradientUnits="userSpaceOnUse" x1="0" y1="538.9" x2="0" y2="668.0"><stop offset="0.000" stop-color="#ff3500"/><stop offset="0.240" stop-color="#ff5600"/><stop offset="0.325" stop-color="#ff7e00"/><stop offset="0.449" stop-color="#ffd300"/><stop offset="0.488" stop-color="#fff500"/><stop offset="0.496" stop-color="#feff01"/><stop offset="0.527" stop-color="#cdff32"/><stop offset="0.542" stop-color="#afff50"/><stop offset="0.581" stop-color="#46ffb9"/><stop offset="0.588" stop-color="#34ffcb"/><stop offset="0.635" stop-color="#02fffd"/><stop offset="0.674" stop-color="#00e2ff"/><stop offset="0.813" stop-color="#00bdff"/><stop offset="0.999" stop-color="#00bdff"/></linearGradient><linearGradient id="c22" gradientUnits="userSpaceOnUse" x1="0" y1="538.9" x2="0" y2="668.0"><stop offset="0.000" stop-color="#ff3100"/><stop offset="0.256" stop-color="#ff5300"/><stop offset="0.302" stop-color="#ff6600"/><stop offset="0.403" stop-color="#ffa800"/><stop offset="0.465" stop-color="#ffd600"/><stop offset="0.496" stop-color="#fffe00"/><stop offset="0.519" stop-color="#ddff22"/><stop offset="0.550" stop-color="#94ff6b"/><stop offset="0.573" stop-color="#51ffae"/><stop offset="0.588" stop-color="#34ffcb"/><stop offset="0.635" stop-color="#00feff"/><stop offset="0.658" stop-color="#00e7ff"/><stop offset="0.805" stop-color="#00bdff"/><stop offset="0.999" stop-color="#00bdff"/></linearGradient><linearGradient id="c23" gradientUnits="userSpaceOnUse" x1="0" y1="538.9" x2="0" y2="668.0"><stop offset="0.000" stop-color="#ff2e00"/><stop offset="0.279" stop-color="#ff4f00"/><stop offset="0.395" stop-color="#ff9300"/><stop offset="0.465" stop-color="#ffce00"/><stop offset="0.496" stop-color="#fffc00"/><stop offset="0.519" stop-color="#dfff20"/><stop offset="0.550" stop-color="#8bff74"/><stop offset="0.573" stop-color="#49ffb6"/><stop offset="0.596" stop-color="#2affd5"/><stop offset="0.627" stop-color="#05fffa"/><stop offset="0.643" stop-color="#00f1ff"/><stop offset="0.658" stop-color="#00e4ff"/><stop offset="0.798" stop-color="#00bdff"/><stop offset="0.999" stop-color="#00bdff"/></linearGradient><linearGradient id="c24" gradientUnits="userSpaceOnUse" x1="0" y1="538.9" x2="0" y2="668.0"><stop offset="0.000" stop-color="#ff2e00"/><stop offset="0.279" stop-color="#ff4e00"/><stop offset="0.395" stop-color="#ff8c00"/><stop offset="0.465" stop-color="#ffc700"/><stop offset="0.496" stop-color="#fff700"/><stop offset="0.503" stop-color="#fbff04"/><stop offset="0.519" stop-color="#e3ff1c"/><stop offset="0.542" stop-color="#a7ff58"/><stop offset="0.573" stop-color="#50ffaf"/><stop offset="0.596" stop-color="#2cffd3"/><stop offset="0.635" stop-color="#00ffff"/><stop offset="0.658" stop-color="#00e9ff"/><stop offset="0.790" stop-color="#00c2ff"/><stop offset="0.999" stop-color="#00c1ff"/></linearGradient><linearGradient id="c25" gradientUnits="userSpaceOnUse" x1="0" y1="538.9" x2="0" y2="668.0"><stop offset="0.000" stop-color="#ff2e00"/><stop offset="0.286" stop-color="#ff4f00"/><stop offset="0.395" stop-color="#ff8500"/><stop offset="0.465" stop-color="#ffc000"/><stop offset="0.503" stop-color="#ffff00"/><stop offset="0.527" stop-color="#d6ff29"/><stop offset="0.573" stop-color="#57ffa8"/><stop offset="0.588" stop-color="#38ffc7"/><stop offset="0.635" stop-color="#04fffb"/><stop offset="0.658" stop-color="#00edff"/><stop offset="0.759" stop-color="#00cbff"/><stop offset="0.836" stop-color="#00c6ff"/><stop offset="0.999" stop-color="#00c6ff"/></linearGradient><linearGradient id="c26" gradientUnits="userSpaceOnUse" x1="0" y1="538.9" x2="0" y2="668.0"><stop offset="0.000" stop-color="#ff2e00"/><stop offset="0.294" stop-color="#ff4f00"/><stop offset="0.403" stop-color="#ff8400"/><stop offset="0.465" stop-color="#ffba00"/><stop offset="0.503" stop-color="#fffa00"/><stop offset="0.519" stop-color="#e9ff16"/><stop offset="0.534" stop-color="#c7ff38"/><stop offset="0.581" stop-color="#4bffb4"/><stop offset="0.588" stop-color="#3bffc4"/><stop offset="0.643" stop-color="#01fffe"/><stop offset="0.674" stop-color="#00e9ff"/><stop offset="0.759" stop-color="#00cdff"/><stop offset="0.999" stop-color="#00caff"/></linearGradient><linearGradient id="c27" gradientUnits="userSpaceOnUse" x1="0" y1="538.9" x2="0" y2="668.0"><stop offset="0.000" stop-color="#ff2e00"/><stop offset="0.310" stop-color="#ff5000"/><stop offset="0.403" stop-color="#ff7d00"/><stop offset="0.465" stop-color="#ffb300"/><stop offset="0.503" stop-color="#fff600"/><stop offset="0.511" stop-color="#fbff04"/><stop offset="0.534" stop-color="#ccff33"/><stop offset="0.588" stop-color="#3dffc2"/><stop offset="0.627" stop-color="#15ffea"/><stop offset="0.650" stop-color="#00fdff"/><stop offset="0.674" stop-color="#00ecff"/><stop offset="0.751" stop-color="#00d0ff"/><stop offset="0.999" stop-color="#00cfff"/></linearGradient><linearGradient id="c28" gradientUnits="userSpaceOnUse" x1="0" y1="538.9" x2="0" y2="668.0"><stop offset="0.000" stop-color="#ff2e00"/><stop offset="0.310" stop-color="#ff4e00"/><stop offset="0.403" stop-color="#ff7600"/><stop offset="0.465" stop-color="#ffab00"/><stop offset="0.511" stop-color="#fffa00"/><stop offset="0.527" stop-color="#e7ff18"/><stop offset="0.588" stop-color="#49ffb6"/><stop offset="0.612" stop-color="#30ffcf"/><stop offset="0.666" stop-color="#00ffff"/><stop offset="0.751" stop-color="#00e1ff"/><stop offset="0.999" stop-color="#00e1ff"/></linearGradient><linearGradient id="c29" gradientUnits="userSpaceOnUse" x1="0" y1="538.9" x2="0" y2="668.0"><stop offset="0.000" stop-color="#ff2e00"/><stop offset="0.317" stop-color="#ff4f00"/><stop offset="0.403" stop-color="#ff7000"/><stop offset="0.465" stop-color="#ffa200"/><stop offset="0.519" stop-color="#fffb00"/><stop offset="0.527" stop-color="#f4ff0b"/><stop offset="0.588" stop-color="#5fffa0"/><stop offset="0.627" stop-color="#3bffc4"/><stop offset="0.674" stop-color="#17ffe8"/><stop offset="0.751" stop-color="#01fffe"/><stop offset="0.999" stop-color="#01fffe"/></linearGradient><linearGradient id="c30" gradientUnits="userSpaceOnUse" x1="0" y1="538.9" x2="0" y2="668.0"><stop offset="0.000" stop-color="#ff2e00"/><stop offset="0.317" stop-color="#ff4d00"/><stop offset="0.403" stop-color="#ff6a00"/><stop offset="0.465" stop-color="#ff9900"/><stop offset="0.519" stop-color="#ffed00"/><stop offset="0.527" stop-color="#fffd00"/><stop offset="0.565" stop-color="#a6ff59"/><stop offset="0.588" stop-color="#74ff8b"/><stop offset="0.658" stop-color="#3bffc4"/><stop offset="0.689" stop-color="#2effd1"/><stop offset="0.759" stop-color="#21ffde"/><stop offset="0.999" stop-color="#21ffde"/></linearGradient><linearGradient id="c31" gradientUnits="userSpaceOnUse" x1="0" y1="538.9" x2="0" y2="668.0"><stop offset="0.000" stop-color="#ff2e00"/><stop offset="0.325" stop-color="#ff4e00"/><stop offset="0.395" stop-color="#ff6000"/><stop offset="0.465" stop-color="#ff8f00"/><stop offset="0.511" stop-color="#ffd000"/><stop offset="0.527" stop-color="#fff100"/><stop offset="0.534" stop-color="#faff05"/><stop offset="0.550" stop-color="#d5ff2a"/><stop offset="0.588" stop-color="#8aff75"/><stop offset="0.666" stop-color="#50ffaf"/><stop offset="0.759" stop-color="#40ffbf"/><stop offset="0.999" stop-color="#40ffbf"/></linearGradient><linearGradient id="c32" gradientUnits="userSpaceOnUse" x1="0" y1="538.9" x2="0" y2="668.0"><stop offset="0.000" stop-color="#ff2e00"/><stop offset="0.333" stop-color="#ff4d00"/><stop offset="0.395" stop-color="#ff5a00"/><stop offset="0.472" stop-color="#ff8e00"/><stop offset="0.511" stop-color="#ffc200"/><stop offset="0.534" stop-color="#fff700"/><stop offset="0.542" stop-color="#f2ff0d"/><stop offset="0.588" stop-color="#9fff60"/><stop offset="0.674" stop-color="#68ff97"/><stop offset="0.782" stop-color="#5fffa0"/><stop offset="0.999" stop-color="#5fffa0"/></linearGradient><linearGradient id="c33" gradientUnits="userSpaceOnUse" x1="0" y1="538.9" x2="0" y2="668.0"><stop offset="0.000" stop-color="#ff2e00"/><stop offset="0.372" stop-color="#ff5000"/><stop offset="0.403" stop-color="#ff5900"/><stop offset="0.472" stop-color="#ff8400"/><stop offset="0.511" stop-color="#ffb300"/><stop offset="0.534" stop-color="#ffeb00"/><stop offset="0.542" stop-color="#ffff00"/><stop offset="0.588" stop-color="#b5ff4a"/><stop offset="0.674" stop-color="#83ff7c"/><stop offset="0.914" stop-color="#7fff80"/><stop offset="0.999" stop-color="#7fff80"/></linearGradient><linearGradient id="c34" gradientUnits="userSpaceOnUse" x1="0" y1="538.9" x2="0" y2="668.0"><stop offset="0.000" stop-color="#ff2e00"/><stop offset="0.395" stop-color="#ff4f00"/><stop offset="0.472" stop-color="#ff7a00"/><stop offset="0.511" stop-color="#ffa500"/><stop offset="0.534" stop-color="#ffde00"/><stop offset="0.542" stop-color="#fff300"/><stop offset="0.550" stop-color="#fdff02"/><stop offset="0.588" stop-color="#caff35"/><stop offset="0.674" stop-color="#9eff61"/><stop offset="0.999" stop-color="#9eff61"/></linearGradient><linearGradient id="c35" gradientUnits="userSpaceOnUse" x1="0" y1="538.9" x2="0" y2="668.0"><stop offset="0.000" stop-color="#ff2e00"/><stop offset="0.395" stop-color="#ff4f00"/><stop offset="0.472" stop-color="#ff7a00"/><stop offset="0.511" stop-color="#ffa500"/><stop offset="0.534" stop-color="#ffde00"/><stop offset="0.542" stop-color="#fff300"/><stop offset="0.550" stop-color="#fdff02"/><stop offset="0.588" stop-color="#caff35"/><stop offset="0.666" stop-color="#a2ff5d"/><stop offset="0.999" stop-color="#a1ff5e"/></linearGradient><linearGradient id="c36" gradientUnits="userSpaceOnUse" x1="0" y1="538.9" x2="0" y2="668.0"><stop offset="0.000" stop-color="#ff2e00"/><stop offset="0.395" stop-color="#ff4f00"/><stop offset="0.472" stop-color="#ff7a00"/><stop offset="0.511" stop-color="#ffa500"/><stop offset="0.534" stop-color="#ffde00"/><stop offset="0.542" stop-color="#fff300"/><stop offset="0.550" stop-color="#fdff02"/><stop offset="0.588" stop-color="#caff35"/><stop offset="0.643" stop-color="#adff52"/><stop offset="0.674" stop-color="#a4ff5b"/><stop offset="0.999" stop-color="#a4ff5b"/></linearGradient><linearGradient id="c37" gradientUnits="userSpaceOnUse" x1="0" y1="538.9" x2="0" y2="668.0"><stop offset="0.000" stop-color="#ff2e00"/><stop offset="0.395" stop-color="#ff4f00"/><stop offset="0.472" stop-color="#ff7a00"/><stop offset="0.511" stop-color="#ffa500"/><stop offset="0.534" stop-color="#ffde00"/><stop offset="0.542" stop-color="#fff300"/><stop offset="0.550" stop-color="#fdff02"/><stop offset="0.588" stop-color="#caff35"/><stop offset="0.635" stop-color="#b1ff4e"/><stop offset="0.681" stop-color="#a6ff59"/><stop offset="0.999" stop-color="#a6ff59"/></linearGradient><linearGradient id="c38" gradientUnits="userSpaceOnUse" x1="0" y1="538.9" x2="0" y2="668.0"><stop offset="0.000" stop-color="#ff2e00"/><stop offset="0.395" stop-color="#ff4f00"/><stop offset="0.472" stop-color="#ff7a00"/><stop offset="0.511" stop-color="#ffa500"/><stop offset="0.534" stop-color="#ffde00"/><stop offset="0.542" stop-color="#fff300"/><stop offset="0.550" stop-color="#fdff02"/><stop offset="0.588" stop-color="#caff35"/><stop offset="0.627" stop-color="#b3ff4c"/><stop offset="0.681" stop-color="#a9ff56"/><stop offset="0.999" stop-color="#a9ff56"/></linearGradient><linearGradient id="c39" gradientUnits="userSpaceOnUse" x1="0" y1="538.9" x2="0" y2="668.0"><stop offset="0.000" stop-color="#ff2e00"/><stop offset="0.395" stop-color="#ff4f00"/><stop offset="0.472" stop-color="#ff7a00"/><stop offset="0.511" stop-color="#ffa500"/><stop offset="0.534" stop-color="#ffde00"/><stop offset="0.542" stop-color="#fff300"/><stop offset="0.550" stop-color="#fdff02"/><stop offset="0.588" stop-color="#caff35"/><stop offset="0.627" stop-color="#b3ff4c"/><stop offset="0.697" stop-color="#acff53"/><stop offset="0.999" stop-color="#acff53"/></linearGradient><linearGradient id="c40" gradientUnits="userSpaceOnUse" x1="0" y1="538.9" x2="0" y2="668.0"><stop offset="0.000" stop-color="#ff2e00"/><stop offset="0.395" stop-color="#ff4f00"/><stop offset="0.472" stop-color="#ff7a00"/><stop offset="0.511" stop-color="#ffa500"/><stop offset="0.534" stop-color="#ffde00"/><stop offset="0.542" stop-color="#fff300"/><stop offset="0.550" stop-color="#fdff02"/><stop offset="0.588" stop-color="#caff35"/><stop offset="0.627" stop-color="#b3ff4c"/><stop offset="0.774" stop-color="#aeff51"/><stop offset="0.999" stop-color="#aeff51"/></linearGradient><linearGradient id="c41" gradientUnits="userSpaceOnUse" x1="0" y1="538.9" x2="0" y2="668.0"><stop offset="0.000" stop-color="#ff2e00"/><stop offset="0.395" stop-color="#ff4f00"/><stop offset="0.472" stop-color="#ff7a00"/><stop offset="0.511" stop-color="#ffa500"/><stop offset="0.534" stop-color="#ffde00"/><stop offset="0.542" stop-color="#fff300"/><stop offset="0.550" stop-color="#fdff02"/><stop offset="0.596" stop-color="#c3ff3c"/><stop offset="0.627" stop-color="#b3ff4c"/><stop offset="0.999" stop-color="#b1ff4e"/></linearGradient><linearGradient id="c42" gradientUnits="userSpaceOnUse" x1="0" y1="538.9" x2="0" y2="668.0"><stop offset="0.000" stop-color="#ff2e00"/><stop offset="0.395" stop-color="#ff4f00"/><stop offset="0.472" stop-color="#ff7a00"/><stop offset="0.511" stop-color="#ffa500"/><stop offset="0.534" stop-color="#ffde00"/><stop offset="0.542" stop-color="#fff300"/><stop offset="0.550" stop-color="#fdff02"/><stop offset="0.588" stop-color="#caff35"/><stop offset="0.619" stop-color="#b5ff4a"/><stop offset="0.999" stop-color="#b4ff4b"/></linearGradient><linearGradient id="c43" gradientUnits="userSpaceOnUse" x1="0" y1="538.9" x2="0" y2="668.0"><stop offset="0.000" stop-color="#ff2e00"/><stop offset="0.395" stop-color="#ff4f00"/><stop offset="0.472" stop-color="#ff7a00"/><stop offset="0.511" stop-color="#ffa500"/><stop offset="0.534" stop-color="#ffde00"/><stop offset="0.542" stop-color="#fff300"/><stop offset="0.550" stop-color="#fdff02"/><stop offset="0.588" stop-color="#caff35"/><stop offset="0.627" stop-color="#b6ff49"/><stop offset="0.999" stop-color="#b6ff49"/></linearGradient><linearGradient id="c44" gradientUnits="userSpaceOnUse" x1="0" y1="538.9" x2="0" y2="668.0"><stop offset="0.000" stop-color="#ff2e00"/><stop offset="0.395" stop-color="#ff4f00"/><stop offset="0.472" stop-color="#ff7a00"/><stop offset="0.511" stop-color="#ffa500"/><stop offset="0.534" stop-color="#ffde00"/><stop offset="0.542" stop-color="#fff300"/><stop offset="0.550" stop-color="#fdff02"/><stop offset="0.588" stop-color="#c9ff36"/><stop offset="0.627" stop-color="#b9ff46"/><stop offset="0.999" stop-color="#b9ff46"/></linearGradient><linearGradient id="c45" gradientUnits="userSpaceOnUse" x1="0" y1="538.9" x2="0" y2="668.0"><stop offset="0.000" stop-color="#ff2e00"/><stop offset="0.395" stop-color="#ff4f00"/><stop offset="0.472" stop-color="#ff7a00"/><stop offset="0.511" stop-color="#ffa500"/><stop offset="0.534" stop-color="#ffde00"/><stop offset="0.542" stop-color="#fff300"/><stop offset="0.550" stop-color="#fdff02"/><stop offset="0.588" stop-color="#c9ff36"/><stop offset="0.627" stop-color="#bbff44"/><stop offset="0.999" stop-color="#bbff44"/></linearGradient><linearGradient id="c46" gradientUnits="userSpaceOnUse" x1="0" y1="538.9" x2="0" y2="668.0"><stop offset="0.000" stop-color="#ff2e00"/><stop offset="0.395" stop-color="#ff4f00"/><stop offset="0.472" stop-color="#ff7a00"/><stop offset="0.511" stop-color="#ffa500"/><stop offset="0.534" stop-color="#ffde00"/><stop offset="0.542" stop-color="#fff300"/><stop offset="0.550" stop-color="#fdff02"/><stop offset="0.581" stop-color="#cfff30"/><stop offset="0.604" stop-color="#c3ff3c"/><stop offset="0.650" stop-color="#bdff42"/><stop offset="0.999" stop-color="#bdff42"/></linearGradient><linearGradient id="c47" gradientUnits="userSpaceOnUse" x1="0" y1="538.9" x2="0" y2="668.0"><stop offset="0.000" stop-color="#ff2e00"/><stop offset="0.395" stop-color="#ff4f00"/><stop offset="0.472" stop-color="#ff7a00"/><stop offset="0.511" stop-color="#ffa500"/><stop offset="0.534" stop-color="#ffde00"/><stop offset="0.542" stop-color="#fff300"/><stop offset="0.550" stop-color="#fdff02"/><stop offset="0.581" stop-color="#ceff31"/><stop offset="0.604" stop-color="#c4ff3b"/><stop offset="0.681" stop-color="#c0ff3f"/><stop offset="0.999" stop-color="#c0ff3f"/></linearGradient><linearGradient id="c48" gradientUnits="userSpaceOnUse" x1="0" y1="538.9" x2="0" y2="668.0"><stop offset="0.000" stop-color="#ff2e00"/><stop offset="0.395" stop-color="#ff4f00"/><stop offset="0.472" stop-color="#ff7a00"/><stop offset="0.511" stop-color="#ffa500"/><stop offset="0.534" stop-color="#ffde00"/><stop offset="0.542" stop-color="#fff300"/><stop offset="0.550" stop-color="#fcff03"/><stop offset="0.581" stop-color="#cdff32"/><stop offset="0.604" stop-color="#c5ff3a"/><stop offset="0.999" stop-color="#c2ff3d"/></linearGradient><linearGradient id="c49" gradientUnits="userSpaceOnUse" x1="0" y1="538.9" x2="0" y2="668.0"><stop offset="0.000" stop-color="#ff2e00"/><stop offset="0.395" stop-color="#ff4f00"/><stop offset="0.472" stop-color="#ff7a00"/><stop offset="0.511" stop-color="#ffa500"/><stop offset="0.534" stop-color="#ffde00"/><stop offset="0.542" stop-color="#fff300"/><stop offset="0.550" stop-color="#fcff03"/><stop offset="0.581" stop-color="#ccff33"/><stop offset="0.604" stop-color="#c6ff39"/><stop offset="0.999" stop-color="#c4ff3b"/></linearGradient><linearGradient id="c50" gradientUnits="userSpaceOnUse" x1="0" y1="538.9" x2="0" y2="668.0"><stop offset="0.000" stop-color="#ff2e00"/><stop offset="0.395" stop-color="#ff4f00"/><stop offset="0.472" stop-color="#ff7a00"/><stop offset="0.511" stop-color="#ffa500"/><stop offset="0.534" stop-color="#ffde00"/><stop offset="0.542" stop-color="#fff300"/><stop offset="0.550" stop-color="#fcff03"/><stop offset="0.581" stop-color="#cbff34"/><stop offset="0.612" stop-color="#c7ff38"/><stop offset="0.999" stop-color="#c7ff38"/></linearGradient><linearGradient id="c51" gradientUnits="userSpaceOnUse" x1="0" y1="538.9" x2="0" y2="668.0"><stop offset="0.000" stop-color="#ff2e00"/><stop offset="0.256" stop-color="#ff4b00"/><stop offset="0.356" stop-color="#ff6700"/><stop offset="0.387" stop-color="#ff7800"/><stop offset="0.426" stop-color="#ffb000"/><stop offset="0.472" stop-color="#ffde00"/><stop offset="0.519" stop-color="#feff01"/><stop offset="0.550" stop-color="#d5ff2a"/><stop offset="0.581" stop-color="#baff45"/><stop offset="0.999" stop-color="#b8ff47"/></linearGradient><linearGradient id="c52" gradientUnits="userSpaceOnUse" x1="0" y1="538.9" x2="0" y2="668.0"><stop offset="0.000" stop-color="#ff2e00"/><stop offset="0.240" stop-color="#ff4e00"/><stop offset="0.356" stop-color="#ff8400"/><stop offset="0.387" stop-color="#ffa500"/><stop offset="0.403" stop-color="#ffc800"/><stop offset="0.418" stop-color="#fff100"/><stop offset="0.426" stop-color="#fdff02"/><stop offset="0.465" stop-color="#c1ff3e"/><stop offset="0.488" stop-color="#b9ff46"/><stop offset="0.588" stop-color="#a8ff57"/><stop offset="0.999" stop-color="#a8ff57"/></linearGradient><linearGradient id="c53" gradientUnits="userSpaceOnUse" x1="0" y1="538.9" x2="0" y2="668.0"><stop offset="0.000" stop-color="#ff2e00"/><stop offset="0.240" stop-color="#ff4e00"/><stop offset="0.356" stop-color="#ff8500"/><stop offset="0.387" stop-color="#ffa600"/><stop offset="0.403" stop-color="#ffca00"/><stop offset="0.418" stop-color="#fff300"/><stop offset="0.426" stop-color="#fcff03"/><stop offset="0.465" stop-color="#c1ff3e"/><stop offset="0.503" stop-color="#b5ff4a"/><stop offset="0.596" stop-color="#a8ff57"/><stop offset="0.999" stop-color="#a8ff57"/></linearGradient><linearGradient id="c54" gradientUnits="userSpaceOnUse" x1="0" y1="538.9" x2="0" y2="668.0"><stop offset="0.000" stop-color="#ff2e00"/><stop offset="0.240" stop-color="#ff4e00"/><stop offset="0.356" stop-color="#ff8600"/><stop offset="0.387" stop-color="#ffa800"/><stop offset="0.410" stop-color="#ffe100"/><stop offset="0.418" stop-color="#fff400"/><stop offset="0.426" stop-color="#fbff04"/><stop offset="0.465" stop-color="#c0ff3f"/><stop offset="0.534" stop-color="#aeff51"/><stop offset="0.619" stop-color="#a8ff57"/><stop offset="0.999" stop-color="#a8ff57"/></linearGradient><linearGradient id="c55" gradientUnits="userSpaceOnUse" x1="0" y1="538.9" x2="0" y2="668.0"><stop offset="0.000" stop-color="#ff2e00"/><stop offset="0.240" stop-color="#ff4e00"/><stop offset="0.348" stop-color="#ff8000"/><stop offset="0.387" stop-color="#ffa900"/><stop offset="0.418" stop-color="#fff600"/><stop offset="0.426" stop-color="#f9ff06"/><stop offset="0.465" stop-color="#c0ff3f"/><stop offset="0.557" stop-color="#abff54"/><stop offset="0.999" stop-color="#a8ff57"/></linearGradient><linearGradient id="c56" gradientUnits="userSpaceOnUse" x1="0" y1="538.9" x2="0" y2="668.0"><stop offset="0.000" stop-color="#ff2e00"/><stop offset="0.240" stop-color="#ff4e00"/><stop offset="0.348" stop-color="#ff8000"/><stop offset="0.387" stop-color="#ffab00"/><stop offset="0.418" stop-color="#fff800"/><stop offset="0.426" stop-color="#f8ff07"/><stop offset="0.465" stop-color="#bfff40"/><stop offset="0.550" stop-color="#abff54"/><stop offset="0.999" stop-color="#a8ff57"/></linearGradient><linearGradient id="c57" gradientUnits="userSpaceOnUse" x1="0" y1="538.9" x2="0" y2="668.0"><stop offset="0.000" stop-color="#ff2e00"/><stop offset="0.240" stop-color="#ff4e00"/><stop offset="0.348" stop-color="#ff8100"/><stop offset="0.379" stop-color="#ffa100"/><stop offset="0.387" stop-color="#ffac00"/><stop offset="0.418" stop-color="#fff900"/><stop offset="0.434" stop-color="#ebff14"/><stop offset="0.465" stop-color="#beff41"/><stop offset="0.550" stop-color="#abff54"/><stop offset="0.999" stop-color="#a8ff57"/></linearGradient><linearGradient id="c58" gradientUnits="userSpaceOnUse" x1="0" y1="538.9" x2="0" y2="668.0"><stop offset="0.000" stop-color="#ff2e00"/><stop offset="0.240" stop-color="#ff4e00"/><stop offset="0.348" stop-color="#ff8200"/><stop offset="0.379" stop-color="#ffa200"/><stop offset="0.387" stop-color="#ffae00"/><stop offset="0.418" stop-color="#fffb00"/><stop offset="0.441" stop-color="#deff21"/><stop offset="0.465" stop-color="#beff41"/><stop offset="0.542" stop-color="#abff54"/><stop offset="0.999" stop-color="#a8ff57"/></linearGradient><linearGradient id="c59" gradientUnits="userSpaceOnUse" x1="0" y1="538.9" x2="0" y2="668.0"><stop offset="0.000" stop-color="#ff2e00"/><stop offset="0.240" stop-color="#ff4e00"/><stop offset="0.348" stop-color="#ff8200"/><stop offset="0.379" stop-color="#ffa200"/><stop offset="0.395" stop-color="#ffc300"/><stop offset="0.418" stop-color="#fffd00"/><stop offset="0.457" stop-color="#c5ff3a"/><stop offset="0.472" stop-color="#baff45"/><stop offset="0.542" stop-color="#aaff55"/><stop offset="0.999" stop-color="#a8ff57"/></linearGradient><linearGradient id="c60" gradientUnits="userSpaceOnUse" x1="0" y1="538.9" x2="0" y2="668.0"><stop offset="0.000" stop-color="#ff2e00"/><stop offset="0.240" stop-color="#ff4e00"/><stop offset="0.348" stop-color="#ff8300"/><stop offset="0.379" stop-color="#ffa300"/><stop offset="0.395" stop-color="#ffc500"/><stop offset="0.418" stop-color="#fffe00"/><stop offset="0.457" stop-color="#c3ff3c"/><stop offset="0.472" stop-color="#b9ff46"/><stop offset="0.542" stop-color="#a9ff56"/><stop offset="0.999" stop-color="#a8ff57"/></linearGradient><linearGradient id="c61" gradientUnits="userSpaceOnUse" x1="0" y1="538.9" x2="0" y2="668.0"><stop offset="0.000" stop-color="#ff2e00"/><stop offset="0.240" stop-color="#ff4e00"/><stop offset="0.348" stop-color="#ff8300"/><stop offset="0.379" stop-color="#ffa400"/><stop offset="0.395" stop-color="#ffc700"/><stop offset="0.410" stop-color="#fff000"/><stop offset="0.418" stop-color="#feff01"/><stop offset="0.457" stop-color="#c2ff3d"/><stop offset="0.480" stop-color="#b7ff48"/><stop offset="0.542" stop-color="#a9ff56"/><stop offset="0.999" stop-color="#a8ff57"/></linearGradient><linearGradient id="c62" gradientUnits="userSpaceOnUse" x1="0" y1="538.9" x2="0" y2="668.0"><stop offset="0.000" stop-color="#ff2e00"/><stop offset="0.240" stop-color="#ff4f00"/><stop offset="0.348" stop-color="#ff8500"/><stop offset="0.379" stop-color="#ffa800"/><stop offset="0.395" stop-color="#ffcb00"/><stop offset="0.410" stop-color="#fff300"/><stop offset="0.418" stop-color="#fbff04"/><stop offset="0.457" stop-color="#c1ff3e"/><stop offset="0.496" stop-color="#b2ff4d"/><stop offset="0.542" stop-color="#a8ff57"/><stop offset="0.999" stop-color="#a8ff57"/></linearGradient><linearGradient id="c63" gradientUnits="userSpaceOnUse" x1="0" y1="538.9" x2="0" y2="668.0"><stop offset="0.000" stop-color="#ff2e00"/><stop offset="0.240" stop-color="#ff5000"/><stop offset="0.341" stop-color="#ff8200"/><stop offset="0.379" stop-color="#ffb000"/><stop offset="0.403" stop-color="#ffe500"/><stop offset="0.410" stop-color="#fff800"/><stop offset="0.418" stop-color="#f7ff08"/><stop offset="0.457" stop-color="#c0ff3f"/><stop offset="0.527" stop-color="#a9ff56"/><stop offset="0.999" stop-color="#a8ff57"/></linearGradient><linearGradient id="c64" gradientUnits="userSpaceOnUse" x1="0" y1="538.9" x2="0" y2="668.0"><stop offset="0.000" stop-color="#ff2e00"/><stop offset="0.232" stop-color="#ff4f00"/><stop offset="0.333" stop-color="#ff8100"/><stop offset="0.356" stop-color="#ff9600"/><stop offset="0.387" stop-color="#ffc700"/><stop offset="0.410" stop-color="#fffc00"/><stop offset="0.457" stop-color="#bfff40"/><stop offset="0.534" stop-color="#a8ff57"/><stop offset="0.999" stop-color="#a8ff57"/></linearGradient><linearGradient id="c65" gradientUnits="userSpaceOnUse" x1="0" y1="538.9" x2="0" y2="668.0"><stop offset="0.000" stop-color="#ff2e00"/><stop offset="0.232" stop-color="#ff5100"/><stop offset="0.325" stop-color="#ff7e00"/><stop offset="0.348" stop-color="#ff8f00"/><stop offset="0.387" stop-color="#ffce00"/><stop offset="0.410" stop-color="#fdff02"/><stop offset="0.441" stop-color="#cfff30"/><stop offset="0.465" stop-color="#b9ff46"/><stop offset="0.534" stop-color="#a8ff57"/><stop offset="0.999" stop-color="#a8ff57"/></linearGradient><linearGradient id="c66" gradientUnits="userSpaceOnUse" x1="0" y1="538.9" x2="0" y2="668.0"><stop offset="0.000" stop-color="#ff2e00"/><stop offset="0.225" stop-color="#ff5000"/><stop offset="0.325" stop-color="#ff8000"/><stop offset="0.348" stop-color="#ff9200"/><stop offset="0.387" stop-color="#ffd600"/><stop offset="0.403" stop-color="#fff500"/><stop offset="0.410" stop-color="#f9ff06"/><stop offset="0.441" stop-color="#ccff33"/><stop offset="0.465" stop-color="#b9ff46"/><stop offset="0.534" stop-color="#a8ff57"/><stop offset="0.999" stop-color="#a8ff57"/></linearGradient><linearGradient id="c67" gradientUnits="userSpaceOnUse" x1="0" y1="538.9" x2="0" y2="668.0"><stop offset="0.000" stop-color="#ff2e00"/><stop offset="0.217" stop-color="#ff4e00"/><stop offset="0.317" stop-color="#ff7c00"/><stop offset="0.348" stop-color="#ff9600"/><stop offset="0.403" stop-color="#fffb00"/><stop offset="0.434" stop-color="#d1ff2e"/><stop offset="0.465" stop-color="#b8ff47"/><stop offset="0.534" stop-color="#a8ff57"/><stop offset="0.999" stop-color="#a8ff57"/></linearGradient><linearGradient id="c68" gradientUnits="userSpaceOnUse" x1="0" y1="538.9" x2="0" y2="668.0"><stop offset="0.000" stop-color="#ff2e00"/><stop offset="0.217" stop-color="#ff4f00"/><stop offset="0.317" stop-color="#ff7e00"/><stop offset="0.348" stop-color="#ff9900"/><stop offset="0.395" stop-color="#fff300"/><stop offset="0.403" stop-color="#fdff02"/><stop offset="0.434" stop-color="#ceff31"/><stop offset="0.465" stop-color="#b7ff48"/><stop offset="0.534" stop-color="#a8ff57"/><stop offset="0.999" stop-color="#a8ff57"/></linearGradient><linearGradient id="c69" gradientUnits="userSpaceOnUse" x1="0" y1="538.9" x2="0" y2="668.0"><stop offset="0.000" stop-color="#ff2e00"/><stop offset="0.217" stop-color="#ff5000"/><stop offset="0.317" stop-color="#ff7f00"/><stop offset="0.348" stop-color="#ff9c00"/><stop offset="0.372" stop-color="#ffcc00"/><stop offset="0.395" stop-color="#fff900"/><stop offset="0.410" stop-color="#ebff14"/><stop offset="0.441" stop-color="#c3ff3c"/><stop offset="0.488" stop-color="#b1ff4e"/><stop offset="0.542" stop-color="#a8ff57"/><stop offset="0.999" stop-color="#a8ff57"/></linearGradient><linearGradient id="c70" gradientUnits="userSpaceOnUse" x1="0" y1="538.9" x2="0" y2="668.0"><stop offset="0.000" stop-color="#ff2e00"/><stop offset="0.217" stop-color="#ff5100"/><stop offset="0.317" stop-color="#ff8100"/><stop offset="0.348" stop-color="#ffa000"/><stop offset="0.364" stop-color="#ffc000"/><stop offset="0.387" stop-color="#fff400"/><stop offset="0.395" stop-color="#feff01"/><stop offset="0.434" stop-color="#c6ff39"/><stop offset="0.472" stop-color="#b4ff4b"/><stop offset="0.527" stop-color="#a8ff57"/><stop offset="0.999" stop-color="#a8ff57"/></linearGradient><linearGradient id="c71" gradientUnits="userSpaceOnUse" x1="0" y1="538.9" x2="0" y2="668.0"><stop offset="0.000" stop-color="#ff2e00"/><stop offset="0.209" stop-color="#ff4e00"/><stop offset="0.317" stop-color="#ff8300"/><stop offset="0.348" stop-color="#ffa300"/><stop offset="0.364" stop-color="#ffc500"/><stop offset="0.379" stop-color="#ffed00"/><stop offset="0.387" stop-color="#fffc00"/><stop offset="0.434" stop-color="#c3ff3c"/><stop offset="0.480" stop-color="#b2ff4d"/><stop offset="0.534" stop-color="#a8ff57"/><stop offset="0.999" stop-color="#a8ff57"/></linearGradient><linearGradient id="c72" gradientUnits="userSpaceOnUse" x1="0" y1="538.9" x2="0" y2="668.0"><stop offset="0.000" stop-color="#ff2e00"/><stop offset="0.209" stop-color="#ff4e00"/><stop offset="0.317" stop-color="#ff8400"/><stop offset="0.348" stop-color="#ffa600"/><stop offset="0.364" stop-color="#ffc900"/><stop offset="0.379" stop-color="#fff200"/><stop offset="0.387" stop-color="#fdff02"/><stop offset="0.434" stop-color="#c0ff3f"/><stop offset="0.511" stop-color="#a8ff57"/><stop offset="0.999" stop-color="#a7ff58"/></linearGradient><linearGradient id="c73" gradientUnits="userSpaceOnUse" x1="0" y1="538.9" x2="0" y2="668.0"><stop offset="0.000" stop-color="#ff2e00"/><stop offset="0.209" stop-color="#ff4f00"/><stop offset="0.317" stop-color="#ff8600"/><stop offset="0.348" stop-color="#ffa900"/><stop offset="0.364" stop-color="#ffcc00"/><stop offset="0.379" stop-color="#fff400"/><stop offset="0.387" stop-color="#fbff04"/><stop offset="0.434" stop-color="#beff41"/><stop offset="0.519" stop-color="#a6ff59"/><stop offset="0.999" stop-color="#a6ff59"/></linearGradient><linearGradient id="c74" gradientUnits="userSpaceOnUse" x1="0" y1="538.9" x2="0" y2="668.0"><stop offset="0.000" stop-color="#ff2e00"/><stop offset="0.209" stop-color="#ff5000"/><stop offset="0.310" stop-color="#ff8000"/><stop offset="0.348" stop-color="#ffab00"/><stop offset="0.379" stop-color="#fff700"/><stop offset="0.387" stop-color="#f9ff06"/><stop offset="0.434" stop-color="#bdff42"/><stop offset="0.519" stop-color="#a4ff5b"/><stop offset="0.999" stop-color="#a4ff5b"/></linearGradient><linearGradient id="c75" gradientUnits="userSpaceOnUse" x1="0" y1="538.9" x2="0" y2="668.0"><stop offset="0.000" stop-color="#ff2e00"/><stop offset="0.209" stop-color="#ff5000"/><stop offset="0.310" stop-color="#ff8200"/><stop offset="0.341" stop-color="#ffa300"/><stop offset="0.356" stop-color="#ffbf00"/><stop offset="0.379" stop-color="#fff900"/><stop offset="0.395" stop-color="#ebff14"/><stop offset="0.426" stop-color="#c3ff3c"/><stop offset="0.441" stop-color="#b6ff49"/><stop offset="0.519" stop-color="#a3ff5c"/><stop offset="0.999" stop-color="#a3ff5c"/></linearGradient><linearGradient id="c76" gradientUnits="userSpaceOnUse" x1="0" y1="538.9" x2="0" y2="668.0"><stop offset="0.000" stop-color="#ff2e00"/><stop offset="0.209" stop-color="#ff5100"/><stop offset="0.310" stop-color="#ff8300"/><stop offset="0.341" stop-color="#ffa400"/><stop offset="0.356" stop-color="#ffc200"/><stop offset="0.379" stop-color="#fffc00"/><stop offset="0.418" stop-color="#c8ff37"/><stop offset="0.441" stop-color="#b5ff4a"/><stop offset="0.519" stop-color="#a1ff5e"/><stop offset="0.999" stop-color="#a1ff5e"/></linearGradient><linearGradient id="c77" gradientUnits="userSpaceOnUse" x1="0" y1="538.9" x2="0" y2="668.0"><stop offset="0.000" stop-color="#ff2e00"/><stop offset="0.209" stop-color="#ff5100"/><stop offset="0.310" stop-color="#ff8400"/><stop offset="0.341" stop-color="#ffa600"/><stop offset="0.356" stop-color="#ffc500"/><stop offset="0.379" stop-color="#fffe00"/><stop offset="0.418" stop-color="#c5ff3a"/><stop offset="0.441" stop-color="#b3ff4c"/><stop offset="0.519" stop-color="#9fff60"/><stop offset="0.999" stop-color="#9fff60"/></linearGradient><linearGradient id="c78" gradientUnits="userSpaceOnUse" x1="0" y1="538.9" x2="0" y2="668.0"><stop offset="0.000" stop-color="#ff2e00"/><stop offset="0.201" stop-color="#ff4f00"/><stop offset="0.302" stop-color="#ff7f00"/><stop offset="0.333" stop-color="#ff9d00"/><stop offset="0.348" stop-color="#ffb700"/><stop offset="0.379" stop-color="#feff01"/><stop offset="0.410" stop-color="#cbff34"/><stop offset="0.441" stop-color="#b2ff4d"/><stop offset="0.511" stop-color="#9eff61"/><stop offset="0.999" stop-color="#9eff61"/></linearGradient><linearGradient id="c79" gradientUnits="userSpaceOnUse" x1="0" y1="538.9" x2="0" y2="668.0"><stop offset="0.000" stop-color="#ff2e00"/><stop offset="0.201" stop-color="#ff4f00"/><stop offset="0.302" stop-color="#ff8000"/><stop offset="0.333" stop-color="#ff9e00"/><stop offset="0.348" stop-color="#ffb900"/><stop offset="0.372" stop-color="#fff200"/><stop offset="0.379" stop-color="#fbff04"/><stop offset="0.410" stop-color="#c8ff37"/><stop offset="0.441" stop-color="#b0ff4f"/><stop offset="0.511" stop-color="#9cff63"/><stop offset="0.999" stop-color="#9cff63"/></linearGradient><linearGradient id="c80" gradientUnits="userSpaceOnUse" x1="0" y1="538.9" x2="0" y2="668.0"><stop offset="0.000" stop-color="#ff2e00"/><stop offset="0.201" stop-color="#ff5000"/><stop offset="0.302" stop-color="#ff8000"/><stop offset="0.333" stop-color="#ff9f00"/><stop offset="0.348" stop-color="#ffbc00"/><stop offset="0.372" stop-color="#fff500"/><stop offset="0.379" stop-color="#f9ff06"/><stop offset="0.410" stop-color="#c5ff3a"/><stop offset="0.441" stop-color="#afff50"/><stop offset="0.511" stop-color="#9bff64"/><stop offset="0.999" stop-color="#9aff65"/></linearGradient><linearGradient id="c81" gradientUnits="userSpaceOnUse" x1="0" y1="538.9" x2="0" y2="668.0"><stop offset="0.000" stop-color="#ff2e00"/><stop offset="0.201" stop-color="#ff5000"/><stop offset="0.302" stop-color="#ff8100"/><stop offset="0.333" stop-color="#ffa000"/><stop offset="0.348" stop-color="#ffbf00"/><stop offset="0.372" stop-color="#fff800"/><stop offset="0.379" stop-color="#f6ff09"/><stop offset="0.410" stop-color="#c2ff3d"/><stop offset="0.441" stop-color="#adff52"/><stop offset="0.511" stop-color="#99ff66"/><stop offset="0.999" stop-color="#99ff66"/></linearGradient><linearGradient id="c82" gradientUnits="userSpaceOnUse" x1="0" y1="538.9" x2="0" y2="668.0"><stop offset="0.000" stop-color="#ff2e00"/><stop offset="0.201" stop-color="#ff5100"/><stop offset="0.302" stop-color="#ff8200"/><stop offset="0.333" stop-color="#ffa200"/><stop offset="0.348" stop-color="#ffc200"/><stop offset="0.372" stop-color="#fffb00"/><stop offset="0.410" stop-color="#bfff40"/><stop offset="0.434" stop-color="#afff50"/><stop offset="0.503" stop-color="#98ff67"/><stop offset="0.999" stop-color="#97ff68"/></linearGradient><linearGradient id="c83" gradientUnits="userSpaceOnUse" x1="0" y1="538.9" x2="0" y2="668.0"><stop offset="0.000" stop-color="#ff2e00"/><stop offset="0.201" stop-color="#ff5100"/><stop offset="0.302" stop-color="#ff8300"/><stop offset="0.333" stop-color="#ffa300"/><stop offset="0.348" stop-color="#ffc500"/><stop offset="0.372" stop-color="#fffe00"/><stop offset="0.410" stop-color="#bcff43"/><stop offset="0.434" stop-color="#adff52"/><stop offset="0.503" stop-color="#96ff69"/><stop offset="0.999" stop-color="#96ff69"/></linearGradient><linearGradient id="c84" gradientUnits="userSpaceOnUse" x1="0" y1="538.9" x2="0" y2="668.0"><stop offset="0.000" stop-color="#ff2e00"/><stop offset="0.194" stop-color="#ff4e00"/><stop offset="0.302" stop-color="#ff8400"/><stop offset="0.333" stop-color="#ffa400"/><stop offset="0.348" stop-color="#ffc700"/><stop offset="0.364" stop-color="#fff000"/><stop offset="0.372" stop-color="#fdff02"/><stop offset="0.410" stop-color="#b8ff47"/><stop offset="0.426" stop-color="#aeff51"/><stop offset="0.503" stop-color="#94ff6b"/><stop offset="0.999" stop-color="#94ff6b"/></linearGradient><linearGradient id="c85" gradientUnits="userSpaceOnUse" x1="0" y1="538.9" x2="0" y2="668.0"><stop offset="0.000" stop-color="#ff2e00"/><stop offset="0.194" stop-color="#ff4f00"/><stop offset="0.294" stop-color="#ff7f00"/><stop offset="0.333" stop-color="#ffa900"/><stop offset="0.348" stop-color="#ffcd00"/><stop offset="0.364" stop-color="#fff700"/><stop offset="0.372" stop-color="#f5ff0a"/><stop offset="0.410" stop-color="#b5ff4a"/><stop offset="0.434" stop-color="#a9ff56"/><stop offset="0.503" stop-color="#94ff6b"/><stop offset="0.999" stop-color="#94ff6b"/></linearGradient><linearGradient id="c86" gradientUnits="userSpaceOnUse" x1="0" y1="538.9" x2="0" y2="668.0"><stop offset="0.000" stop-color="#ff2e00"/><stop offset="0.194" stop-color="#ff5100"/><stop offset="0.294" stop-color="#ff7f00"/><stop offset="0.325" stop-color="#ffa200"/><stop offset="0.341" stop-color="#ffbe00"/><stop offset="0.364" stop-color="#fffd00"/><stop offset="0.387" stop-color="#cfff30"/><stop offset="0.410" stop-color="#b1ff4e"/><stop offset="0.465" stop-color="#9eff61"/><stop offset="0.511" stop-color="#94ff6b"/><stop offset="0.999" stop-color="#94ff6b"/></linearGradient><linearGradient id="c87" gradientUnits="userSpaceOnUse" x1="0" y1="538.9" x2="0" y2="668.0"><stop offset="0.000" stop-color="#ff2e00"/><stop offset="0.194" stop-color="#ff5200"/><stop offset="0.286" stop-color="#ff7a00"/><stop offset="0.317" stop-color="#ff9a00"/><stop offset="0.333" stop-color="#ffb200"/><stop offset="0.356" stop-color="#ffed00"/><stop offset="0.364" stop-color="#faff05"/><stop offset="0.379" stop-color="#d3ff2c"/><stop offset="0.395" stop-color="#beff41"/><stop offset="0.418" stop-color="#a8ff57"/><stop offset="0.511" stop-color="#94ff6b"/><stop offset="0.999" stop-color="#94ff6b"/></linearGradient><linearGradient id="c88" gradientUnits="userSpaceOnUse" x1="0" y1="538.9" x2="0" y2="668.0"><stop offset="0.000" stop-color="#ff2e00"/><stop offset="0.194" stop-color="#ff5300"/><stop offset="0.286" stop-color="#ff7a00"/><stop offset="0.317" stop-color="#ff9c00"/><stop offset="0.341" stop-color="#ffc900"/><stop offset="0.356" stop-color="#fff300"/><stop offset="0.364" stop-color="#f4ff0b"/><stop offset="0.379" stop-color="#caff35"/><stop offset="0.387" stop-color="#bdff42"/><stop offset="0.418" stop-color="#a5ff5a"/><stop offset="0.511" stop-color="#94ff6b"/><stop offset="0.999" stop-color="#94ff6b"/></linearGradient><linearGradient id="c89" gradientUnits="userSpaceOnUse" x1="0" y1="538.9" x2="0" y2="668.0"><stop offset="0.000" stop-color="#ff2e00"/><stop offset="0.194" stop-color="#ff5500"/><stop offset="0.286" stop-color="#ff7a00"/><stop offset="0.317" stop-color="#ff9e00"/><stop offset="0.341" stop-color="#ffce00"/><stop offset="0.356" stop-color="#fff900"/><stop offset="0.364" stop-color="#edff12"/><stop offset="0.379" stop-color="#c1ff3e"/><stop offset="0.387" stop-color="#b4ff4b"/><stop offset="0.418" stop-color="#a2ff5d"/><stop offset="0.519" stop-color="#94ff6b"/><stop offset="0.999" stop-color="#94ff6b"/></linearGradient><linearGradient id="c90" gradientUnits="userSpaceOnUse" x1="0" y1="538.9" x2="0" y2="668.0"><stop offset="0.000" stop-color="#ff2e00"/><stop offset="0.186" stop-color="#ff5300"/><stop offset="0.286" stop-color="#ff7a00"/><stop offset="0.317" stop-color="#ffa000"/><stop offset="0.333" stop-color="#ffc000"/><stop offset="0.356" stop-color="#ffff00"/><stop offset="0.379" stop-color="#b8ff47"/><stop offset="0.387" stop-color="#abff54"/><stop offset="0.434" stop-color="#9dff62"/><stop offset="0.527" stop-color="#94ff6b"/><stop offset="0.999" stop-color="#94ff6b"/></linearGradient><linearGradient id="c91" gradientUnits="userSpaceOnUse" x1="0" y1="538.9" x2="0" y2="668.0"><stop offset="0.000" stop-color="#ff2e00"/><stop offset="0.186" stop-color="#ff5500"/><stop offset="0.279" stop-color="#ff7400"/><stop offset="0.310" stop-color="#ff9800"/><stop offset="0.325" stop-color="#ffb100"/><stop offset="0.348" stop-color="#ffed00"/><stop offset="0.356" stop-color="#faff05"/><stop offset="0.379" stop-color="#aeff51"/><stop offset="0.387" stop-color="#a2ff5d"/><stop offset="0.519" stop-color="#94ff6b"/><stop offset="0.999" stop-color="#94ff6b"/></linearGradient><linearGradient id="c92" gradientUnits="userSpaceOnUse" x1="0" y1="538.9" x2="0" y2="668.0"><stop offset="0.000" stop-color="#ff2e00"/><stop offset="0.178" stop-color="#ff5300"/><stop offset="0.279" stop-color="#ff7400"/><stop offset="0.310" stop-color="#ff9900"/><stop offset="0.325" stop-color="#ffb300"/><stop offset="0.348" stop-color="#fff000"/><stop offset="0.356" stop-color="#f7ff08"/><stop offset="0.379" stop-color="#aaff55"/><stop offset="0.387" stop-color="#9eff61"/><stop offset="0.534" stop-color="#94ff6b"/><stop offset="0.999" stop-color="#94ff6b"/></linearGradient><linearGradient id="c93" gradientUnits="userSpaceOnUse" x1="0" y1="538.9" x2="0" y2="668.0"><stop offset="0.000" stop-color="#ff2e00"/><stop offset="0.178" stop-color="#ff5300"/><stop offset="0.279" stop-color="#ff7400"/><stop offset="0.310" stop-color="#ff9900"/><stop offset="0.325" stop-color="#ffb300"/><stop offset="0.348" stop-color="#fff000"/><stop offset="0.356" stop-color="#f7ff08"/><stop offset="0.379" stop-color="#aaff55"/><stop offset="0.387" stop-color="#9eff61"/><stop offset="0.534" stop-color="#94ff6b"/><stop offset="0.999" stop-color="#94ff6b"/></linearGradient><linearGradient id="c94" gradientUnits="userSpaceOnUse" x1="0" y1="538.9" x2="0" y2="668.0"><stop offset="0.000" stop-color="#ff2e00"/><stop offset="0.178" stop-color="#ff5300"/><stop offset="0.279" stop-color="#ff7400"/><stop offset="0.310" stop-color="#ff9900"/><stop offset="0.325" stop-color="#ffb300"/><stop offset="0.348" stop-color="#fff000"/><stop offset="0.356" stop-color="#f7ff08"/><stop offset="0.379" stop-color="#aaff55"/><stop offset="0.387" stop-color="#9eff61"/><stop offset="0.534" stop-color="#94ff6b"/><stop offset="0.999" stop-color="#94ff6b"/></linearGradient><linearGradient id="c95" gradientUnits="userSpaceOnUse" x1="0" y1="538.9" x2="0" y2="668.0"><stop offset="0.000" stop-color="#ff2e00"/><stop offset="0.178" stop-color="#ff5300"/><stop offset="0.279" stop-color="#ff7400"/><stop offset="0.310" stop-color="#ff9900"/><stop offset="0.325" stop-color="#ffb300"/><stop offset="0.348" stop-color="#fff000"/><stop offset="0.356" stop-color="#f7ff08"/><stop offset="0.379" stop-color="#aaff55"/><stop offset="0.387" stop-color="#9eff61"/><stop offset="0.534" stop-color="#94ff6b"/><stop offset="0.999" stop-color="#94ff6b"/></linearGradient><linearGradient id="c96" gradientUnits="userSpaceOnUse" x1="0" y1="538.9" x2="0" y2="668.0"><stop offset="0.000" stop-color="#ff2e00"/><stop offset="0.178" stop-color="#ff5300"/><stop offset="0.279" stop-color="#ff7400"/><stop offset="0.310" stop-color="#ff9900"/><stop offset="0.325" stop-color="#ffb300"/><stop offset="0.348" stop-color="#fff000"/><stop offset="0.356" stop-color="#f7ff08"/><stop offset="0.379" stop-color="#aaff55"/><stop offset="0.387" stop-color="#9eff61"/><stop offset="0.534" stop-color="#94ff6b"/><stop offset="0.999" stop-color="#94ff6b"/></linearGradient><linearGradient id="c97" gradientUnits="userSpaceOnUse" x1="0" y1="538.9" x2="0" y2="668.0"><stop offset="0.000" stop-color="#ff2e00"/><stop offset="0.178" stop-color="#ff5300"/><stop offset="0.279" stop-color="#ff7400"/><stop offset="0.310" stop-color="#ff9900"/><stop offset="0.325" stop-color="#ffb300"/><stop offset="0.348" stop-color="#fff000"/><stop offset="0.356" stop-color="#f7ff08"/><stop offset="0.379" stop-color="#aaff55"/><stop offset="0.387" stop-color="#9eff61"/><stop offset="0.527" stop-color="#94ff6b"/><stop offset="0.999" stop-color="#94ff6b"/></linearGradient><linearGradient id="c98" gradientUnits="userSpaceOnUse" x1="0" y1="538.9" x2="0" y2="668.0"><stop offset="0.000" stop-color="#ff2e00"/><stop offset="0.178" stop-color="#ff5300"/><stop offset="0.279" stop-color="#ff7400"/><stop offset="0.310" stop-color="#ff9900"/><stop offset="0.325" stop-color="#ffb300"/><stop offset="0.348" stop-color="#fff000"/><stop offset="0.356" stop-color="#f7ff08"/><stop offset="0.379" stop-color="#aaff55"/><stop offset="0.387" stop-color="#9eff61"/><stop offset="0.527" stop-color="#94ff6b"/><stop offset="0.999" stop-color="#94ff6b"/></linearGradient><linearGradient id="c99" gradientUnits="userSpaceOnUse" x1="0" y1="538.9" x2="0" y2="668.0"><stop offset="0.000" stop-color="#ff2e00"/><stop offset="0.178" stop-color="#ff5300"/><stop offset="0.279" stop-color="#ff7400"/><stop offset="0.310" stop-color="#ff9900"/><stop offset="0.325" stop-color="#ffb300"/><stop offset="0.348" stop-color="#fff000"/><stop offset="0.356" stop-color="#f7ff08"/><stop offset="0.379" stop-color="#aaff55"/><stop offset="0.387" stop-color="#9eff61"/><stop offset="0.527" stop-color="#94ff6b"/><stop offset="0.999" stop-color="#94ff6b"/></linearGradient><linearGradient id="c100" gradientUnits="userSpaceOnUse" x1="0" y1="538.9" x2="0" y2="668.0"><stop offset="0.000" stop-color="#ff2e00"/><stop offset="0.178" stop-color="#ff5300"/><stop offset="0.279" stop-color="#ff7400"/><stop offset="0.310" stop-color="#ff9900"/><stop offset="0.325" stop-color="#ffb300"/><stop offset="0.348" stop-color="#fff000"/><stop offset="0.356" stop-color="#f7ff08"/><stop offset="0.379" stop-color="#aaff55"/><stop offset="0.387" stop-color="#9eff61"/><stop offset="0.527" stop-color="#94ff6b"/><stop offset="0.999" stop-color="#94ff6b"/></linearGradient><linearGradient id="c101" gradientUnits="userSpaceOnUse" x1="0" y1="538.9" x2="0" y2="668.0"><stop offset="0.000" stop-color="#ff2e00"/><stop offset="0.178" stop-color="#ff5300"/><stop offset="0.279" stop-color="#ff7400"/><stop offset="0.310" stop-color="#ff9900"/><stop offset="0.325" stop-color="#ffb300"/><stop offset="0.348" stop-color="#fff000"/><stop offset="0.356" stop-color="#f7ff08"/><stop offset="0.379" stop-color="#aaff55"/><stop offset="0.387" stop-color="#9eff61"/><stop offset="0.519" stop-color="#94ff6b"/><stop offset="0.999" stop-color="#94ff6b"/></linearGradient><linearGradient id="c102" gradientUnits="userSpaceOnUse" x1="0" y1="538.9" x2="0" y2="668.0"><stop offset="0.000" stop-color="#ff2e00"/><stop offset="0.178" stop-color="#ff5300"/><stop offset="0.279" stop-color="#ff7400"/><stop offset="0.310" stop-color="#ff9900"/><stop offset="0.325" stop-color="#ffb300"/><stop offset="0.348" stop-color="#fff000"/><stop offset="0.356" stop-color="#f7ff08"/><stop offset="0.379" stop-color="#aaff55"/><stop offset="0.387" stop-color="#9eff61"/><stop offset="0.519" stop-color="#94ff6b"/><stop offset="0.999" stop-color="#94ff6b"/></linearGradient><linearGradient id="c103" gradientUnits="userSpaceOnUse" x1="0" y1="538.9" x2="0" y2="668.0"><stop offset="0.000" stop-color="#ff2e00"/><stop offset="0.178" stop-color="#ff5300"/><stop offset="0.279" stop-color="#ff7400"/><stop offset="0.310" stop-color="#ff9900"/><stop offset="0.325" stop-color="#ffb300"/><stop offset="0.348" stop-color="#fff000"/><stop offset="0.356" stop-color="#f7ff08"/><stop offset="0.379" stop-color="#aaff55"/><stop offset="0.387" stop-color="#9eff61"/><stop offset="0.519" stop-color="#94ff6b"/><stop offset="0.999" stop-color="#94ff6b"/></linearGradient><linearGradient id="c104" gradientUnits="userSpaceOnUse" x1="0" y1="538.9" x2="0" y2="668.0"><stop offset="0.000" stop-color="#ff2e00"/><stop offset="0.178" stop-color="#ff5300"/><stop offset="0.279" stop-color="#ff7400"/><stop offset="0.310" stop-color="#ff9900"/><stop offset="0.325" stop-color="#ffb300"/><stop offset="0.348" stop-color="#fff000"/><stop offset="0.356" stop-color="#f7ff08"/><stop offset="0.379" stop-color="#aaff55"/><stop offset="0.387" stop-color="#9eff61"/><stop offset="0.519" stop-color="#94ff6b"/><stop offset="0.999" stop-color="#94ff6b"/></linearGradient><linearGradient id="c105" gradientUnits="userSpaceOnUse" x1="0" y1="538.9" x2="0" y2="668.0"><stop offset="0.000" stop-color="#ff2e00"/><stop offset="0.178" stop-color="#ff5300"/><stop offset="0.279" stop-color="#ff7400"/><stop offset="0.310" stop-color="#ff9900"/><stop offset="0.325" stop-color="#ffb300"/><stop offset="0.348" stop-color="#fff000"/><stop offset="0.356" stop-color="#f7ff08"/><stop offset="0.379" stop-color="#aaff55"/><stop offset="0.387" stop-color="#9eff61"/><stop offset="0.511" stop-color="#94ff6b"/><stop offset="0.999" stop-color="#94ff6b"/></linearGradient><linearGradient id="c106" gradientUnits="userSpaceOnUse" x1="0" y1="538.9" x2="0" y2="668.0"><stop offset="0.000" stop-color="#ff2e00"/><stop offset="0.178" stop-color="#ff5300"/><stop offset="0.279" stop-color="#ff7400"/><stop offset="0.310" stop-color="#ff9900"/><stop offset="0.325" stop-color="#ffb300"/><stop offset="0.348" stop-color="#fff000"/><stop offset="0.356" stop-color="#f7ff08"/><stop offset="0.379" stop-color="#aaff55"/><stop offset="0.387" stop-color="#9eff61"/><stop offset="0.511" stop-color="#94ff6b"/><stop offset="0.999" stop-color="#94ff6b"/></linearGradient></defs><g clip-path="url(#cc)"><rect x="476" y="538.9" width="2.3" height="129.2" fill="url(#c0)"/><rect x="478" y="538.9" width="2.3" height="129.2" fill="url(#c1)"/><rect x="480" y="538.9" width="2.3" height="129.2" fill="url(#c2)"/><rect x="482" y="538.9" width="2.3" height="129.2" fill="url(#c3)"/><rect x="484" y="538.9" width="2.3" height="129.2" fill="url(#c4)"/><rect x="486" y="538.9" width="2.3" height="129.2" fill="url(#c5)"/><rect x="488" y="538.9" width="2.3" height="129.2" fill="url(#c6)"/><rect x="490" y="538.9" width="2.3" height="129.2" fill="url(#c7)"/><rect x="492" y="538.9" width="2.3" height="129.2" fill="url(#c8)"/><rect x="494" y="538.9" width="2.3" height="129.2" fill="url(#c9)"/><rect x="496" y="538.9" width="2.3" height="129.2" fill="url(#c10)"/><rect x="498" y="538.9" width="2.3" height="129.2" fill="url(#c11)"/><rect x="500" y="538.9" width="2.3" height="129.2" fill="url(#c12)"/><rect x="502" y="538.9" width="2.3" height="129.2" fill="url(#c13)"/><rect x="504" y="538.9" width="2.3" height="129.2" fill="url(#c14)"/><rect x="506" y="538.9" width="2.3" height="129.2" fill="url(#c15)"/><rect x="508" y="538.9" width="2.3" height="129.2" fill="url(#c16)"/><rect x="510" y="538.9" width="2.3" height="129.2" fill="url(#c17)"/><rect x="512" y="538.9" width="2.3" height="129.2" fill="url(#c18)"/><rect x="514" y="538.9" width="2.3" height="129.2" fill="url(#c19)"/><rect x="516" y="538.9" width="2.3" height="129.2" fill="url(#c20)"/><rect x="518" y="538.9" width="2.3" height="129.2" fill="url(#c21)"/><rect x="520" y="538.9" width="2.3" height="129.2" fill="url(#c22)"/><rect x="522" y="538.9" width="2.3" height="129.2" fill="url(#c23)"/><rect x="524" y="538.9" width="2.3" height="129.2" fill="url(#c24)"/><rect x="526" y="538.9" width="2.3" height="129.2" fill="url(#c25)"/><rect x="528" y="538.9" width="2.3" height="129.2" fill="url(#c26)"/><rect x="530" y="538.9" width="2.3" height="129.2" fill="url(#c27)"/><rect x="532" y="538.9" width="2.3" height="129.2" fill="url(#c28)"/><rect x="534" y="538.9" width="2.3" height="129.2" fill="url(#c29)"/><rect x="536" y="538.9" width="2.3" height="129.2" fill="url(#c30)"/><rect x="538" y="538.9" width="2.3" height="129.2" fill="url(#c31)"/><rect x="540" y="538.9" width="2.3" height="129.2" fill="url(#c32)"/><rect x="542" y="538.9" width="2.3" height="129.2" fill="url(#c33)"/><rect x="544" y="538.9" width="2.3" height="129.2" fill="url(#c34)"/><rect x="546" y="538.9" width="2.3" height="129.2" fill="url(#c35)"/><rect x="548" y="538.9" width="2.3" height="129.2" fill="url(#c36)"/><rect x="550" y="538.9" width="2.3" height="129.2" fill="url(#c37)"/><rect x="552" y="538.9" width="2.3" height="129.2" fill="url(#c38)"/><rect x="554" y="538.9" width="2.3" height="129.2" fill="url(#c39)"/><rect x="556" y="538.9" width="2.3" height="129.2" fill="url(#c40)"/><rect x="558" y="538.9" width="2.3" height="129.2" fill="url(#c41)"/><rect x="560" y="538.9" width="2.3" height="129.2" fill="url(#c42)"/><rect x="562" y="538.9" width="2.3" height="129.2" fill="url(#c43)"/><rect x="564" y="538.9" width="2.3" height="129.2" fill="url(#c44)"/><rect x="566" y="538.9" width="2.3" height="129.2" fill="url(#c45)"/><rect x="568" y="538.9" width="2.3" height="129.2" fill="url(#c46)"/><rect x="570" y="538.9" width="2.3" height="129.2" fill="url(#c47)"/><rect x="572" y="538.9" width="2.3" height="129.2" fill="url(#c48)"/><rect x="574" y="538.9" width="2.3" height="129.2" fill="url(#c49)"/><rect x="576" y="538.9" width="2.3" height="129.2" fill="url(#c50)"/><rect x="578" y="538.9" width="2.3" height="129.2" fill="url(#c51)"/><rect x="580" y="538.9" width="2.3" height="129.2" fill="url(#c52)"/><rect x="582" y="538.9" width="2.3" height="129.2" fill="url(#c53)"/><rect x="584" y="538.9" width="2.3" height="129.2" fill="url(#c54)"/><rect x="586" y="538.9" width="2.3" height="129.2" fill="url(#c55)"/><rect x="588" y="538.9" width="2.3" height="129.2" fill="url(#c56)"/><rect x="590" y="538.9" width="2.3" height="129.2" fill="url(#c57)"/><rect x="592" y="538.9" width="2.3" height="129.2" fill="url(#c58)"/><rect x="594" y="538.9" width="2.3" height="129.2" fill="url(#c59)"/><rect x="596" y="538.9" width="2.3" height="129.2" fill="url(#c60)"/><rect x="598" y="538.9" width="2.3" height="129.2" fill="url(#c61)"/><rect x="600" y="538.9" width="2.3" height="129.2" fill="url(#c62)"/><rect x="602" y="538.9" width="2.3" height="129.2" fill="url(#c63)"/><rect x="604" y="538.9" width="2.3" height="129.2" fill="url(#c64)"/><rect x="606" y="538.9" width="2.3" height="129.2" fill="url(#c65)"/><rect x="608" y="538.9" width="2.3" height="129.2" fill="url(#c66)"/><rect x="610" y="538.9" width="2.3" height="129.2" fill="url(#c67)"/><rect x="612" y="538.9" width="2.3" height="129.2" fill="url(#c68)"/><rect x="614" y="538.9" width="2.3" height="129.2" fill="url(#c69)"/><rect x="616" y="538.9" width="2.3" height="129.2" fill="url(#c70)"/><rect x="618" y="538.9" width="2.3" height="129.2" fill="url(#c71)"/><rect x="620" y="538.9" width="2.3" height="129.2" fill="url(#c72)"/><rect x="622" y="538.9" width="2.3" height="129.2" fill="url(#c73)"/><rect x="624" y="538.9" width="2.3" height="129.2" fill="url(#c74)"/><rect x="626" y="538.9" width="2.3" height="129.2" fill="url(#c75)"/><rect x="628" y="538.9" width="2.3" height="129.2" fill="url(#c76)"/><rect x="630" y="538.9" width="2.3" height="129.2" fill="url(#c77)"/><rect x="632" y="538.9" width="2.3" height="129.2" fill="url(#c78)"/><rect x="634" y="538.9" width="2.3" height="129.2" fill="url(#c79)"/><rect x="636" y="538.9" width="2.3" height="129.2" fill="url(#c80)"/><rect x="638" y="538.9" width="2.3" height="129.2" fill="url(#c81)"/><rect x="640" y="538.9" width="2.3" height="129.2" fill="url(#c82)"/><rect x="642" y="538.9" width="2.3" height="129.2" fill="url(#c83)"/><rect x="644" y="538.9" width="2.3" height="129.2" fill="url(#c84)"/><rect x="646" y="538.9" width="2.3" height="129.2" fill="url(#c85)"/><rect x="648" y="538.9" width="2.3" height="129.2" fill="url(#c86)"/><rect x="650" y="538.9" width="2.3" height="129.2" fill="url(#c87)"/><rect x="652" y="538.9" width="2.3" height="129.2" fill="url(#c88)"/><rect x="654" y="538.9" width="2.3" height="129.2" fill="url(#c89)"/><rect x="656" y="538.9" width="2.3" height="129.2" fill="url(#c90)"/><rect x="658" y="538.9" width="2.3" height="129.2" fill="url(#c91)"/><rect x="660" y="538.9" width="2.3" height="129.2" fill="url(#c92)"/><rect x="662" y="538.9" width="2.3" height="129.2" fill="url(#c93)"/><rect x="664" y="538.9" width="2.3" height="129.2" fill="url(#c94)"/><rect x="666" y="538.9" width="2.3" height="129.2" fill="url(#c95)"/><rect x="668" y="538.9" width="2.3" height="129.2" fill="url(#c96)"/><rect x="670" y="538.9" width="2.3" height="129.2" fill="url(#c97)"/><rect x="672" y="538.9" width="2.3" height="129.2" fill="url(#c98)"/><rect x="674" y="538.9" width="2.3" height="129.2" fill="url(#c99)"/><rect x="676" y="538.9" width="2.3" height="129.2" fill="url(#c100)"/><rect x="678" y="538.9" width="2.3" height="129.2" fill="url(#c101)"/><rect x="680" y="538.9" width="2.3" height="129.2" fill="url(#c102)"/><rect x="682" y="538.9" width="2.3" height="129.2" fill="url(#c103)"/><rect x="684" y="538.9" width="2.3" height="129.2" fill="url(#c104)"/><rect x="686" y="538.9" width="2.3" height="129.2" fill="url(#c105)"/><rect x="688" y="538.9" width="2.3" height="129.2" fill="url(#c106)"/></g>
<text x="72.5" y="548.6" font-size="23" text-anchor="end">0</text>
<text x="72.5" y="584.5" font-size="23" text-anchor="end">50</text>
<text x="72.5" y="621.8" font-size="23" text-anchor="end">100</text>
<text x="72.5" y="659.2" font-size="23" text-anchor="end">150</text>
<text x="72.5" y="695.7" font-size="23" text-anchor="end">200</text>
<text transform="translate(24.0,615.8) rotate(-90)" font-size="23" text-anchor="middle">Depth, (m)</text>
<text x="78.8" y="720.7" font-size="23" text-anchor="middle">&#8722;125.2</text>
<text x="206.8" y="720.7" font-size="23" text-anchor="middle">&#8722;125</text>
<text x="333.9" y="720.7" font-size="23" text-anchor="middle">&#8722;124.8</text>
<text x="461.8" y="720.7" font-size="23" text-anchor="middle">&#8722;124.6</text>
<text x="588.2" y="720.7" font-size="23" text-anchor="middle">&#8722;124.4</text>
<text x="715.3" y="720.7" font-size="23" text-anchor="middle">&#8722;124.2</text>
<text x="842.5" y="720.7" font-size="23" text-anchor="middle">&#8722;124</text>
<text x="465.5" y="745" font-size="23" text-anchor="middle">Longitude</text>
<rect x="877.75" y="46.95" width="38.6" height="149.40" fill="url(#jet)" stroke="#000" stroke-width="1.3"/>
<line x1="913.5" y1="177.2" x2="917" y2="177.2" stroke="#000" stroke-width="1.3"/>
<text x="921" y="184.8" font-size="23">6</text>
<line x1="913.5" y1="139.9" x2="917" y2="139.9" stroke="#000" stroke-width="1.3"/>
<text x="921" y="147.5" font-size="23">8</text>
<line x1="913.5" y1="102.7" x2="917" y2="102.7" stroke="#000" stroke-width="1.3"/>
<text x="921" y="110.3" font-size="23">10</text>
<line x1="913.5" y1="65.4" x2="917" y2="65.4" stroke="#000" stroke-width="1.3"/>
<text x="921" y="73.0" font-size="23">12</text>
<rect x="877.75" y="293.55" width="38.6" height="148.50" fill="url(#jet)" stroke="#000" stroke-width="1.3"/>
<line x1="913.5" y1="441.5" x2="917" y2="441.5" stroke="#000" stroke-width="1.3"/>
<text x="921" y="449.1" font-size="23">30</text>
<line x1="913.5" y1="382.3" x2="917" y2="382.3" stroke="#000" stroke-width="1.3"/>
<text x="921" y="389.9" font-size="23">32</text>
<line x1="913.5" y1="323.0" x2="917" y2="323.0" stroke="#000" stroke-width="1.3"/>
<text x="921" y="330.6" font-size="23">34</text>
<rect x="877.75" y="540.55" width="38.6" height="148.46" fill="url(#jet)" stroke="#000" stroke-width="1.3"/>
<line x1="913.5" y1="688.5" x2="917" y2="688.5" stroke="#000" stroke-width="1.3"/>
<text x="921" y="696.1" font-size="23">0</text>
<line x1="913.5" y1="651.4" x2="917" y2="651.4" stroke="#000" stroke-width="1.3"/>
<text x="921" y="659.0" font-size="23">2</text>
<line x1="913.5" y1="614.4" x2="917" y2="614.4" stroke="#000" stroke-width="1.3"/>
<text x="921" y="622.0" font-size="23">4</text>
<line x1="913.5" y1="577.4" x2="917" y2="577.4" stroke="#000" stroke-width="1.3"/>
<text x="921" y="585.0" font-size="23">6</text>
<line x1="913.5" y1="540.4" x2="917" y2="540.4" stroke="#000" stroke-width="1.3"/>
<text x="921" y="548.0" font-size="23">8</text>
<text x="543" y="189.9" font-size="23">Temperature (<tspan font-size="15" dy="-10.5">o</tspan><tspan dy="10.5">C)</tspan></text>
<text x="543" y="433.5" font-size="23">Salinity (PSU)</text>
<text x="543" y="680.9" font-size="23">Dissolved Oxygen (mL/L)</text>
</svg></body></html>
